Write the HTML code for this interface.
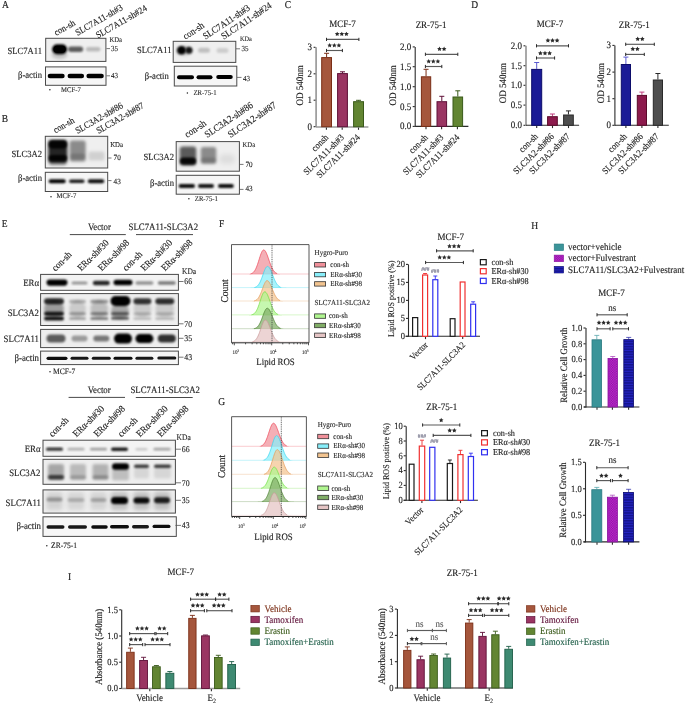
<!DOCTYPE html><html><head><meta charset="utf-8"><style>html,body{margin:0;padding:0;background:#fff;}svg{display:block;filter:blur(0.35px);} text{font-family:"Liberation Serif",serif;text-rendering:geometricPrecision;}</style></head><body><svg width="685" height="704" viewBox="0 0 685 704" font-family="Liberation Serif, serif"><defs><clipPath id="cp1"><rect x="45.7" y="38.3" width="60.2" height="23.1"/></clipPath><filter id="bl2" x="-50%" y="-50%" width="200%" height="200%"><feGaussianBlur stdDeviation="1.8"/></filter><filter id="bl3" x="-50%" y="-50%" width="200%" height="200%"><feGaussianBlur stdDeviation="1.1"/></filter><filter id="bl4" x="-50%" y="-50%" width="200%" height="200%"><feGaussianBlur stdDeviation="0.6"/></filter><filter id="bl5" x="-50%" y="-50%" width="200%" height="200%"><feGaussianBlur stdDeviation="1.3"/></filter><clipPath id="cp6"><rect x="45.5" y="66.9" width="60.5" height="18.4"/></clipPath><filter id="bl7" x="-50%" y="-50%" width="200%" height="200%"><feGaussianBlur stdDeviation="0.7"/></filter><clipPath id="cp8"><rect x="173.2" y="41.3" width="62.6" height="21.1"/></clipPath><filter id="bl9" x="-50%" y="-50%" width="200%" height="200%"><feGaussianBlur stdDeviation="1.5"/></filter><filter id="bl10" x="-50%" y="-50%" width="200%" height="200%"><feGaussianBlur stdDeviation="1"/></filter><filter id="bl11" x="-50%" y="-50%" width="200%" height="200%"><feGaussianBlur stdDeviation="1.2"/></filter><clipPath id="cp12"><rect x="174.3" y="66.2" width="62.5" height="19.8"/></clipPath><clipPath id="cp13"><rect x="45.3" y="136.3" width="62.4" height="31.7"/></clipPath><filter id="bl14" x="-50%" y="-50%" width="200%" height="200%"><feGaussianBlur stdDeviation="1.6"/></filter><clipPath id="cp15"><rect x="45.3" y="172.3" width="62.4" height="19.2"/></clipPath><filter id="bl16" x="-50%" y="-50%" width="200%" height="200%"><feGaussianBlur stdDeviation="0.8"/></filter><clipPath id="cp17"><rect x="176.2" y="141.6" width="63.2" height="29.6"/></clipPath><filter id="bl18" x="-50%" y="-50%" width="200%" height="200%"><feGaussianBlur stdDeviation="2"/></filter><clipPath id="cp19"><rect x="176.2" y="175.3" width="63.2" height="18.9"/></clipPath><clipPath id="cp20"><rect x="40.6" y="274.4" width="137.8" height="15.9"/></clipPath><clipPath id="cp21"><rect x="40.6" y="293.6" width="137.8" height="31.9"/></clipPath><filter id="bl22" x="-50%" y="-50%" width="200%" height="200%"><feGaussianBlur stdDeviation="0.9"/></filter><clipPath id="cp23"><rect x="40.6" y="329.4" width="137.8" height="18.2"/></clipPath><clipPath id="cp24"><rect x="40.6" y="351.1" width="137.8" height="13.5"/></clipPath><clipPath id="cp25"><rect x="43" y="440.2" width="132.4" height="16.1"/></clipPath><clipPath id="cp26"><rect x="43" y="459.3" width="132.4" height="25"/></clipPath><clipPath id="cp27"><rect x="43" y="489.9" width="132.4" height="23.2"/></clipPath><clipPath id="cp28"><rect x="43" y="516.8" width="133.3" height="19.6"/></clipPath><clipPath id="cp29"><rect x="231.5" y="244.6" width="77.5" height="98.2"/></clipPath><clipPath id="cp30"><rect x="231.6" y="416.7" width="74.8" height="99.8"/></clipPath><pattern id="pt31" width="2.4" height="2.4" patternUnits="userSpaceOnUse"><rect width="2.4" height="2.4" fill="#c22ad0"/><rect width="1.2" height="1.2" fill="#8a14a0"/><rect x="1.2" y="1.2" width="1.2" height="1.2" fill="#8a14a0"/></pattern><pattern id="pt32" width="3" height="2.6" patternUnits="userSpaceOnUse"><rect width="3" height="2.6" fill="#14148e"/><rect y="1.6" width="3" height="0.8" fill="#2a2ad6"/></pattern></defs><text transform="translate(2 8.2) scale(0.91 1)" font-size="10.45" text-anchor="start" fill="#1e1e1e" stroke="#1e1e1e" stroke-width="0.16" stroke-linejoin="round">A</text>
<text transform="translate(284.7 7.7) scale(0.91 1)" font-size="10.45" text-anchor="start" fill="#1e1e1e" stroke="#1e1e1e" stroke-width="0.16" stroke-linejoin="round">C</text>
<text transform="translate(471.2 8) scale(0.91 1)" font-size="10.45" text-anchor="start" fill="#1e1e1e" stroke="#1e1e1e" stroke-width="0.16" stroke-linejoin="round">D</text>
<text transform="translate(1.8 122) scale(0.91 1)" font-size="10.45" text-anchor="start" fill="#1e1e1e" stroke="#1e1e1e" stroke-width="0.16" stroke-linejoin="round">B</text>
<text transform="translate(1.7 227) scale(0.91 1)" font-size="10.45" text-anchor="start" fill="#1e1e1e" stroke="#1e1e1e" stroke-width="0.16" stroke-linejoin="round">E</text>
<text transform="translate(218.9 227) scale(0.91 1)" font-size="10.45" text-anchor="start" fill="#1e1e1e" stroke="#1e1e1e" stroke-width="0.16" stroke-linejoin="round">F</text>
<text transform="translate(531.3 228.5) scale(0.91 1)" font-size="10.45" text-anchor="start" fill="#1e1e1e" stroke="#1e1e1e" stroke-width="0.16" stroke-linejoin="round">H</text>
<text transform="translate(218.2 404.5) scale(0.91 1)" font-size="10.45" text-anchor="start" fill="#1e1e1e" stroke="#1e1e1e" stroke-width="0.16" stroke-linejoin="round">G</text>
<text transform="translate(68 579.5) scale(0.91 1)" font-size="10.45" text-anchor="start" fill="#1e1e1e" stroke="#1e1e1e" stroke-width="0.16" stroke-linejoin="round">I</text>
<text transform="translate(56.3 36) rotate(-30) scale(0.91 1)" font-size="9.35" text-anchor="start" fill="#1e1e1e" stroke="#1e1e1e" stroke-width="0.14" stroke-linejoin="round">con-sh</text>
<text transform="translate(77.4 35.9) rotate(-30) scale(0.91 1)" font-size="9.35" text-anchor="start" fill="#1e1e1e" stroke="#1e1e1e" stroke-width="0.14" stroke-linejoin="round">SLC7A11-sh#3</text>
<text transform="translate(98 38.6) rotate(-30) scale(0.91 1)" font-size="9.35" text-anchor="start" fill="#1e1e1e" stroke="#1e1e1e" stroke-width="0.14" stroke-linejoin="round">SLC7A11-sh#24</text>
<rect x="45.7" y="38.3" width="60.2" height="23.1" fill="#efefef"/>
<g clip-path="url(#cp1)">
<ellipse cx="59.5" cy="55" rx="8" ry="4" fill="#000" fill-opacity="0.18" filter="url(#bl2)"/>
<rect x="52.1" y="44.3" width="15" height="10" rx="5" fill="#000" fill-opacity="1" filter="url(#bl3)"/>
<rect x="53.6" y="45.8" width="12" height="7" rx="3.5" fill="#000" fill-opacity="1" filter="url(#bl4)"/>
<rect x="68.1" y="46.55" width="15" height="5.5" rx="2.75" fill="#000" fill-opacity="0.62" filter="url(#bl3)"/>
<rect x="85.95" y="47.05" width="14.5" height="4.5" rx="2.25" fill="#000" fill-opacity="0.22" filter="url(#bl5)"/>
</g>
<rect x="45.7" y="38.3" width="60.2" height="23.1" fill="none" stroke="#4a4a4a" stroke-width="1"/>
<rect x="45.5" y="66.9" width="60.5" height="18.4" fill="#f6f6f6"/>
<g clip-path="url(#cp6)">
<rect x="47.7" y="73.75" width="17" height="4.5" rx="2.25" fill="#000" fill-opacity="1" filter="url(#bl7)"/>
<rect x="67.55" y="73.75" width="16.5" height="4.5" rx="2.25" fill="#000" fill-opacity="1" filter="url(#bl7)"/>
<rect x="86.4" y="73.75" width="17.4" height="4.5" rx="2.25" fill="#000" fill-opacity="1" filter="url(#bl7)"/>
</g>
<rect x="45.5" y="66.9" width="60.5" height="18.4" fill="none" stroke="#4a4a4a" stroke-width="1"/>
<text transform="translate(42 54) scale(0.91 1)" font-size="9.46" text-anchor="end" fill="#1e1e1e" stroke="#1e1e1e" stroke-width="0.14" stroke-linejoin="round">SLC7A11</text>
<text transform="translate(42 78) scale(0.91 1)" font-size="9.46" text-anchor="end" fill="#1e1e1e" stroke="#1e1e1e" stroke-width="0.14" stroke-linejoin="round">β-actin</text>
<text transform="translate(109.4 41.6) scale(0.91 1)" font-size="7.26" text-anchor="start" fill="#1e1e1e" stroke="#1e1e1e" stroke-width="0.11" stroke-linejoin="round">KDa</text>
<line x1="106.4" y1="48.6" x2="110" y2="48.6" stroke="#555" stroke-width="0.8"/>
<text transform="translate(111 51.2) scale(0.91 1)" font-size="7.7" text-anchor="start" fill="#1e1e1e" stroke="#1e1e1e" stroke-width="0.12" stroke-linejoin="round">35</text>
<line x1="106.4" y1="75.8" x2="110" y2="75.8" stroke="#555" stroke-width="0.8"/>
<text transform="translate(111 78.1) scale(0.91 1)" font-size="7.7" text-anchor="start" fill="#1e1e1e" stroke="#1e1e1e" stroke-width="0.12" stroke-linejoin="round">43</text>
<circle cx="49.9" cy="89.8" r="0.75" fill="#222"/>
<text transform="translate(61 92) scale(0.91 1)" font-size="7.37" text-anchor="start" fill="#1e1e1e" stroke="#1e1e1e" stroke-width="0.11" stroke-linejoin="round">MCF-7</text>
<text transform="translate(185.6 39.8) rotate(-34) scale(0.91 1)" font-size="9.57" text-anchor="start" fill="#1e1e1e" stroke="#1e1e1e" stroke-width="0.14" stroke-linejoin="round">con-sh</text>
<text transform="translate(205.6 39.8) rotate(-34) scale(0.91 1)" font-size="9.57" text-anchor="start" fill="#1e1e1e" stroke="#1e1e1e" stroke-width="0.14" stroke-linejoin="round">SLC7A11-sh#3</text>
<text transform="translate(223.8 39.8) rotate(-34) scale(0.91 1)" font-size="9.57" text-anchor="start" fill="#1e1e1e" stroke="#1e1e1e" stroke-width="0.14" stroke-linejoin="round">SLC7A11-sh#24</text>
<rect x="173.2" y="41.3" width="62.6" height="21.1" fill="#efefef"/>
<g clip-path="url(#cp8)">
<ellipse cx="184" cy="51" rx="8" ry="5" fill="#000" fill-opacity="0.15" filter="url(#bl9)"/>
<rect x="177" y="45.95" width="9" height="8.5" rx="4.25" fill="#000" fill-opacity="1" filter="url(#bl10)"/>
<rect x="185.5" y="46.7" width="7" height="7" rx="3.5" fill="#000" fill-opacity="0.9" filter="url(#bl10)"/>
<rect x="198" y="47.8" width="12" height="5" rx="2.5" fill="#000" fill-opacity="0.2" filter="url(#bl11)"/>
<rect x="216.5" y="48" width="12" height="5" rx="2.5" fill="#000" fill-opacity="0.14" filter="url(#bl11)"/>
</g>
<rect x="173.2" y="41.3" width="62.6" height="21.1" fill="none" stroke="#4a4a4a" stroke-width="1"/>
<rect x="174.3" y="66.2" width="62.5" height="19.8" fill="#f6f6f6"/>
<g clip-path="url(#cp12)">
<rect x="177" y="75.3" width="17" height="4" rx="2" fill="#000" fill-opacity="1" filter="url(#bl7)"/>
<rect x="196.5" y="75.3" width="16" height="4" rx="2" fill="#000" fill-opacity="1" filter="url(#bl7)"/>
<rect x="216.25" y="75" width="16.5" height="4" rx="2" fill="#000" fill-opacity="1" filter="url(#bl7)"/>
</g>
<rect x="174.3" y="66.2" width="62.5" height="19.8" fill="none" stroke="#4a4a4a" stroke-width="1"/>
<text transform="translate(171.5 53) scale(0.91 1)" font-size="9.46" text-anchor="end" fill="#1e1e1e" stroke="#1e1e1e" stroke-width="0.14" stroke-linejoin="round">SLC7A11</text>
<text transform="translate(168.8 78.7) scale(0.91 1)" font-size="9.46" text-anchor="end" fill="#1e1e1e" stroke="#1e1e1e" stroke-width="0.14" stroke-linejoin="round">β-actin</text>
<text transform="translate(240 41) scale(0.91 1)" font-size="6.82" text-anchor="start" fill="#1e1e1e" stroke="#1e1e1e" stroke-width="0.1" stroke-linejoin="round">KDa</text>
<line x1="236" y1="48.8" x2="240" y2="48.8" stroke="#555" stroke-width="0.8"/>
<text transform="translate(241.5 50.8) scale(0.91 1)" font-size="7.7" text-anchor="start" fill="#1e1e1e" stroke="#1e1e1e" stroke-width="0.12" stroke-linejoin="round">35</text>
<line x1="237" y1="77.4" x2="241.5" y2="77.4" stroke="#555" stroke-width="0.8"/>
<text transform="translate(243 80.6) scale(0.91 1)" font-size="7.7" text-anchor="start" fill="#1e1e1e" stroke="#1e1e1e" stroke-width="0.12" stroke-linejoin="round">43</text>
<circle cx="187.4" cy="92.9" r="0.75" fill="#222"/>
<text transform="translate(193.5 94.5) scale(0.91 1)" font-size="7.37" text-anchor="start" fill="#1e1e1e" stroke="#1e1e1e" stroke-width="0.11" stroke-linejoin="round">ZR-75-1</text>
<text transform="translate(55.5 133.4) rotate(-30) scale(0.91 1)" font-size="9.35" text-anchor="start" fill="#1e1e1e" stroke="#1e1e1e" stroke-width="0.14" stroke-linejoin="round">con-sh</text>
<text transform="translate(77.4 134) rotate(-30) scale(0.91 1)" font-size="9.35" text-anchor="start" fill="#1e1e1e" stroke="#1e1e1e" stroke-width="0.14" stroke-linejoin="round">SLC3A2-sh#86</text>
<text transform="translate(98.4 134) rotate(-30) scale(0.91 1)" font-size="9.35" text-anchor="start" fill="#1e1e1e" stroke="#1e1e1e" stroke-width="0.14" stroke-linejoin="round">SLC3A2-sh#87</text>
<rect x="45.3" y="136.3" width="62.4" height="31.7" fill="#efefef"/>
<g clip-path="url(#cp13)">
<rect x="48.3" y="140" width="19" height="23" rx="3" fill="#000" fill-opacity="0.85" filter="url(#bl14)"/>
<rect x="49.3" y="160.5" width="17" height="5" rx="2.5" fill="#000" fill-opacity="0.3" filter="url(#bl14)"/>
<rect x="48.8" y="140.5" width="18" height="8" rx="4" fill="#000" fill-opacity="0.9" filter="url(#bl3)"/>
<rect x="48.8" y="155" width="18" height="6" rx="3" fill="#000" fill-opacity="0.9" filter="url(#bl3)"/>
<rect x="69.7" y="140.5" width="16" height="21" rx="2.5" fill="#000" fill-opacity="0.42" filter="url(#bl14)"/>
<rect x="70.2" y="153.5" width="15" height="6" rx="3" fill="#000" fill-opacity="0.15" filter="url(#bl11)"/>
<rect x="88.5" y="151.5" width="16" height="9" rx="2.5" fill="#000" fill-opacity="0.13" filter="url(#bl14)"/>
</g>
<rect x="45.3" y="136.3" width="62.4" height="31.7" fill="none" stroke="#4a4a4a" stroke-width="1"/>
<rect x="45.3" y="172.3" width="62.4" height="19.2" fill="#f6f6f6"/>
<g clip-path="url(#cp15)">
<rect x="48.7" y="179.2" width="17" height="4" rx="2" fill="#000" fill-opacity="1" filter="url(#bl16)"/>
<rect x="69.05" y="179.4" width="15.5" height="3.6" rx="1.8" fill="#000" fill-opacity="0.9" filter="url(#bl16)"/>
<rect x="87.8" y="179.2" width="16.4" height="4" rx="2" fill="#000" fill-opacity="0.95" filter="url(#bl16)"/>
</g>
<rect x="45.3" y="172.3" width="62.4" height="19.2" fill="none" stroke="#4a4a4a" stroke-width="1"/>
<text transform="translate(42 157) scale(0.91 1)" font-size="9.46" text-anchor="end" fill="#1e1e1e" stroke="#1e1e1e" stroke-width="0.14" stroke-linejoin="round">SLC3A2</text>
<text transform="translate(42 180.6) scale(0.91 1)" font-size="9.46" text-anchor="end" fill="#1e1e1e" stroke="#1e1e1e" stroke-width="0.14" stroke-linejoin="round">β-actin</text>
<text transform="translate(110.2 147) scale(0.91 1)" font-size="7.48" text-anchor="start" fill="#1e1e1e" stroke="#1e1e1e" stroke-width="0.11" stroke-linejoin="round">KDa</text>
<line x1="108.2" y1="158" x2="111.5" y2="158" stroke="#555" stroke-width="0.8"/>
<text transform="translate(113.6 159.9) scale(0.91 1)" font-size="7.92" text-anchor="start" fill="#1e1e1e" stroke="#1e1e1e" stroke-width="0.12" stroke-linejoin="round">70</text>
<line x1="108.2" y1="180.6" x2="111.5" y2="180.6" stroke="#555" stroke-width="0.8"/>
<text transform="translate(113.6 183.5) scale(0.91 1)" font-size="7.92" text-anchor="start" fill="#1e1e1e" stroke="#1e1e1e" stroke-width="0.12" stroke-linejoin="round">43</text>
<circle cx="51" cy="196.7" r="0.75" fill="#222"/>
<text transform="translate(56.5 198.3) scale(0.91 1)" font-size="7.37" text-anchor="start" fill="#1e1e1e" stroke="#1e1e1e" stroke-width="0.11" stroke-linejoin="round">MCF-7</text>
<text transform="translate(187.3 138) rotate(-34) scale(0.91 1)" font-size="9.79" text-anchor="start" fill="#1e1e1e" stroke="#1e1e1e" stroke-width="0.15" stroke-linejoin="round">con-sh</text>
<text transform="translate(207.3 138) rotate(-34) scale(0.91 1)" font-size="9.79" text-anchor="start" fill="#1e1e1e" stroke="#1e1e1e" stroke-width="0.15" stroke-linejoin="round">SLC3A2-sh#86</text>
<text transform="translate(230.5 138) rotate(-34) scale(0.91 1)" font-size="9.79" text-anchor="start" fill="#1e1e1e" stroke="#1e1e1e" stroke-width="0.15" stroke-linejoin="round">SLC3A2-sh#87</text>
<rect x="176.2" y="141.6" width="63.2" height="29.6" fill="#efefef"/>
<g clip-path="url(#cp17)">
<rect x="179.75" y="146.5" width="16.5" height="19" rx="3" fill="#000" fill-opacity="0.62" filter="url(#bl9)"/>
<rect x="180" y="157.5" width="16" height="7" rx="3.5" fill="#000" fill-opacity="0.92" filter="url(#bl3)"/>
<rect x="200.75" y="147" width="15.5" height="17" rx="2.5" fill="#000" fill-opacity="0.42" filter="url(#bl9)"/>
<rect x="201" y="157.5" width="15" height="5" rx="2.5" fill="#000" fill-opacity="0.15" filter="url(#bl11)"/>
<rect x="219" y="154" width="16" height="10" rx="5" fill="#000" fill-opacity="0.07" filter="url(#bl18)"/>
</g>
<rect x="176.2" y="141.6" width="63.2" height="29.6" fill="none" stroke="#4a4a4a" stroke-width="1"/>
<rect x="176.2" y="175.3" width="63.2" height="18.9" fill="#f6f6f6"/>
<g clip-path="url(#cp19)">
<rect x="178.6" y="184.1" width="16.4" height="3.8" rx="1.9" fill="#000" fill-opacity="0.95" filter="url(#bl16)"/>
<rect x="198" y="184.1" width="16" height="3.8" rx="1.9" fill="#000" fill-opacity="0.92" filter="url(#bl16)"/>
<rect x="218" y="184.1" width="15.8" height="3.8" rx="1.9" fill="#000" fill-opacity="0.95" filter="url(#bl16)"/>
</g>
<rect x="176.2" y="175.3" width="63.2" height="18.9" fill="none" stroke="#4a4a4a" stroke-width="1"/>
<text transform="translate(174 160.4) scale(0.91 1)" font-size="9.46" text-anchor="end" fill="#1e1e1e" stroke="#1e1e1e" stroke-width="0.14" stroke-linejoin="round">SLC3A2</text>
<text transform="translate(174 186.3) scale(0.91 1)" font-size="9.46" text-anchor="end" fill="#1e1e1e" stroke="#1e1e1e" stroke-width="0.14" stroke-linejoin="round">β-actin</text>
<text transform="translate(242.6 147.2) scale(0.91 1)" font-size="7.26" text-anchor="start" fill="#1e1e1e" stroke="#1e1e1e" stroke-width="0.11" stroke-linejoin="round">KDa</text>
<line x1="239.4" y1="164.4" x2="243.5" y2="164.4" stroke="#555" stroke-width="0.8"/>
<text transform="translate(245.4 167.1) scale(0.91 1)" font-size="7.92" text-anchor="start" fill="#1e1e1e" stroke="#1e1e1e" stroke-width="0.12" stroke-linejoin="round">70</text>
<line x1="239.4" y1="189.4" x2="243.5" y2="189.4" stroke="#555" stroke-width="0.8"/>
<text transform="translate(245.4 191.2) scale(0.91 1)" font-size="7.92" text-anchor="start" fill="#1e1e1e" stroke="#1e1e1e" stroke-width="0.12" stroke-linejoin="round">43</text>
<circle cx="188.9" cy="198.8" r="0.75" fill="#222"/>
<text transform="translate(194.8 200.6) scale(0.91 1)" font-size="7.37" text-anchor="start" fill="#1e1e1e" stroke="#1e1e1e" stroke-width="0.11" stroke-linejoin="round">ZR-75-1</text>
<text transform="translate(342.5 26.5) scale(0.91 1)" font-size="9.9" text-anchor="middle" fill="#1e1e1e" stroke="#1e1e1e" stroke-width="0.15" stroke-linejoin="round">MCF-7</text>
<line x1="316.1" y1="47.3" x2="316.1" y2="127.2" stroke="#9a9a9a" stroke-width="1.7"/>
<line x1="313.6" y1="47.3" x2="315.45" y2="47.3" stroke="#2b2b2b" stroke-width="1.1"/>
<text transform="translate(312.1 50.27) scale(0.91 1)" font-size="9.9" text-anchor="end" fill="#1e1e1e" stroke="#1e1e1e" stroke-width="0.15" stroke-linejoin="round">3</text>
<line x1="313.6" y1="73.8" x2="315.45" y2="73.8" stroke="#2b2b2b" stroke-width="1.1"/>
<text transform="translate(312.1 76.77) scale(0.91 1)" font-size="9.9" text-anchor="end" fill="#1e1e1e" stroke="#1e1e1e" stroke-width="0.15" stroke-linejoin="round">2</text>
<line x1="313.6" y1="100.2" x2="315.45" y2="100.2" stroke="#2b2b2b" stroke-width="1.1"/>
<text transform="translate(312.1 103.17) scale(0.91 1)" font-size="9.9" text-anchor="end" fill="#1e1e1e" stroke="#1e1e1e" stroke-width="0.15" stroke-linejoin="round">1</text>
<line x1="313.6" y1="126.7" x2="315.45" y2="126.7" stroke="#2b2b2b" stroke-width="1.1"/>
<text transform="translate(312.1 129.67) scale(0.91 1)" font-size="9.9" text-anchor="end" fill="#1e1e1e" stroke="#1e1e1e" stroke-width="0.15" stroke-linejoin="round">0</text>
<line x1="316.1" y1="127" x2="368.4" y2="127" stroke="#9a9a9a" stroke-width="1.6"/>
<line x1="326.4" y1="127.6" x2="326.4" y2="129.8" stroke="#2b2b2b" stroke-width="1.1"/>
<line x1="342.2" y1="127.6" x2="342.2" y2="129.8" stroke="#2b2b2b" stroke-width="1.1"/>
<line x1="358.5" y1="127.6" x2="358.5" y2="129.8" stroke="#2b2b2b" stroke-width="1.1"/>
<line x1="326.6" y1="53.3" x2="326.6" y2="57.1" stroke="#7a2e16" stroke-width="1"/>
<line x1="324.1" y1="53.3" x2="329.1" y2="53.3" stroke="#7a2e16" stroke-width="1"/>
<rect x="321.7" y="57.6" width="9.8" height="69.1" fill="#a5563c" stroke="#7a2e16" stroke-width="1"/>
<line x1="342.5" y1="71.8" x2="342.5" y2="73.1" stroke="#5e1038" stroke-width="1"/>
<line x1="340" y1="71.8" x2="345" y2="71.8" stroke="#5e1038" stroke-width="1"/>
<rect x="337.6" y="73.6" width="9.8" height="53.1" fill="#9a3562" stroke="#5e1038" stroke-width="1"/>
<line x1="358.55" y1="100.3" x2="358.55" y2="101.2" stroke="#3a5a1a" stroke-width="1"/>
<line x1="356.05" y1="100.3" x2="361.05" y2="100.3" stroke="#3a5a1a" stroke-width="1"/>
<rect x="353.6" y="101.7" width="9.9" height="25" fill="#628532" stroke="#3a5a1a" stroke-width="1"/>
<line x1="326.5" y1="39.4" x2="358.9" y2="39.4" stroke="#5a5a5a" stroke-width="1.15"/>
<line x1="326.5" y1="37.8" x2="326.5" y2="41" stroke="#2b2b2b" stroke-width="1"/>
<line x1="358.9" y1="37.8" x2="358.9" y2="41" stroke="#2b2b2b" stroke-width="1"/>
<polygon points="337.2,31.65 337.92,33.11 339.53,33.34 338.37,34.48 338.64,36.08 337.2,35.33 335.76,36.08 336.03,34.48 334.87,33.34 336.48,33.11" fill="#2b2b2b"/>
<polygon points="341.8,31.65 342.52,33.11 344.13,33.34 342.97,34.48 343.24,36.08 341.8,35.33 340.36,36.08 340.63,34.48 339.47,33.34 341.08,33.11" fill="#2b2b2b"/>
<polygon points="346.4,31.65 347.12,33.11 348.73,33.34 347.57,34.48 347.84,36.08 346.4,35.33 344.96,36.08 345.23,34.48 344.07,33.34 345.68,33.11" fill="#2b2b2b"/>
<line x1="326.5" y1="50.5" x2="342.4" y2="50.5" stroke="#5a5a5a" stroke-width="1.15"/>
<line x1="326.5" y1="48.9" x2="326.5" y2="52.1" stroke="#2b2b2b" stroke-width="1"/>
<line x1="342.4" y1="48.9" x2="342.4" y2="52.1" stroke="#2b2b2b" stroke-width="1"/>
<polygon points="329.7,42.95 330.42,44.41 332.03,44.64 330.87,45.78 331.14,47.38 329.7,46.62 328.26,47.38 328.53,45.78 327.37,44.64 328.98,44.41" fill="#2b2b2b"/>
<polygon points="334.3,42.95 335.02,44.41 336.63,44.64 335.47,45.78 335.74,47.38 334.3,46.62 332.86,47.38 333.13,45.78 331.97,44.64 333.58,44.41" fill="#2b2b2b"/>
<polygon points="338.9,42.95 339.62,44.41 341.23,44.64 340.07,45.78 340.34,47.38 338.9,46.62 337.46,47.38 337.73,45.78 336.57,44.64 338.18,44.41" fill="#2b2b2b"/>
<text transform="translate(303.2 85.3) rotate(-90) scale(0.91 1)" font-size="9.9" text-anchor="middle" fill="#1e1e1e" stroke="#1e1e1e" stroke-width="0.15" stroke-linejoin="round">OD 540nm</text>
<text transform="translate(329 138) rotate(-45) scale(0.91 1)" font-size="9.35" text-anchor="end" fill="#1e1e1e" stroke="#1e1e1e" stroke-width="0.14" stroke-linejoin="round">consh</text>
<text transform="translate(344.5 138) rotate(-45) scale(0.91 1)" font-size="9.35" text-anchor="end" fill="#1e1e1e" stroke="#1e1e1e" stroke-width="0.14" stroke-linejoin="round">SLC7A11-sh#3</text>
<text transform="translate(360.5 138) rotate(-45) scale(0.91 1)" font-size="9.35" text-anchor="end" fill="#1e1e1e" stroke="#1e1e1e" stroke-width="0.14" stroke-linejoin="round">SLC7A11-sh#24</text>
<text transform="translate(431.1 28.2) scale(0.91 1)" font-size="9.9" text-anchor="middle" fill="#1e1e1e" stroke="#1e1e1e" stroke-width="0.15" stroke-linejoin="round">ZR-75-1</text>
<line x1="415.2" y1="46.9" x2="415.2" y2="126.9" stroke="#2b2b2b" stroke-width="1.1"/>
<line x1="412.7" y1="46.9" x2="414.85" y2="46.9" stroke="#2b2b2b" stroke-width="1.1"/>
<text transform="translate(411.2 49.87) scale(0.91 1)" font-size="9.9" text-anchor="end" fill="#1e1e1e" stroke="#1e1e1e" stroke-width="0.15" stroke-linejoin="round">2.0</text>
<line x1="412.7" y1="66.7" x2="414.85" y2="66.7" stroke="#2b2b2b" stroke-width="1.1"/>
<text transform="translate(411.2 69.67) scale(0.91 1)" font-size="9.9" text-anchor="end" fill="#1e1e1e" stroke="#1e1e1e" stroke-width="0.15" stroke-linejoin="round">1.5</text>
<line x1="412.7" y1="86.7" x2="414.85" y2="86.7" stroke="#2b2b2b" stroke-width="1.1"/>
<text transform="translate(411.2 89.67) scale(0.91 1)" font-size="9.9" text-anchor="end" fill="#1e1e1e" stroke="#1e1e1e" stroke-width="0.15" stroke-linejoin="round">1.0</text>
<line x1="412.7" y1="106.6" x2="414.85" y2="106.6" stroke="#2b2b2b" stroke-width="1.1"/>
<text transform="translate(411.2 109.57) scale(0.91 1)" font-size="9.9" text-anchor="end" fill="#1e1e1e" stroke="#1e1e1e" stroke-width="0.15" stroke-linejoin="round">0.5</text>
<line x1="412.7" y1="126.4" x2="414.85" y2="126.4" stroke="#2b2b2b" stroke-width="1.1"/>
<text transform="translate(411.2 129.37) scale(0.91 1)" font-size="9.9" text-anchor="end" fill="#1e1e1e" stroke="#1e1e1e" stroke-width="0.15" stroke-linejoin="round">0.0</text>
<line x1="415.2" y1="126.4" x2="468.4" y2="126.4" stroke="#2b2b2b" stroke-width="1.1"/>
<line x1="426" y1="126.75" x2="426" y2="129.2" stroke="#2b2b2b" stroke-width="1.1"/>
<line x1="441.6" y1="126.75" x2="441.6" y2="129.2" stroke="#2b2b2b" stroke-width="1.1"/>
<line x1="457.4" y1="126.75" x2="457.4" y2="129.2" stroke="#2b2b2b" stroke-width="1.1"/>
<line x1="426.05" y1="69.3" x2="426.05" y2="76.3" stroke="#7a2e16" stroke-width="1"/>
<line x1="423.55" y1="69.3" x2="428.55" y2="69.3" stroke="#7a2e16" stroke-width="1"/>
<rect x="421.4" y="76.8" width="9.3" height="49.6" fill="#a5563c" stroke="#7a2e16" stroke-width="1"/>
<line x1="441.8" y1="96.3" x2="441.8" y2="101.2" stroke="#5e1038" stroke-width="1"/>
<line x1="439.3" y1="96.3" x2="444.3" y2="96.3" stroke="#5e1038" stroke-width="1"/>
<rect x="437" y="101.7" width="9.6" height="24.7" fill="#9a3562" stroke="#5e1038" stroke-width="1"/>
<line x1="457.8" y1="90.8" x2="457.8" y2="96.5" stroke="#3a5a1a" stroke-width="1"/>
<line x1="455.3" y1="90.8" x2="460.3" y2="90.8" stroke="#3a5a1a" stroke-width="1"/>
<rect x="453" y="97" width="9.6" height="29.4" fill="#628532" stroke="#3a5a1a" stroke-width="1"/>
<line x1="425.4" y1="54.3" x2="457.8" y2="54.3" stroke="#5a5a5a" stroke-width="1.15"/>
<line x1="425.4" y1="52.7" x2="425.4" y2="55.9" stroke="#2b2b2b" stroke-width="1"/>
<line x1="457.8" y1="52.7" x2="457.8" y2="55.9" stroke="#2b2b2b" stroke-width="1"/>
<polygon points="439.5,46.55 440.22,48.01 441.83,48.24 440.67,49.38 440.94,50.98 439.5,50.23 438.06,50.98 438.33,49.38 437.17,48.24 438.78,48.01" fill="#2b2b2b"/>
<polygon points="444.1,46.55 444.82,48.01 446.43,48.24 445.27,49.38 445.54,50.98 444.1,50.23 442.66,50.98 442.93,49.38 441.77,48.24 443.38,48.01" fill="#2b2b2b"/>
<line x1="425.4" y1="66.5" x2="441.8" y2="66.5" stroke="#5a5a5a" stroke-width="1.15"/>
<line x1="425.4" y1="64.9" x2="425.4" y2="68.1" stroke="#2b2b2b" stroke-width="1"/>
<line x1="441.8" y1="64.9" x2="441.8" y2="68.1" stroke="#2b2b2b" stroke-width="1"/>
<polygon points="428.7,58.95 429.42,60.41 431.03,60.64 429.87,61.78 430.14,63.38 428.7,62.62 427.26,63.38 427.53,61.78 426.37,60.64 427.98,60.41" fill="#2b2b2b"/>
<polygon points="433.3,58.95 434.02,60.41 435.63,60.64 434.47,61.78 434.74,63.38 433.3,62.62 431.86,63.38 432.13,61.78 430.97,60.64 432.58,60.41" fill="#2b2b2b"/>
<polygon points="437.9,58.95 438.62,60.41 440.23,60.64 439.07,61.78 439.34,63.38 437.9,62.62 436.46,63.38 436.73,61.78 435.57,60.64 437.18,60.41" fill="#2b2b2b"/>
<text transform="translate(396.2 85.3) rotate(-90) scale(0.91 1)" font-size="9.9" text-anchor="middle" fill="#1e1e1e" stroke="#1e1e1e" stroke-width="0.15" stroke-linejoin="round">OD 540nm</text>
<text transform="translate(428.5 138) rotate(-45) scale(0.91 1)" font-size="9.35" text-anchor="end" fill="#1e1e1e" stroke="#1e1e1e" stroke-width="0.14" stroke-linejoin="round">con-sh</text>
<text transform="translate(444 138) rotate(-45) scale(0.91 1)" font-size="9.35" text-anchor="end" fill="#1e1e1e" stroke="#1e1e1e" stroke-width="0.14" stroke-linejoin="round">SLC7A11-sh#3</text>
<text transform="translate(460 138) rotate(-45) scale(0.91 1)" font-size="9.35" text-anchor="end" fill="#1e1e1e" stroke="#1e1e1e" stroke-width="0.14" stroke-linejoin="round">SLC7A11-sh#24</text>
<text transform="translate(550.1 26.8) scale(0.91 1)" font-size="9.9" text-anchor="middle" fill="#1e1e1e" stroke="#1e1e1e" stroke-width="0.15" stroke-linejoin="round">MCF-7</text>
<line x1="526" y1="45.8" x2="526" y2="125.8" stroke="#9a9a9a" stroke-width="1.7"/>
<line x1="523.5" y1="45.8" x2="525.35" y2="45.8" stroke="#2b2b2b" stroke-width="1.1"/>
<text transform="translate(522 48.77) scale(0.91 1)" font-size="9.9" text-anchor="end" fill="#1e1e1e" stroke="#1e1e1e" stroke-width="0.15" stroke-linejoin="round">2.0</text>
<line x1="523.5" y1="65.7" x2="525.35" y2="65.7" stroke="#2b2b2b" stroke-width="1.1"/>
<text transform="translate(522 68.67) scale(0.91 1)" font-size="9.9" text-anchor="end" fill="#1e1e1e" stroke="#1e1e1e" stroke-width="0.15" stroke-linejoin="round">1.5</text>
<line x1="523.5" y1="85.3" x2="525.35" y2="85.3" stroke="#2b2b2b" stroke-width="1.1"/>
<text transform="translate(522 88.27) scale(0.91 1)" font-size="9.9" text-anchor="end" fill="#1e1e1e" stroke="#1e1e1e" stroke-width="0.15" stroke-linejoin="round">1.0</text>
<line x1="523.5" y1="105.1" x2="525.35" y2="105.1" stroke="#2b2b2b" stroke-width="1.1"/>
<text transform="translate(522 108.07) scale(0.91 1)" font-size="9.9" text-anchor="end" fill="#1e1e1e" stroke="#1e1e1e" stroke-width="0.15" stroke-linejoin="round">0.5</text>
<line x1="523.5" y1="125.3" x2="525.35" y2="125.3" stroke="#2b2b2b" stroke-width="1.1"/>
<text transform="translate(522 128.27) scale(0.91 1)" font-size="9.9" text-anchor="end" fill="#1e1e1e" stroke="#1e1e1e" stroke-width="0.15" stroke-linejoin="round">0.0</text>
<line x1="526" y1="125.3" x2="579.1" y2="125.3" stroke="#2b2b2b" stroke-width="1.1"/>
<line x1="536.7" y1="125.65" x2="536.7" y2="128.1" stroke="#2b2b2b" stroke-width="1.1"/>
<line x1="552.5" y1="125.65" x2="552.5" y2="128.1" stroke="#2b2b2b" stroke-width="1.1"/>
<line x1="568.5" y1="125.65" x2="568.5" y2="128.1" stroke="#2b2b2b" stroke-width="1.1"/>
<line x1="536.7" y1="62.5" x2="536.7" y2="68.9" stroke="#5a5ad0" stroke-width="1"/>
<line x1="534.2" y1="62.5" x2="539.2" y2="62.5" stroke="#5a5ad0" stroke-width="1"/>
<rect x="531.7" y="69.4" width="10" height="55.9" fill="#1a1a96" stroke="#0c0c6a" stroke-width="1"/>
<line x1="552.45" y1="114" x2="552.45" y2="116.2" stroke="#c04080" stroke-width="1"/>
<line x1="549.95" y1="114" x2="554.95" y2="114" stroke="#c04080" stroke-width="1"/>
<rect x="547.6" y="116.7" width="9.7" height="8.6" fill="#8c1a4c" stroke="#5a0a2a" stroke-width="1"/>
<line x1="568.45" y1="110.9" x2="568.45" y2="114.5" stroke="#2a2a2a" stroke-width="1"/>
<line x1="565.95" y1="110.9" x2="570.95" y2="110.9" stroke="#2a2a2a" stroke-width="1"/>
<rect x="563.6" y="115" width="9.7" height="10.3" fill="#4e4e4e" stroke="#2a2a2a" stroke-width="1"/>
<line x1="536.5" y1="45.8" x2="568.5" y2="45.8" stroke="#5a5a5a" stroke-width="1.15"/>
<line x1="536.5" y1="44.2" x2="536.5" y2="47.4" stroke="#2b2b2b" stroke-width="1"/>
<line x1="568.5" y1="44.2" x2="568.5" y2="47.4" stroke="#2b2b2b" stroke-width="1"/>
<polygon points="547.9,38.05 548.62,39.51 550.23,39.74 549.07,40.88 549.34,42.48 547.9,41.73 546.46,42.48 546.73,40.88 545.57,39.74 547.18,39.51" fill="#2b2b2b"/>
<polygon points="552.5,38.05 553.22,39.51 554.83,39.74 553.67,40.88 553.94,42.48 552.5,41.73 551.06,42.48 551.33,40.88 550.17,39.74 551.78,39.51" fill="#2b2b2b"/>
<polygon points="557.1,38.05 557.82,39.51 559.43,39.74 558.27,40.88 558.54,42.48 557.1,41.73 555.66,42.48 555.93,40.88 554.77,39.74 556.38,39.51" fill="#2b2b2b"/>
<line x1="536.5" y1="58" x2="554.6" y2="58" stroke="#5a5a5a" stroke-width="1.15"/>
<line x1="536.5" y1="56.4" x2="536.5" y2="59.6" stroke="#2b2b2b" stroke-width="1"/>
<line x1="554.6" y1="56.4" x2="554.6" y2="59.6" stroke="#2b2b2b" stroke-width="1"/>
<polygon points="540.4,50.85 541.12,52.31 542.73,52.54 541.57,53.68 541.84,55.28 540.4,54.52 538.96,55.28 539.23,53.68 538.07,52.54 539.68,52.31" fill="#2b2b2b"/>
<polygon points="545,50.85 545.72,52.31 547.33,52.54 546.17,53.68 546.44,55.28 545,54.52 543.56,55.28 543.83,53.68 542.67,52.54 544.28,52.31" fill="#2b2b2b"/>
<polygon points="549.6,50.85 550.32,52.31 551.93,52.54 550.77,53.68 551.04,55.28 549.6,54.52 548.16,55.28 548.43,53.68 547.27,52.54 548.88,52.31" fill="#2b2b2b"/>
<text transform="translate(506.4 83.1) rotate(-90) scale(0.91 1)" font-size="9.9" text-anchor="middle" fill="#1e1e1e" stroke="#1e1e1e" stroke-width="0.15" stroke-linejoin="round">OD 540nm</text>
<text transform="translate(538.5 137) rotate(-45) scale(0.91 1)" font-size="9.35" text-anchor="end" fill="#1e1e1e" stroke="#1e1e1e" stroke-width="0.14" stroke-linejoin="round">con-sh</text>
<text transform="translate(554.5 137) rotate(-45) scale(0.91 1)" font-size="9.35" text-anchor="end" fill="#1e1e1e" stroke="#1e1e1e" stroke-width="0.14" stroke-linejoin="round">SLC3A2-sh#86</text>
<text transform="translate(570.5 137) rotate(-45) scale(0.91 1)" font-size="9.35" text-anchor="end" fill="#1e1e1e" stroke="#1e1e1e" stroke-width="0.14" stroke-linejoin="round">SLC3A2-sh#87</text>
<text transform="translate(634.2 28.3) scale(0.91 1)" font-size="9.9" text-anchor="middle" fill="#1e1e1e" stroke="#1e1e1e" stroke-width="0.15" stroke-linejoin="round">ZR-75-1</text>
<line x1="614.9" y1="45.4" x2="614.9" y2="125.8" stroke="#2b2b2b" stroke-width="1.1"/>
<line x1="612.4" y1="45.4" x2="614.55" y2="45.4" stroke="#2b2b2b" stroke-width="1.1"/>
<text transform="translate(610.9 48.37) scale(0.91 1)" font-size="9.9" text-anchor="end" fill="#1e1e1e" stroke="#1e1e1e" stroke-width="0.15" stroke-linejoin="round">3</text>
<line x1="612.4" y1="72.1" x2="614.55" y2="72.1" stroke="#2b2b2b" stroke-width="1.1"/>
<text transform="translate(610.9 75.07) scale(0.91 1)" font-size="9.9" text-anchor="end" fill="#1e1e1e" stroke="#1e1e1e" stroke-width="0.15" stroke-linejoin="round">2</text>
<line x1="612.4" y1="98.7" x2="614.55" y2="98.7" stroke="#2b2b2b" stroke-width="1.1"/>
<text transform="translate(610.9 101.67) scale(0.91 1)" font-size="9.9" text-anchor="end" fill="#1e1e1e" stroke="#1e1e1e" stroke-width="0.15" stroke-linejoin="round">1</text>
<line x1="612.4" y1="125.3" x2="614.55" y2="125.3" stroke="#2b2b2b" stroke-width="1.1"/>
<text transform="translate(610.9 128.27) scale(0.91 1)" font-size="9.9" text-anchor="end" fill="#1e1e1e" stroke="#1e1e1e" stroke-width="0.15" stroke-linejoin="round">0</text>
<line x1="614.9" y1="125.3" x2="668.8" y2="125.3" stroke="#2b2b2b" stroke-width="1.1"/>
<line x1="625.9" y1="125.65" x2="625.9" y2="128.1" stroke="#2b2b2b" stroke-width="1.1"/>
<line x1="641.9" y1="125.65" x2="641.9" y2="128.1" stroke="#2b2b2b" stroke-width="1.1"/>
<line x1="657.9" y1="125.65" x2="657.9" y2="128.1" stroke="#2b2b2b" stroke-width="1.1"/>
<line x1="625.9" y1="57.1" x2="625.9" y2="64" stroke="#5a5ad0" stroke-width="1"/>
<line x1="623.4" y1="57.1" x2="628.4" y2="57.1" stroke="#5a5ad0" stroke-width="1"/>
<rect x="621.3" y="64.5" width="9.2" height="60.8" fill="#1a1a96" stroke="#0c0c6a" stroke-width="1"/>
<line x1="641.9" y1="92.1" x2="641.9" y2="94.9" stroke="#c04080" stroke-width="1"/>
<line x1="639.4" y1="92.1" x2="644.4" y2="92.1" stroke="#c04080" stroke-width="1"/>
<rect x="637.3" y="95.4" width="9.2" height="29.9" fill="#8c1a4c" stroke="#5a0a2a" stroke-width="1"/>
<line x1="657.9" y1="73.5" x2="657.9" y2="79.5" stroke="#2a2a2a" stroke-width="1"/>
<line x1="655.4" y1="73.5" x2="660.4" y2="73.5" stroke="#2a2a2a" stroke-width="1"/>
<rect x="653.3" y="80" width="9.2" height="45.3" fill="#4e4e4e" stroke="#2a2a2a" stroke-width="1"/>
<line x1="625.7" y1="44.3" x2="654.3" y2="44.3" stroke="#5a5a5a" stroke-width="1.15"/>
<line x1="625.7" y1="42.7" x2="625.7" y2="45.9" stroke="#2b2b2b" stroke-width="1"/>
<line x1="654.3" y1="42.7" x2="654.3" y2="45.9" stroke="#2b2b2b" stroke-width="1"/>
<polygon points="637.7,36.55 638.42,38.01 640.03,38.24 638.87,39.38 639.14,40.98 637.7,40.23 636.26,40.98 636.53,39.38 635.37,38.24 636.98,38.01" fill="#2b2b2b"/>
<polygon points="642.3,36.55 643.02,38.01 644.63,38.24 643.47,39.38 643.74,40.98 642.3,40.23 640.86,40.98 641.13,39.38 639.97,38.24 641.58,38.01" fill="#2b2b2b"/>
<line x1="625.7" y1="54.4" x2="644.3" y2="54.4" stroke="#5a5a5a" stroke-width="1.15"/>
<line x1="625.7" y1="52.8" x2="625.7" y2="56" stroke="#2b2b2b" stroke-width="1"/>
<line x1="644.3" y1="52.8" x2="644.3" y2="56" stroke="#2b2b2b" stroke-width="1"/>
<polygon points="632.8,46.55 633.52,48.01 635.13,48.24 633.97,49.38 634.24,50.98 632.8,50.23 631.36,50.98 631.63,49.38 630.47,48.24 632.08,48.01" fill="#2b2b2b"/>
<polygon points="637.4,46.55 638.12,48.01 639.73,48.24 638.57,49.38 638.84,50.98 637.4,50.23 635.96,50.98 636.23,49.38 635.07,48.24 636.68,48.01" fill="#2b2b2b"/>
<text transform="translate(603.6 83.1) rotate(-90) scale(0.91 1)" font-size="9.9" text-anchor="middle" fill="#1e1e1e" stroke="#1e1e1e" stroke-width="0.15" stroke-linejoin="round">OD 540nm</text>
<text transform="translate(627.5 137) rotate(-45) scale(0.91 1)" font-size="9.35" text-anchor="end" fill="#1e1e1e" stroke="#1e1e1e" stroke-width="0.14" stroke-linejoin="round">con-sh</text>
<text transform="translate(643.5 137) rotate(-45) scale(0.91 1)" font-size="9.35" text-anchor="end" fill="#1e1e1e" stroke="#1e1e1e" stroke-width="0.14" stroke-linejoin="round">SLC3A2-sh#86</text>
<text transform="translate(659.5 137) rotate(-45) scale(0.91 1)" font-size="9.35" text-anchor="end" fill="#1e1e1e" stroke="#1e1e1e" stroke-width="0.14" stroke-linejoin="round">SLC3A2-sh#87</text>
<text transform="translate(99.4 229.6) scale(0.91 1)" font-size="9.68" text-anchor="middle" fill="#1e1e1e" stroke="#1e1e1e" stroke-width="0.15" stroke-linejoin="round">Vector</text>
<text transform="translate(163.3 229.6) scale(0.91 1)" font-size="9.68" text-anchor="middle" fill="#1e1e1e" stroke="#1e1e1e" stroke-width="0.15" stroke-linejoin="round">SLC7A11-SLC3A2</text>
<line x1="69.8" y1="234.6" x2="125.8" y2="234.6" stroke="#333" stroke-width="0.9"/>
<line x1="136" y1="234.6" x2="193" y2="234.6" stroke="#333" stroke-width="0.9"/>
<text transform="translate(55.6 271.8) rotate(-45) scale(0.91 1)" font-size="9.68" text-anchor="start" fill="#1e1e1e" stroke="#1e1e1e" stroke-width="0.15" stroke-linejoin="round">con-sh</text>
<text transform="translate(81.2 271.6) rotate(-45) scale(0.91 1)" font-size="9.68" text-anchor="start" fill="#1e1e1e" stroke="#1e1e1e" stroke-width="0.15" stroke-linejoin="round">ERα-sh#30</text>
<text transform="translate(101.7 271.6) rotate(-45) scale(0.91 1)" font-size="9.68" text-anchor="start" fill="#1e1e1e" stroke="#1e1e1e" stroke-width="0.15" stroke-linejoin="round">ERα-sh#98</text>
<text transform="translate(126.2 271.6) rotate(-45) scale(0.91 1)" font-size="9.68" text-anchor="start" fill="#1e1e1e" stroke="#1e1e1e" stroke-width="0.15" stroke-linejoin="round">con-sh</text>
<text transform="translate(144.6 271.6) rotate(-45) scale(0.91 1)" font-size="9.68" text-anchor="start" fill="#1e1e1e" stroke="#1e1e1e" stroke-width="0.15" stroke-linejoin="round">ERα-sh#30</text>
<text transform="translate(165 271.6) rotate(-45) scale(0.91 1)" font-size="9.68" text-anchor="start" fill="#1e1e1e" stroke="#1e1e1e" stroke-width="0.15" stroke-linejoin="round">ERα-sh#98</text>
<text transform="translate(182 274) scale(0.91 1)" font-size="8.25" text-anchor="start" fill="#1e1e1e" stroke="#1e1e1e" stroke-width="0.12" stroke-linejoin="round">KDa</text>
<rect x="40.6" y="274.4" width="137.8" height="15.9" fill="#f3f3f3"/>
<g clip-path="url(#cp20)">
<rect x="46.5" y="279.5" width="21" height="6.2" rx="3.1" fill="#000" fill-opacity="1" filter="url(#bl16)"/>
<rect x="71.5" y="281.5" width="16" height="3" rx="1.5" fill="#000" fill-opacity="0.38" filter="url(#bl16)"/>
<rect x="92.8" y="280.7" width="17" height="4.6" rx="2.3" fill="#000" fill-opacity="0.85" filter="url(#bl16)"/>
<rect x="113.5" y="279.85" width="19" height="5.5" rx="2.75" fill="#000" fill-opacity="1" filter="url(#bl16)"/>
<rect x="135.4" y="281.25" width="18" height="3.5" rx="1.75" fill="#000" fill-opacity="0.4" filter="url(#bl16)"/>
<rect x="157.8" y="281.25" width="18" height="3.5" rx="1.75" fill="#000" fill-opacity="0.5" filter="url(#bl16)"/>
</g>
<rect x="40.6" y="274.4" width="137.8" height="15.9" fill="none" stroke="#4a4a4a" stroke-width="1"/>
<rect x="40.6" y="293.6" width="137.8" height="31.9" fill="#eeeeee"/>
<g clip-path="url(#cp21)">
<rect x="44" y="300" width="20" height="18" rx="9" fill="#000" fill-opacity="0.35" filter="url(#bl9)"/>
<rect x="44" y="298.2" width="20" height="6" rx="3" fill="#000" fill-opacity="0.82" filter="url(#bl10)"/>
<rect x="44" y="311.7" width="20" height="4" rx="2" fill="#000" fill-opacity="0.88" filter="url(#bl16)"/>
<rect x="44" y="316.6" width="20" height="4" rx="2" fill="#000" fill-opacity="0.92" filter="url(#bl16)"/>
<rect x="69" y="300" width="17" height="18" rx="9" fill="#000" fill-opacity="0.15" filter="url(#bl9)"/>
<rect x="69" y="299.65" width="17" height="3.5" rx="1.75" fill="#000" fill-opacity="0.25" filter="url(#bl22)"/>
<rect x="69" y="312.2" width="17" height="3" rx="1.5" fill="#000" fill-opacity="0.3" filter="url(#bl16)"/>
<rect x="69" y="317" width="17" height="3" rx="1.5" fill="#000" fill-opacity="0.3" filter="url(#bl16)"/>
<rect x="90.3" y="300" width="18" height="18" rx="9" fill="#000" fill-opacity="0.2" filter="url(#bl9)"/>
<rect x="90.3" y="299.65" width="18" height="3.5" rx="1.75" fill="#000" fill-opacity="0.35" filter="url(#bl22)"/>
<rect x="90.3" y="312.2" width="18" height="3" rx="1.5" fill="#000" fill-opacity="0.4" filter="url(#bl16)"/>
<rect x="90.3" y="317" width="18" height="3" rx="1.5" fill="#000" fill-opacity="0.45" filter="url(#bl16)"/>
<rect x="111" y="303" width="18" height="16" rx="8" fill="#000" fill-opacity="0.3" filter="url(#bl9)"/>
<rect x="110.5" y="296" width="20" height="10" rx="5" fill="#000" fill-opacity="1" filter="url(#bl10)"/>
<rect x="111" y="312.2" width="18" height="3" rx="1.5" fill="#000" fill-opacity="0.55" filter="url(#bl16)"/>
<rect x="111" y="316.8" width="18" height="3" rx="1.5" fill="#000" fill-opacity="0.6" filter="url(#bl16)"/>
<rect x="133.4" y="301" width="18" height="16" rx="8" fill="#000" fill-opacity="0.15" filter="url(#bl9)"/>
<rect x="133.4" y="298.3" width="18" height="6" rx="3" fill="#000" fill-opacity="0.78" filter="url(#bl10)"/>
<rect x="133.4" y="312.5" width="18" height="3" rx="1.5" fill="#000" fill-opacity="0.2" filter="url(#bl16)"/>
<rect x="133.4" y="317" width="18" height="3" rx="1.5" fill="#000" fill-opacity="0.2" filter="url(#bl16)"/>
<rect x="155.3" y="301" width="19" height="16" rx="8" fill="#000" fill-opacity="0.15" filter="url(#bl9)"/>
<rect x="155.3" y="298.3" width="19" height="6" rx="3" fill="#000" fill-opacity="0.8" filter="url(#bl10)"/>
<rect x="155.3" y="312.5" width="19" height="3" rx="1.5" fill="#000" fill-opacity="0.2" filter="url(#bl16)"/>
<rect x="155.3" y="317" width="19" height="3" rx="1.5" fill="#000" fill-opacity="0.22" filter="url(#bl16)"/>
</g>
<rect x="40.6" y="293.6" width="137.8" height="31.9" fill="none" stroke="#4a4a4a" stroke-width="1"/>
<rect x="40.6" y="329.4" width="137.8" height="18.2" fill="#eeeeee"/>
<g clip-path="url(#cp23)">
<rect x="46.5" y="334.5" width="19" height="8" rx="4" fill="#000" fill-opacity="0.62" filter="url(#bl5)"/>
<rect x="71.5" y="335.5" width="16" height="6" rx="3" fill="#000" fill-opacity="0.35" filter="url(#bl11)"/>
<rect x="93.3" y="335.5" width="16" height="6" rx="3" fill="#000" fill-opacity="0.5" filter="url(#bl11)"/>
<rect x="114" y="333.6" width="18" height="10" rx="5" fill="#000" fill-opacity="1" filter="url(#bl3)"/>
<rect x="135.4" y="334.1" width="18" height="9" rx="4.5" fill="#000" fill-opacity="1" filter="url(#bl3)"/>
<rect x="157.8" y="334.6" width="18" height="8" rx="4" fill="#000" fill-opacity="0.8" filter="url(#bl3)"/>
</g>
<rect x="40.6" y="329.4" width="137.8" height="18.2" fill="none" stroke="#4a4a4a" stroke-width="1"/>
<rect x="40.6" y="351.1" width="137.8" height="13.5" fill="#f6f6f6"/>
<g clip-path="url(#cp24)">
<rect x="46.5" y="356.7" width="21" height="3.2" rx="1.6" fill="#000" fill-opacity="0.95" filter="url(#bl7)"/>
<rect x="70.5" y="356.8" width="18" height="3" rx="1.5" fill="#000" fill-opacity="0.9" filter="url(#bl7)"/>
<rect x="91.8" y="356.8" width="19" height="3" rx="1.5" fill="#000" fill-opacity="0.9" filter="url(#bl7)"/>
<rect x="113.5" y="356.7" width="19" height="3" rx="1.5" fill="#000" fill-opacity="0.95" filter="url(#bl7)"/>
<rect x="135.4" y="356.7" width="18" height="3" rx="1.5" fill="#000" fill-opacity="0.9" filter="url(#bl7)"/>
<rect x="157.3" y="356.5" width="19" height="3" rx="1.5" fill="#000" fill-opacity="0.9" filter="url(#bl7)"/>
</g>
<rect x="40.6" y="351.1" width="137.8" height="13.5" fill="none" stroke="#4a4a4a" stroke-width="1"/>
<text transform="translate(39 286) scale(0.91 1)" font-size="9.68" text-anchor="end" fill="#1e1e1e" stroke="#1e1e1e" stroke-width="0.15" stroke-linejoin="round">ERα</text>
<text transform="translate(39 315.5) scale(0.91 1)" font-size="9.68" text-anchor="end" fill="#1e1e1e" stroke="#1e1e1e" stroke-width="0.15" stroke-linejoin="round">SLC3A2</text>
<text transform="translate(39 341.8) scale(0.91 1)" font-size="9.68" text-anchor="end" fill="#1e1e1e" stroke="#1e1e1e" stroke-width="0.15" stroke-linejoin="round">SLC7A11</text>
<text transform="translate(39 361.4) scale(0.91 1)" font-size="9.68" text-anchor="end" fill="#1e1e1e" stroke="#1e1e1e" stroke-width="0.15" stroke-linejoin="round">β-actin</text>
<line x1="178.4" y1="281.5" x2="183.5" y2="281.5" stroke="#555" stroke-width="0.8"/>
<text transform="translate(184.3 284.2) scale(0.91 1)" font-size="8.58" text-anchor="start" fill="#1e1e1e" stroke="#1e1e1e" stroke-width="0.13" stroke-linejoin="round">66</text>
<line x1="178.4" y1="323.8" x2="183.5" y2="323.8" stroke="#555" stroke-width="0.8"/>
<text transform="translate(184.3 326.5) scale(0.91 1)" font-size="8.58" text-anchor="start" fill="#1e1e1e" stroke="#1e1e1e" stroke-width="0.13" stroke-linejoin="round">70</text>
<line x1="178.4" y1="338.3" x2="183.5" y2="338.3" stroke="#555" stroke-width="0.8"/>
<text transform="translate(184.3 341) scale(0.91 1)" font-size="8.58" text-anchor="start" fill="#1e1e1e" stroke="#1e1e1e" stroke-width="0.13" stroke-linejoin="round">35</text>
<line x1="178.4" y1="357.2" x2="183.5" y2="357.2" stroke="#555" stroke-width="0.8"/>
<text transform="translate(184.3 359.9) scale(0.91 1)" font-size="8.58" text-anchor="start" fill="#1e1e1e" stroke="#1e1e1e" stroke-width="0.13" stroke-linejoin="round">43</text>
<circle cx="50" cy="371.8" r="0.75" fill="#222"/>
<text transform="translate(53 374.2) scale(0.91 1)" font-size="8.36" text-anchor="start" fill="#1e1e1e" stroke="#1e1e1e" stroke-width="0.13" stroke-linejoin="round">MCF-7</text>
<text transform="translate(99.2 393) scale(0.91 1)" font-size="9.68" text-anchor="middle" fill="#1e1e1e" stroke="#1e1e1e" stroke-width="0.15" stroke-linejoin="round">Vector</text>
<text transform="translate(165.2 393) scale(0.91 1)" font-size="9.68" text-anchor="middle" fill="#1e1e1e" stroke="#1e1e1e" stroke-width="0.15" stroke-linejoin="round">SLC7A11-SLC3A2</text>
<line x1="68.6" y1="397.4" x2="125" y2="397.4" stroke="#333" stroke-width="0.9"/>
<line x1="135.8" y1="397.5" x2="192.7" y2="397.5" stroke="#333" stroke-width="0.9"/>
<text transform="translate(52.5 437.5) rotate(-45) scale(0.91 1)" font-size="9.68" text-anchor="start" fill="#1e1e1e" stroke="#1e1e1e" stroke-width="0.15" stroke-linejoin="round">con-sh</text>
<text transform="translate(76.6 437.5) rotate(-45) scale(0.91 1)" font-size="9.68" text-anchor="start" fill="#1e1e1e" stroke="#1e1e1e" stroke-width="0.15" stroke-linejoin="round">ERα-sh#30</text>
<text transform="translate(97.4 437.5) rotate(-45) scale(0.91 1)" font-size="9.68" text-anchor="start" fill="#1e1e1e" stroke="#1e1e1e" stroke-width="0.15" stroke-linejoin="round">ERα-sh#98</text>
<text transform="translate(121.4 437.5) rotate(-45) scale(0.91 1)" font-size="9.68" text-anchor="start" fill="#1e1e1e" stroke="#1e1e1e" stroke-width="0.15" stroke-linejoin="round">con-sh</text>
<text transform="translate(140.1 437.5) rotate(-45) scale(0.91 1)" font-size="9.68" text-anchor="start" fill="#1e1e1e" stroke="#1e1e1e" stroke-width="0.15" stroke-linejoin="round">ERα-sh#30</text>
<text transform="translate(160.9 437.5) rotate(-45) scale(0.91 1)" font-size="9.68" text-anchor="start" fill="#1e1e1e" stroke="#1e1e1e" stroke-width="0.15" stroke-linejoin="round">ERα-sh#98</text>
<text transform="translate(176.6 440.3) scale(0.91 1)" font-size="8.25" text-anchor="start" fill="#1e1e1e" stroke="#1e1e1e" stroke-width="0.12" stroke-linejoin="round">KDa</text>
<rect x="43" y="440.2" width="132.4" height="16.1" fill="#f3f3f3"/>
<g clip-path="url(#cp25)">
<rect x="46" y="447.6" width="17" height="3.2" rx="1.6" fill="#000" fill-opacity="0.8" filter="url(#bl16)"/>
<rect x="67.5" y="447.8" width="17" height="2.8" rx="1.4" fill="#000" fill-opacity="0.28" filter="url(#bl16)"/>
<rect x="90" y="447.8" width="17" height="2.8" rx="1.4" fill="#000" fill-opacity="0.35" filter="url(#bl16)"/>
<rect x="111" y="447.45" width="17" height="3.5" rx="1.75" fill="#000" fill-opacity="0.9" filter="url(#bl16)"/>
<rect x="135.5" y="447.95" width="12" height="2.5" rx="1.25" fill="#000" fill-opacity="0.18" filter="url(#bl16)"/>
<rect x="153.5" y="447.8" width="17" height="2.8" rx="1.4" fill="#000" fill-opacity="0.33" filter="url(#bl16)"/>
</g>
<rect x="43" y="440.2" width="132.4" height="16.1" fill="none" stroke="#4a4a4a" stroke-width="1"/>
<rect x="43" y="459.3" width="132.4" height="25" fill="#eeeeee"/>
<g clip-path="url(#cp26)">
<rect x="48" y="464" width="16" height="16" rx="2" fill="#000" fill-opacity="0.3" filter="url(#bl2)"/>
<rect x="48" y="474.95" width="16" height="4.5" rx="2.25" fill="#000" fill-opacity="0.65" filter="url(#bl10)"/>
<rect x="70" y="464" width="16" height="16" rx="2" fill="#000" fill-opacity="0.22" filter="url(#bl2)"/>
<rect x="70" y="475.2" width="16" height="4" rx="2" fill="#000" fill-opacity="0.18" filter="url(#bl10)"/>
<rect x="92.5" y="464" width="16" height="16" rx="2" fill="#000" fill-opacity="0.25" filter="url(#bl2)"/>
<rect x="92.5" y="475.2" width="16" height="4" rx="2" fill="#000" fill-opacity="0.22" filter="url(#bl10)"/>
<rect x="112" y="467.5" width="17" height="13" rx="2" fill="#000" fill-opacity="0.2" filter="url(#bl2)"/>
<rect x="112" y="463.15" width="17" height="6.5" rx="3.25" fill="#000" fill-opacity="1" filter="url(#bl10)"/>
<rect x="134" y="467.5" width="15" height="11" rx="2" fill="#000" fill-opacity="0.1" filter="url(#bl2)"/>
<rect x="134" y="464.55" width="15" height="3.5" rx="1.75" fill="#000" fill-opacity="0.75" filter="url(#bl22)"/>
<rect x="154" y="467.5" width="17" height="11" rx="2" fill="#000" fill-opacity="0.1" filter="url(#bl2)"/>
<rect x="154" y="464.55" width="17" height="3.5" rx="1.75" fill="#000" fill-opacity="0.75" filter="url(#bl22)"/>
</g>
<rect x="43" y="459.3" width="132.4" height="25" fill="none" stroke="#4a4a4a" stroke-width="1"/>
<rect x="43" y="489.9" width="132.4" height="23.2" fill="#eeeeee"/>
<g clip-path="url(#cp27)">
<rect x="46.5" y="492" width="16" height="18" rx="2" fill="#000" fill-opacity="0.12" filter="url(#bl18)"/>
<rect x="46.5" y="497.5" width="16" height="4" rx="2" fill="#000" fill-opacity="0.3" filter="url(#bl11)"/>
<rect x="67.5" y="492" width="17" height="18" rx="2" fill="#000" fill-opacity="0.1" filter="url(#bl18)"/>
<rect x="67.5" y="498" width="17" height="4" rx="2" fill="#000" fill-opacity="0.2" filter="url(#bl11)"/>
<rect x="90.5" y="492" width="16" height="18" rx="2" fill="#000" fill-opacity="0.11" filter="url(#bl18)"/>
<rect x="90.5" y="498" width="16" height="4" rx="2" fill="#000" fill-opacity="0.24" filter="url(#bl11)"/>
<rect x="111" y="492" width="17" height="18" rx="2" fill="#000" fill-opacity="0.2" filter="url(#bl18)"/>
<rect x="111" y="497.1" width="17" height="7" rx="3.5" fill="#000" fill-opacity="1" filter="url(#bl10)"/>
<rect x="133.5" y="492" width="16" height="18" rx="2" fill="#000" fill-opacity="0.2" filter="url(#bl18)"/>
<rect x="133.5" y="497.6" width="16" height="6" rx="3" fill="#000" fill-opacity="0.95" filter="url(#bl10)"/>
<rect x="154" y="492" width="16" height="18" rx="2" fill="#000" fill-opacity="0.2" filter="url(#bl18)"/>
<rect x="154" y="497.3" width="16" height="6" rx="3" fill="#000" fill-opacity="0.85" filter="url(#bl10)"/>
</g>
<rect x="43" y="489.9" width="132.4" height="23.2" fill="none" stroke="#4a4a4a" stroke-width="1"/>
<rect x="43" y="516.8" width="133.3" height="19.6" fill="#f6f6f6"/>
<g clip-path="url(#cp28)">
<rect x="46.5" y="525.3" width="18" height="3.4" rx="1.7" fill="#000" fill-opacity="0.9" filter="url(#bl7)"/>
<rect x="68" y="525.3" width="19" height="3.4" rx="1.7" fill="#000" fill-opacity="0.9" filter="url(#bl7)"/>
<rect x="91.25" y="525.3" width="16.5" height="3.4" rx="1.7" fill="#000" fill-opacity="0.95" filter="url(#bl7)"/>
<rect x="110" y="525" width="19" height="3.4" rx="1.7" fill="#000" fill-opacity="0.95" filter="url(#bl7)"/>
<rect x="132" y="525" width="17" height="3.4" rx="1.7" fill="#000" fill-opacity="0.9" filter="url(#bl7)"/>
<rect x="152.5" y="524.7" width="18" height="3.4" rx="1.7" fill="#000" fill-opacity="0.95" filter="url(#bl7)"/>
</g>
<rect x="43" y="516.8" width="133.3" height="19.6" fill="none" stroke="#4a4a4a" stroke-width="1"/>
<text transform="translate(40.5 452.4) scale(0.91 1)" font-size="9.68" text-anchor="end" fill="#1e1e1e" stroke="#1e1e1e" stroke-width="0.15" stroke-linejoin="round">ERα</text>
<text transform="translate(40.5 476) scale(0.91 1)" font-size="9.68" text-anchor="end" fill="#1e1e1e" stroke="#1e1e1e" stroke-width="0.15" stroke-linejoin="round">SLC3A2</text>
<text transform="translate(41 506.4) scale(0.91 1)" font-size="9.68" text-anchor="end" fill="#1e1e1e" stroke="#1e1e1e" stroke-width="0.15" stroke-linejoin="round">SLC7A11</text>
<text transform="translate(41 529.4) scale(0.91 1)" font-size="9.68" text-anchor="end" fill="#1e1e1e" stroke="#1e1e1e" stroke-width="0.15" stroke-linejoin="round">β-actin</text>
<line x1="175.4" y1="449.2" x2="181" y2="449.2" stroke="#555" stroke-width="0.8"/>
<text transform="translate(181.8 451.9) scale(0.91 1)" font-size="8.58" text-anchor="start" fill="#1e1e1e" stroke="#1e1e1e" stroke-width="0.13" stroke-linejoin="round">66</text>
<line x1="175.4" y1="482.8" x2="181" y2="482.8" stroke="#555" stroke-width="0.8"/>
<text transform="translate(181.8 485.5) scale(0.91 1)" font-size="8.58" text-anchor="start" fill="#1e1e1e" stroke="#1e1e1e" stroke-width="0.13" stroke-linejoin="round">70</text>
<line x1="175.4" y1="500.3" x2="181" y2="500.3" stroke="#555" stroke-width="0.8"/>
<text transform="translate(181.8 503) scale(0.91 1)" font-size="8.58" text-anchor="start" fill="#1e1e1e" stroke="#1e1e1e" stroke-width="0.13" stroke-linejoin="round">35</text>
<line x1="175.4" y1="525.4" x2="181" y2="525.4" stroke="#555" stroke-width="0.8"/>
<text transform="translate(181.8 528.1) scale(0.91 1)" font-size="8.58" text-anchor="start" fill="#1e1e1e" stroke="#1e1e1e" stroke-width="0.13" stroke-linejoin="round">43</text>
<circle cx="46.8" cy="545.7" r="0.75" fill="#222"/>
<text transform="translate(51 548.2) scale(0.91 1)" font-size="8.36" text-anchor="start" fill="#1e1e1e" stroke="#1e1e1e" stroke-width="0.13" stroke-linejoin="round">ZR-75-1</text>
<g clip-path="url(#cp29)">
<path d="M231.5,274.3 L231.5,274.3 L232,274.3 L232.5,274.3 L233,274.3 L233.5,274.3 L234,274.3 L234.5,274.3 L235,274.3 L235.5,274.3 L236,274.3 L236.5,274.3 L237,274.3 L237.5,274.3 L238,274.3 L238.5,274.3 L239,274.3 L239.5,274.3 L240,274.3 L240.5,274.3 L241,274.3 L241.5,274.3 L242,274.3 L242.5,274.3 L243,274.3 L243.5,274.3 L244,274.3 L244.5,274.3 L245,274.29 L245.5,274.29 L246,274.29 L246.5,274.28 L247,274.27 L247.5,274.25 L248,274.23 L248.5,274.2 L249,274.15 L249.5,274.09 L250,274.01 L250.5,273.9 L251,273.76 L251.5,273.58 L252,273.34 L252.5,273.04 L253,272.67 L253.5,272.21 L254,271.66 L254.5,271 L255,270.22 L255.5,269.32 L256,268.29 L256.5,267.13 L257,265.85 L257.5,264.46 L258,262.98 L258.5,261.42 L259,259.82 L259.5,258.22 L260,256.64 L260.5,255.14 L261,253.76 L261.5,252.54 L262,251.51 L262.5,250.72 L263,250.18 L263.5,249.92 L264,249.94 L264.5,250.2 L265,250.69 L265.5,251.4 L266,252.29 L266.5,253.36 L267,254.57 L267.5,255.9 L268,257.3 L268.5,258.74 L269,260.2 L269.5,261.65 L270,263.06 L270.5,264.41 L271,265.68 L271.5,266.86 L272,267.94 L272.5,268.92 L273,269.79 L273.5,270.56 L274,271.23 L274.5,271.8 L275,272.28 L275.5,272.69 L276,273.03 L276.5,273.3 L277,273.53 L277.5,273.71 L278,273.85 L278.5,273.96 L279,274.05 L279.5,274.11 L280,274.16 L280.5,274.2 L281,274.23 L281.5,274.25 L282,274.26 L282.5,274.28 L283,274.28 L283.5,274.29 L284,274.29 L284.5,274.29 L285,274.3 L285.5,274.3 L286,274.3 L286.5,274.3 L287,274.3 L287.5,274.3 L288,274.3 L288.5,274.3 L289,274.3 L289.5,274.3 L290,274.3 L290.5,274.3 L291,274.3 L291.5,274.3 L292,274.3 L292.5,274.3 L293,274.3 L293.5,274.3 L294,274.3 L294.5,274.3 L295,274.3 L295.5,274.3 L296,274.3 L296.5,274.3 L297,274.3 L297.5,274.3 L298,274.3 L298.5,274.3 L299,274.3 L299.5,274.3 L300,274.3 L300.5,274.3 L301,274.3 L301.5,274.3 L302,274.3 L302.5,274.3 L303,274.3 L303.5,274.3 L304,274.3 L304.5,274.3 L305,274.3 L305.5,274.3 L306,274.3 L306.5,274.3 L307,274.3 L307.5,274.3 L308,274.3 L308.5,274.3 L309,274.3 L309,274.3 Z" fill="#f0909a" fill-opacity="0.72"/>
<path d="M250.5,273.9 L251,273.76 L251.5,273.58 L252,273.34 L252.5,273.04 L253,272.67 L253.5,272.21 L254,271.66 L254.5,271 L255,270.22 L255.5,269.32 L256,268.29 L256.5,267.13 L257,265.85 L257.5,264.46 L258,262.98 L258.5,261.42 L259,259.82 L259.5,258.22 L260,256.64 L260.5,255.14 L261,253.76 L261.5,252.54 L262,251.51 L262.5,250.72 L263,250.18 L263.5,249.92 L264,249.94 L264.5,250.2 L265,250.69 L265.5,251.4 L266,252.29 L266.5,253.36 L267,254.57 L267.5,255.9 L268,257.3 L268.5,258.74 L269,260.2 L269.5,261.65 L270,263.06 L270.5,264.41 L271,265.68 L271.5,266.86 L272,267.94 L272.5,268.92 L273,269.79 L273.5,270.56 L274,271.23 L274.5,271.8 L275,272.28 L275.5,272.69 L276,273.03 L276.5,273.3 L277,273.53" fill="none" stroke="#ee4455" stroke-width="0.7"/>
<line x1="231.5" y1="274" x2="309" y2="274" stroke="#ee4455" stroke-width="0.5" stroke-opacity="0.55"/>
<path d="M231.5,287.9 L231.5,287.9 L232,287.9 L232.5,287.9 L233,287.9 L233.5,287.9 L234,287.9 L234.5,287.9 L235,287.9 L235.5,287.9 L236,287.9 L236.5,287.9 L237,287.9 L237.5,287.9 L238,287.9 L238.5,287.9 L239,287.9 L239.5,287.9 L240,287.9 L240.5,287.9 L241,287.9 L241.5,287.9 L242,287.9 L242.5,287.9 L243,287.9 L243.5,287.9 L244,287.9 L244.5,287.9 L245,287.9 L245.5,287.9 L246,287.9 L246.5,287.9 L247,287.9 L247.5,287.9 L248,287.9 L248.5,287.9 L249,287.89 L249.5,287.89 L250,287.88 L250.5,287.88 L251,287.87 L251.5,287.85 L252,287.83 L252.5,287.79 L253,287.75 L253.5,287.69 L254,287.61 L254.5,287.5 L255,287.36 L255.5,287.18 L256,286.96 L256.5,286.67 L257,286.31 L257.5,285.88 L258,285.35 L258.5,284.73 L259,284 L259.5,283.16 L260,282.21 L260.5,281.15 L261,279.98 L261.5,278.72 L262,277.38 L262.5,275.99 L263,274.58 L263.5,273.17 L264,271.8 L264.5,270.52 L265,269.35 L265.5,268.34 L266,267.51 L266.5,266.9 L267,266.53 L267.5,266.4 L268,266.5 L268.5,266.82 L269,267.32 L269.5,268.02 L270,268.87 L270.5,269.87 L271,270.97 L271.5,272.17 L272,273.42 L272.5,274.7 L273,275.99 L273.5,277.26 L274,278.48 L274.5,279.64 L275,280.73 L275.5,281.74 L276,282.66 L276.5,283.48 L277,284.21 L277.5,284.85 L278,285.4 L278.5,285.88 L279,286.28 L279.5,286.61 L280,286.88 L280.5,287.11 L281,287.29 L281.5,287.43 L282,287.55 L282.5,287.63 L283,287.7 L283.5,287.76 L284,287.79 L284.5,287.82 L285,287.85 L285.5,287.86 L286,287.87 L286.5,287.88 L287,287.89 L287.5,287.89 L288,287.89 L288.5,287.9 L289,287.9 L289.5,287.9 L290,287.9 L290.5,287.9 L291,287.9 L291.5,287.9 L292,287.9 L292.5,287.9 L293,287.9 L293.5,287.9 L294,287.9 L294.5,287.9 L295,287.9 L295.5,287.9 L296,287.9 L296.5,287.9 L297,287.9 L297.5,287.9 L298,287.9 L298.5,287.9 L299,287.9 L299.5,287.9 L300,287.9 L300.5,287.9 L301,287.9 L301.5,287.9 L302,287.9 L302.5,287.9 L303,287.9 L303.5,287.9 L304,287.9 L304.5,287.9 L305,287.9 L305.5,287.9 L306,287.9 L306.5,287.9 L307,287.9 L307.5,287.9 L308,287.9 L308.5,287.9 L309,287.9 L309,287.9 Z" fill="#88eefa" fill-opacity="0.72"/>
<path d="M254.5,287.5 L255,287.36 L255.5,287.18 L256,286.96 L256.5,286.67 L257,286.31 L257.5,285.88 L258,285.35 L258.5,284.73 L259,284 L259.5,283.16 L260,282.21 L260.5,281.15 L261,279.98 L261.5,278.72 L262,277.38 L262.5,275.99 L263,274.58 L263.5,273.17 L264,271.8 L264.5,270.52 L265,269.35 L265.5,268.34 L266,267.51 L266.5,266.9 L267,266.53 L267.5,266.4 L268,266.5 L268.5,266.82 L269,267.32 L269.5,268.02 L270,268.87 L270.5,269.87 L271,270.97 L271.5,272.17 L272,273.42 L272.5,274.7 L273,275.99 L273.5,277.26 L274,278.48 L274.5,279.64 L275,280.73 L275.5,281.74 L276,282.66 L276.5,283.48 L277,284.21 L277.5,284.85 L278,285.4 L278.5,285.88 L279,286.28 L279.5,286.61 L280,286.88 L280.5,287.11" fill="none" stroke="#33d6f0" stroke-width="0.7"/>
<line x1="231.5" y1="287.6" x2="309" y2="287.6" stroke="#33d6f0" stroke-width="0.5" stroke-opacity="0.55"/>
<path d="M231.5,301.3 L231.5,301.3 L232,301.3 L232.5,301.3 L233,301.3 L233.5,301.3 L234,301.3 L234.5,301.3 L235,301.3 L235.5,301.3 L236,301.3 L236.5,301.3 L237,301.3 L237.5,301.3 L238,301.3 L238.5,301.3 L239,301.3 L239.5,301.3 L240,301.3 L240.5,301.3 L241,301.3 L241.5,301.3 L242,301.3 L242.5,301.3 L243,301.3 L243.5,301.3 L244,301.3 L244.5,301.3 L245,301.3 L245.5,301.3 L246,301.3 L246.5,301.3 L247,301.3 L247.5,301.3 L248,301.3 L248.5,301.29 L249,301.29 L249.5,301.29 L250,301.28 L250.5,301.27 L251,301.25 L251.5,301.23 L252,301.21 L252.5,301.17 L253,301.11 L253.5,301.04 L254,300.94 L254.5,300.81 L255,300.65 L255.5,300.44 L256,300.17 L256.5,299.84 L257,299.44 L257.5,298.95 L258,298.37 L258.5,297.69 L259,296.91 L259.5,296.01 L260,295.01 L260.5,293.9 L261,292.71 L261.5,291.43 L262,290.1 L262.5,288.74 L263,287.39 L263.5,286.06 L264,284.81 L264.5,283.66 L265,282.65 L265.5,281.82 L266,281.18 L266.5,280.78 L267,280.6 L267.5,280.66 L268,280.92 L268.5,281.38 L269,282.01 L269.5,282.8 L270,283.74 L270.5,284.78 L271,285.92 L271.5,287.12 L272,288.35 L272.5,289.59 L273,290.81 L273.5,292 L274,293.13 L274.5,294.2 L275,295.18 L275.5,296.08 L276,296.89 L276.5,297.61 L277,298.25 L277.5,298.8 L278,299.27 L278.5,299.66 L279,300 L279.5,300.27 L280,300.5 L280.5,300.68 L281,300.82 L281.5,300.94 L282,301.03 L282.5,301.1 L283,301.15 L283.5,301.19 L284,301.22 L284.5,301.24 L285,301.26 L285.5,301.27 L286,301.28 L286.5,301.29 L287,301.29 L287.5,301.29 L288,301.3 L288.5,301.3 L289,301.3 L289.5,301.3 L290,301.3 L290.5,301.3 L291,301.3 L291.5,301.3 L292,301.3 L292.5,301.3 L293,301.3 L293.5,301.3 L294,301.3 L294.5,301.3 L295,301.3 L295.5,301.3 L296,301.3 L296.5,301.3 L297,301.3 L297.5,301.3 L298,301.3 L298.5,301.3 L299,301.3 L299.5,301.3 L300,301.3 L300.5,301.3 L301,301.3 L301.5,301.3 L302,301.3 L302.5,301.3 L303,301.3 L303.5,301.3 L304,301.3 L304.5,301.3 L305,301.3 L305.5,301.3 L306,301.3 L306.5,301.3 L307,301.3 L307.5,301.3 L308,301.3 L308.5,301.3 L309,301.3 L309,301.3 Z" fill="#f2c490" fill-opacity="0.72"/>
<path d="M254,300.94 L254.5,300.81 L255,300.65 L255.5,300.44 L256,300.17 L256.5,299.84 L257,299.44 L257.5,298.95 L258,298.37 L258.5,297.69 L259,296.91 L259.5,296.01 L260,295.01 L260.5,293.9 L261,292.71 L261.5,291.43 L262,290.1 L262.5,288.74 L263,287.39 L263.5,286.06 L264,284.81 L264.5,283.66 L265,282.65 L265.5,281.82 L266,281.18 L266.5,280.78 L267,280.6 L267.5,280.66 L268,280.92 L268.5,281.38 L269,282.01 L269.5,282.8 L270,283.74 L270.5,284.78 L271,285.92 L271.5,287.12 L272,288.35 L272.5,289.59 L273,290.81 L273.5,292 L274,293.13 L274.5,294.2 L275,295.18 L275.5,296.08 L276,296.89 L276.5,297.61 L277,298.25 L277.5,298.8 L278,299.27 L278.5,299.66 L279,300 L279.5,300.27 L280,300.5" fill="none" stroke="#e49a55" stroke-width="0.7"/>
<line x1="231.5" y1="301" x2="309" y2="301" stroke="#e49a55" stroke-width="0.5" stroke-opacity="0.55"/>
<path d="M231.5,315.2 L231.5,315.2 L232,315.2 L232.5,315.2 L233,315.2 L233.5,315.2 L234,315.2 L234.5,315.2 L235,315.2 L235.5,315.2 L236,315.2 L236.5,315.2 L237,315.2 L237.5,315.2 L238,315.2 L238.5,315.2 L239,315.2 L239.5,315.2 L240,315.2 L240.5,315.2 L241,315.2 L241.5,315.2 L242,315.2 L242.5,315.2 L243,315.2 L243.5,315.2 L244,315.2 L244.5,315.2 L245,315.2 L245.5,315.2 L246,315.19 L246.5,315.19 L247,315.19 L247.5,315.18 L248,315.17 L248.5,315.16 L249,315.14 L249.5,315.11 L250,315.07 L250.5,315.01 L251,314.94 L251.5,314.84 L252,314.71 L252.5,314.54 L253,314.33 L253.5,314.05 L254,313.71 L254.5,313.29 L255,312.78 L255.5,312.17 L256,311.45 L256.5,310.61 L257,309.64 L257.5,308.56 L258,307.35 L258.5,306.04 L259,304.63 L259.5,303.15 L260,301.62 L260.5,300.08 L261,298.56 L261.5,297.11 L262,295.76 L262.5,294.55 L263,293.52 L263.5,292.72 L264,292.15 L264.5,291.85 L265,291.82 L265.5,292.02 L266,292.45 L266.5,293.08 L267,293.91 L267.5,294.91 L268,296.04 L268.5,297.29 L269,298.62 L269.5,300 L270,301.4 L270.5,302.79 L271,304.15 L271.5,305.46 L272,306.7 L272.5,307.85 L273,308.91 L273.5,309.86 L274,310.72 L274.5,311.47 L275,312.13 L275.5,312.7 L276,313.18 L276.5,313.58 L277,313.92 L277.5,314.2 L278,314.42 L278.5,314.6 L279,314.74 L279.5,314.86 L280,314.94 L280.5,315.01 L281,315.06 L281.5,315.1 L282,315.13 L282.5,315.15 L283,315.16 L283.5,315.17 L284,315.18 L284.5,315.19 L285,315.19 L285.5,315.19 L286,315.2 L286.5,315.2 L287,315.2 L287.5,315.2 L288,315.2 L288.5,315.2 L289,315.2 L289.5,315.2 L290,315.2 L290.5,315.2 L291,315.2 L291.5,315.2 L292,315.2 L292.5,315.2 L293,315.2 L293.5,315.2 L294,315.2 L294.5,315.2 L295,315.2 L295.5,315.2 L296,315.2 L296.5,315.2 L297,315.2 L297.5,315.2 L298,315.2 L298.5,315.2 L299,315.2 L299.5,315.2 L300,315.2 L300.5,315.2 L301,315.2 L301.5,315.2 L302,315.2 L302.5,315.2 L303,315.2 L303.5,315.2 L304,315.2 L304.5,315.2 L305,315.2 L305.5,315.2 L306,315.2 L306.5,315.2 L307,315.2 L307.5,315.2 L308,315.2 L308.5,315.2 L309,315.2 L309,315.2 Z" fill="#b0f590" fill-opacity="0.72"/>
<path d="M251.5,314.84 L252,314.71 L252.5,314.54 L253,314.33 L253.5,314.05 L254,313.71 L254.5,313.29 L255,312.78 L255.5,312.17 L256,311.45 L256.5,310.61 L257,309.64 L257.5,308.56 L258,307.35 L258.5,306.04 L259,304.63 L259.5,303.15 L260,301.62 L260.5,300.08 L261,298.56 L261.5,297.11 L262,295.76 L262.5,294.55 L263,293.52 L263.5,292.72 L264,292.15 L264.5,291.85 L265,291.82 L265.5,292.02 L266,292.45 L266.5,293.08 L267,293.91 L267.5,294.91 L268,296.04 L268.5,297.29 L269,298.62 L269.5,300 L270,301.4 L270.5,302.79 L271,304.15 L271.5,305.46 L272,306.7 L272.5,307.85 L273,308.91 L273.5,309.86 L274,310.72 L274.5,311.47 L275,312.13 L275.5,312.7 L276,313.18 L276.5,313.58 L277,313.92 L277.5,314.2 L278,314.42" fill="none" stroke="#70e040" stroke-width="0.7"/>
<line x1="231.5" y1="314.9" x2="309" y2="314.9" stroke="#70e040" stroke-width="0.5" stroke-opacity="0.55"/>
<path d="M231.5,329 L231.5,329 L232,329 L232.5,329 L233,329 L233.5,329 L234,329 L234.5,329 L235,329 L235.5,329 L236,329 L236.5,329 L237,329 L237.5,329 L238,329 L238.5,329 L239,329 L239.5,329 L240,329 L240.5,329 L241,329 L241.5,329 L242,329 L242.5,329 L243,329 L243.5,329 L244,329 L244.5,329 L245,329 L245.5,329 L246,329 L246.5,329 L247,329 L247.5,329 L248,329 L248.5,329 L249,328.99 L249.5,328.99 L250,328.98 L250.5,328.97 L251,328.96 L251.5,328.94 L252,328.92 L252.5,328.88 L253,328.83 L253.5,328.77 L254,328.68 L254.5,328.57 L255,328.42 L255.5,328.23 L256,327.98 L256.5,327.68 L257,327.3 L257.5,326.85 L258,326.31 L258.5,325.66 L259,324.92 L259.5,324.06 L260,323.1 L260.5,322.03 L261,320.86 L261.5,319.61 L262,318.29 L262.5,316.93 L263,315.56 L263.5,314.21 L264,312.92 L264.5,311.72 L265,310.64 L265.5,309.73 L266,309.01 L266.5,308.51 L267,308.24 L267.5,308.22 L268,308.4 L268.5,308.78 L269,309.34 L269.5,310.08 L270,310.96 L270.5,311.97 L271,313.08 L271.5,314.26 L272,315.49 L272.5,316.73 L273,317.97 L273.5,319.18 L274,320.34 L274.5,321.44 L275,322.47 L275.5,323.41 L276,324.26 L276.5,325.02 L277,325.69 L277.5,326.27 L278,326.78 L278.5,327.2 L279,327.56 L279.5,327.86 L280,328.11 L280.5,328.31 L281,328.47 L281.5,328.59 L282,328.69 L282.5,328.77 L283,328.83 L283.5,328.88 L284,328.91 L284.5,328.94 L285,328.95 L285.5,328.97 L286,328.98 L286.5,328.98 L287,328.99 L287.5,328.99 L288,329 L288.5,329 L289,329 L289.5,329 L290,329 L290.5,329 L291,329 L291.5,329 L292,329 L292.5,329 L293,329 L293.5,329 L294,329 L294.5,329 L295,329 L295.5,329 L296,329 L296.5,329 L297,329 L297.5,329 L298,329 L298.5,329 L299,329 L299.5,329 L300,329 L300.5,329 L301,329 L301.5,329 L302,329 L302.5,329 L303,329 L303.5,329 L304,329 L304.5,329 L305,329 L305.5,329 L306,329 L306.5,329 L307,329 L307.5,329 L308,329 L308.5,329 L309,329 L309,329 Z" fill="#80ad66" fill-opacity="0.72"/>
<path d="M254,328.68 L254.5,328.57 L255,328.42 L255.5,328.23 L256,327.98 L256.5,327.68 L257,327.3 L257.5,326.85 L258,326.31 L258.5,325.66 L259,324.92 L259.5,324.06 L260,323.1 L260.5,322.03 L261,320.86 L261.5,319.61 L262,318.29 L262.5,316.93 L263,315.56 L263.5,314.21 L264,312.92 L264.5,311.72 L265,310.64 L265.5,309.73 L266,309.01 L266.5,308.51 L267,308.24 L267.5,308.22 L268,308.4 L268.5,308.78 L269,309.34 L269.5,310.08 L270,310.96 L270.5,311.97 L271,313.08 L271.5,314.26 L272,315.49 L272.5,316.73 L273,317.97 L273.5,319.18 L274,320.34 L274.5,321.44 L275,322.47 L275.5,323.41 L276,324.26 L276.5,325.02 L277,325.69 L277.5,326.27 L278,326.78 L278.5,327.2 L279,327.56 L279.5,327.86 L280,328.11 L280.5,328.31" fill="none" stroke="#4a8030" stroke-width="0.7"/>
<line x1="231.5" y1="328.7" x2="309" y2="328.7" stroke="#4a8030" stroke-width="0.5" stroke-opacity="0.55"/>
<path d="M231.5,342.2 L231.5,342.2 L232,342.2 L232.5,342.2 L233,342.2 L233.5,342.2 L234,342.2 L234.5,342.2 L235,342.2 L235.5,342.2 L236,342.2 L236.5,342.2 L237,342.2 L237.5,342.2 L238,342.2 L238.5,342.2 L239,342.2 L239.5,342.2 L240,342.2 L240.5,342.2 L241,342.2 L241.5,342.2 L242,342.2 L242.5,342.2 L243,342.2 L243.5,342.2 L244,342.2 L244.5,342.2 L245,342.2 L245.5,342.2 L246,342.2 L246.5,342.2 L247,342.19 L247.5,342.19 L248,342.18 L248.5,342.17 L249,342.16 L249.5,342.14 L250,342.12 L250.5,342.08 L251,342.03 L251.5,341.97 L252,341.88 L252.5,341.76 L253,341.61 L253.5,341.42 L254,341.17 L254.5,340.86 L255,340.48 L255.5,340.01 L256,339.45 L256.5,338.78 L257,338.01 L257.5,337.12 L258,336.11 L258.5,334.99 L259,333.77 L259.5,332.45 L260,331.05 L260.5,329.61 L261,328.15 L261.5,326.7 L262,325.31 L262.5,324 L263,322.82 L263.5,321.82 L264,321 L264.5,320.42 L265,320.08 L265.5,320 L266,320.16 L266.5,320.52 L267,321.08 L267.5,321.83 L268,322.75 L268.5,323.8 L269,324.96 L269.5,326.21 L270,327.51 L270.5,328.84 L271,330.17 L271.5,331.47 L272,332.72 L272.5,333.9 L273,335.01 L273.5,336.04 L274,336.96 L274.5,337.79 L275,338.53 L275.5,339.17 L276,339.73 L276.5,340.2 L277,340.6 L277.5,340.93 L278,341.2 L278.5,341.42 L279,341.6 L279.5,341.74 L280,341.85 L280.5,341.94 L281,342.01 L281.5,342.06 L282,342.1 L282.5,342.13 L283,342.15 L283.5,342.16 L284,342.17 L284.5,342.18 L285,342.19 L285.5,342.19 L286,342.19 L286.5,342.2 L287,342.2 L287.5,342.2 L288,342.2 L288.5,342.2 L289,342.2 L289.5,342.2 L290,342.2 L290.5,342.2 L291,342.2 L291.5,342.2 L292,342.2 L292.5,342.2 L293,342.2 L293.5,342.2 L294,342.2 L294.5,342.2 L295,342.2 L295.5,342.2 L296,342.2 L296.5,342.2 L297,342.2 L297.5,342.2 L298,342.2 L298.5,342.2 L299,342.2 L299.5,342.2 L300,342.2 L300.5,342.2 L301,342.2 L301.5,342.2 L302,342.2 L302.5,342.2 L303,342.2 L303.5,342.2 L304,342.2 L304.5,342.2 L305,342.2 L305.5,342.2 L306,342.2 L306.5,342.2 L307,342.2 L307.5,342.2 L308,342.2 L308.5,342.2 L309,342.2 L309,342.2 Z" fill="#e4c4c4" fill-opacity="0.72"/>
<path d="M252.5,341.76 L253,341.61 L253.5,341.42 L254,341.17 L254.5,340.86 L255,340.48 L255.5,340.01 L256,339.45 L256.5,338.78 L257,338.01 L257.5,337.12 L258,336.11 L258.5,334.99 L259,333.77 L259.5,332.45 L260,331.05 L260.5,329.61 L261,328.15 L261.5,326.7 L262,325.31 L262.5,324 L263,322.82 L263.5,321.82 L264,321 L264.5,320.42 L265,320.08 L265.5,320 L266,320.16 L266.5,320.52 L267,321.08 L267.5,321.83 L268,322.75 L268.5,323.8 L269,324.96 L269.5,326.21 L270,327.51 L270.5,328.84 L271,330.17 L271.5,331.47 L272,332.72 L272.5,333.9 L273,335.01 L273.5,336.04 L274,336.96 L274.5,337.79 L275,338.53 L275.5,339.17 L276,339.73 L276.5,340.2 L277,340.6 L277.5,340.93 L278,341.2 L278.5,341.42" fill="none" stroke="#c89898" stroke-width="0.7"/>
<line x1="231.5" y1="341.9" x2="309" y2="341.9" stroke="#c89898" stroke-width="0.5" stroke-opacity="0.55"/>
</g>
<line x1="272" y1="244.6" x2="272" y2="342.8" stroke="#333" stroke-width="0.75" stroke-dasharray="1,0.8"/>
<path d="M231.5,342.8 L231.5,244.6 L309,244.6 L309,342.8" fill="none" stroke="#444" stroke-width="0.9"/>
<line x1="231.5" y1="342.8" x2="309" y2="342.8" stroke="#2b2b2b" stroke-width="1"/>
<line x1="234.3" y1="342.8" x2="234.3" y2="345.3" stroke="#2b2b2b" stroke-width="0.8"/>
<line x1="245.56" y1="342.8" x2="245.56" y2="344.3" stroke="#2b2b2b" stroke-width="0.8"/>
<line x1="252.14" y1="342.8" x2="252.14" y2="344.3" stroke="#2b2b2b" stroke-width="0.8"/>
<line x1="256.82" y1="342.8" x2="256.82" y2="344.3" stroke="#2b2b2b" stroke-width="0.8"/>
<line x1="260.44" y1="342.8" x2="260.44" y2="344.3" stroke="#2b2b2b" stroke-width="0.8"/>
<line x1="263.4" y1="342.8" x2="263.4" y2="344.3" stroke="#2b2b2b" stroke-width="0.8"/>
<line x1="265.91" y1="342.8" x2="265.91" y2="344.3" stroke="#2b2b2b" stroke-width="0.8"/>
<line x1="268.08" y1="342.8" x2="268.08" y2="344.3" stroke="#2b2b2b" stroke-width="0.8"/>
<line x1="269.99" y1="342.8" x2="269.99" y2="344.3" stroke="#2b2b2b" stroke-width="0.8"/>
<line x1="271.7" y1="342.8" x2="271.7" y2="345.3" stroke="#2b2b2b" stroke-width="0.8"/>
<line x1="282.78" y1="342.8" x2="282.78" y2="344.3" stroke="#2b2b2b" stroke-width="0.8"/>
<line x1="289.26" y1="342.8" x2="289.26" y2="344.3" stroke="#2b2b2b" stroke-width="0.8"/>
<line x1="293.86" y1="342.8" x2="293.86" y2="344.3" stroke="#2b2b2b" stroke-width="0.8"/>
<line x1="297.42" y1="342.8" x2="297.42" y2="344.3" stroke="#2b2b2b" stroke-width="0.8"/>
<line x1="300.34" y1="342.8" x2="300.34" y2="344.3" stroke="#2b2b2b" stroke-width="0.8"/>
<line x1="302.8" y1="342.8" x2="302.8" y2="344.3" stroke="#2b2b2b" stroke-width="0.8"/>
<line x1="304.93" y1="342.8" x2="304.93" y2="344.3" stroke="#2b2b2b" stroke-width="0.8"/>
<line x1="306.82" y1="342.8" x2="306.82" y2="344.3" stroke="#2b2b2b" stroke-width="0.8"/>
<line x1="308.5" y1="342.8" x2="308.5" y2="345.3" stroke="#2b2b2b" stroke-width="0.8"/>
<line x1="232.59" y1="342.8" x2="232.59" y2="344.3" stroke="#2b2b2b" stroke-width="0.8"/>
<text transform="translate(235 354) scale(0.91 1)" font-size="5.5" text-anchor="middle" fill="#1e1e1e" stroke="#1e1e1e" stroke-width="0.08" stroke-linejoin="round">10</text>
<text transform="translate(238.1 351.6) scale(0.91 1)" font-size="4.18" text-anchor="middle" fill="#1e1e1e" stroke="#1e1e1e" stroke-width="0.06" stroke-linejoin="round">3</text>
<text transform="translate(272.3 354) scale(0.91 1)" font-size="5.5" text-anchor="middle" fill="#1e1e1e" stroke="#1e1e1e" stroke-width="0.08" stroke-linejoin="round">10</text>
<text transform="translate(275.4 351.6) scale(0.91 1)" font-size="4.18" text-anchor="middle" fill="#1e1e1e" stroke="#1e1e1e" stroke-width="0.06" stroke-linejoin="round">4</text>
<text transform="translate(304.5 354) scale(0.91 1)" font-size="5.5" text-anchor="middle" fill="#1e1e1e" stroke="#1e1e1e" stroke-width="0.08" stroke-linejoin="round">10</text>
<text transform="translate(307.6 351.6) scale(0.91 1)" font-size="4.18" text-anchor="middle" fill="#1e1e1e" stroke="#1e1e1e" stroke-width="0.06" stroke-linejoin="round">5</text>
<text transform="translate(275.5 365.2) scale(0.91 1)" font-size="9.68" text-anchor="middle" fill="#1e1e1e" stroke="#1e1e1e" stroke-width="0.15" stroke-linejoin="round">Lipid ROS</text>
<text transform="translate(227.5 291) rotate(-90) scale(0.91 1)" font-size="10.45" text-anchor="middle" fill="#1e1e1e" stroke="#1e1e1e" stroke-width="0.16" stroke-linejoin="round">Count</text>
<text transform="translate(314.6 255) scale(0.91 1)" font-size="7.7" text-anchor="start" fill="#1e1e1e" stroke="#1e1e1e" stroke-width="0.12" stroke-linejoin="round">Hygro-Puro</text>
<rect x="314.6" y="262.6" width="11" height="4.4" fill="#f0909a" stroke="#333" stroke-width="0.8"/>
<text transform="translate(330.3 267.1) scale(0.91 1)" font-size="7.7" text-anchor="start" fill="#1e1e1e" stroke="#1e1e1e" stroke-width="0.12" stroke-linejoin="round">con-sh</text>
<rect x="314.6" y="272.4" width="11" height="4.4" fill="#88eefa" stroke="#333" stroke-width="0.8"/>
<text transform="translate(330.3 276.9) scale(0.91 1)" font-size="7.7" text-anchor="start" fill="#1e1e1e" stroke="#1e1e1e" stroke-width="0.12" stroke-linejoin="round">ERα-sh#30</text>
<rect x="314.6" y="281.7" width="11" height="4.4" fill="#f2c490" stroke="#333" stroke-width="0.8"/>
<text transform="translate(330.3 286.2) scale(0.91 1)" font-size="7.7" text-anchor="start" fill="#1e1e1e" stroke="#1e1e1e" stroke-width="0.12" stroke-linejoin="round">ERα-sh#98</text>
<text transform="translate(314.6 305) scale(0.91 1)" font-size="7.7" text-anchor="start" fill="#1e1e1e" stroke="#1e1e1e" stroke-width="0.12" stroke-linejoin="round">SLC7A11-SLC3A2</text>
<rect x="314.6" y="313.9" width="11" height="4.4" fill="#b0f590" stroke="#333" stroke-width="0.8"/>
<text transform="translate(329 318.4) scale(0.91 1)" font-size="7.7" text-anchor="start" fill="#1e1e1e" stroke="#1e1e1e" stroke-width="0.12" stroke-linejoin="round">con-sh</text>
<rect x="314.6" y="323.3" width="11" height="4.4" fill="#80ad66" stroke="#333" stroke-width="0.8"/>
<text transform="translate(329 327.8) scale(0.91 1)" font-size="7.7" text-anchor="start" fill="#1e1e1e" stroke="#1e1e1e" stroke-width="0.12" stroke-linejoin="round">ERα-sh#30</text>
<rect x="314.6" y="333.1" width="11" height="4.4" fill="#e4c4c4" stroke="#333" stroke-width="0.8"/>
<text transform="translate(329 337.6) scale(0.91 1)" font-size="7.7" text-anchor="start" fill="#1e1e1e" stroke="#1e1e1e" stroke-width="0.12" stroke-linejoin="round">ERα-sh#98</text>
<g clip-path="url(#cp30)">
<path d="M231.6,446.6 L231.6,446.6 L232.1,446.6 L232.6,446.6 L233.1,446.6 L233.6,446.6 L234.1,446.6 L234.6,446.6 L235.1,446.6 L235.6,446.6 L236.1,446.6 L236.6,446.6 L237.1,446.6 L237.6,446.6 L238.1,446.6 L238.6,446.6 L239.1,446.6 L239.6,446.6 L240.1,446.6 L240.6,446.6 L241.1,446.6 L241.6,446.6 L242.1,446.6 L242.6,446.6 L243.1,446.6 L243.6,446.6 L244.1,446.6 L244.6,446.6 L245.1,446.6 L245.6,446.6 L246.1,446.6 L246.6,446.6 L247.1,446.6 L247.6,446.6 L248.1,446.6 L248.6,446.6 L249.1,446.6 L249.6,446.6 L250.1,446.6 L250.6,446.6 L251.1,446.6 L251.6,446.6 L252.1,446.6 L252.6,446.6 L253.1,446.6 L253.6,446.6 L254.1,446.6 L254.6,446.59 L255.1,446.59 L255.6,446.59 L256.1,446.58 L256.6,446.57 L257.1,446.56 L257.6,446.54 L258.1,446.51 L258.6,446.48 L259.1,446.43 L259.6,446.36 L260.1,446.26 L260.6,446.14 L261.1,445.98 L261.6,445.78 L262.1,445.51 L262.6,445.19 L263.1,444.78 L263.6,444.29 L264.1,443.7 L264.6,443 L265.1,442.18 L265.6,441.25 L266.1,440.18 L266.6,439 L267.1,437.71 L267.6,436.32 L268.1,434.85 L268.6,433.33 L269.1,431.79 L269.6,430.26 L270.1,428.79 L270.6,427.42 L271.1,426.18 L271.6,425.11 L272.1,424.26 L272.6,423.64 L273.1,423.29 L273.6,423.2 L274.1,423.36 L274.6,423.75 L275.1,424.34 L275.6,425.13 L276.1,426.09 L276.6,427.2 L277.1,428.43 L277.6,429.75 L278.1,431.12 L278.6,432.52 L279.1,433.92 L279.6,435.29 L280.1,436.61 L280.6,437.86 L281.1,439.03 L281.6,440.1 L282.1,441.08 L282.6,441.96 L283.1,442.73 L283.6,443.41 L284.1,443.99 L284.6,444.49 L285.1,444.91 L285.6,445.26 L286.1,445.55 L286.6,445.78 L287.1,445.97 L287.6,446.12 L288.1,446.24 L288.6,446.33 L289.1,446.4 L289.6,446.45 L290.1,446.49 L290.6,446.52 L291.1,446.54 L291.6,446.56 L292.1,446.57 L292.6,446.58 L293.1,446.59 L293.6,446.59 L294.1,446.59 L294.6,446.6 L295.1,446.6 L295.6,446.6 L296.1,446.6 L296.6,446.6 L297.1,446.6 L297.6,446.6 L298.1,446.6 L298.6,446.6 L299.1,446.6 L299.6,446.6 L300.1,446.6 L300.6,446.6 L301.1,446.6 L301.6,446.6 L302.1,446.6 L302.6,446.6 L303.1,446.6 L303.6,446.6 L304.1,446.6 L304.6,446.6 L305.1,446.6 L305.6,446.6 L306.1,446.6 L306.4,446.6 Z" fill="#f0909a" fill-opacity="0.72"/>
<path d="M260.6,446.14 L261.1,445.98 L261.6,445.78 L262.1,445.51 L262.6,445.19 L263.1,444.78 L263.6,444.29 L264.1,443.7 L264.6,443 L265.1,442.18 L265.6,441.25 L266.1,440.18 L266.6,439 L267.1,437.71 L267.6,436.32 L268.1,434.85 L268.6,433.33 L269.1,431.79 L269.6,430.26 L270.1,428.79 L270.6,427.42 L271.1,426.18 L271.6,425.11 L272.1,424.26 L272.6,423.64 L273.1,423.29 L273.6,423.2 L274.1,423.36 L274.6,423.75 L275.1,424.34 L275.6,425.13 L276.1,426.09 L276.6,427.2 L277.1,428.43 L277.6,429.75 L278.1,431.12 L278.6,432.52 L279.1,433.92 L279.6,435.29 L280.1,436.61 L280.6,437.86 L281.1,439.03 L281.6,440.1 L282.1,441.08 L282.6,441.96 L283.1,442.73 L283.6,443.41 L284.1,443.99 L284.6,444.49 L285.1,444.91 L285.6,445.26 L286.1,445.55 L286.6,445.78" fill="none" stroke="#ee4455" stroke-width="0.7"/>
<line x1="231.6" y1="446.3" x2="306.4" y2="446.3" stroke="#ee4455" stroke-width="0.5" stroke-opacity="0.55"/>
<path d="M231.6,460.6 L231.6,460.6 L232.1,460.6 L232.6,460.6 L233.1,460.6 L233.6,460.6 L234.1,460.6 L234.6,460.6 L235.1,460.6 L235.6,460.6 L236.1,460.6 L236.6,460.6 L237.1,460.6 L237.6,460.6 L238.1,460.6 L238.6,460.6 L239.1,460.6 L239.6,460.6 L240.1,460.6 L240.6,460.6 L241.1,460.6 L241.6,460.6 L242.1,460.6 L242.6,460.6 L243.1,460.6 L243.6,460.6 L244.1,460.6 L244.6,460.6 L245.1,460.6 L245.6,460.6 L246.1,460.6 L246.6,460.6 L247.1,460.6 L247.6,460.6 L248.1,460.6 L248.6,460.6 L249.1,460.6 L249.6,460.6 L250.1,460.6 L250.6,460.6 L251.1,460.6 L251.6,460.6 L252.1,460.6 L252.6,460.6 L253.1,460.6 L253.6,460.6 L254.1,460.6 L254.6,460.6 L255.1,460.6 L255.6,460.6 L256.1,460.6 L256.6,460.6 L257.1,460.6 L257.6,460.6 L258.1,460.59 L258.6,460.59 L259.1,460.58 L259.6,460.57 L260.1,460.56 L260.6,460.54 L261.1,460.51 L261.6,460.48 L262.1,460.43 L262.6,460.36 L263.1,460.26 L263.6,460.14 L264.1,459.98 L264.6,459.77 L265.1,459.5 L265.6,459.17 L266.1,458.75 L266.6,458.25 L267.1,457.64 L267.6,456.91 L268.1,456.07 L268.6,455.09 L269.1,453.98 L269.6,452.75 L270.1,451.39 L270.6,449.92 L271.1,448.37 L271.6,446.75 L272.1,445.11 L272.6,443.47 L273.1,441.88 L273.6,440.39 L274.1,439.03 L274.6,437.85 L275.1,436.89 L275.6,436.18 L276.1,435.75 L276.6,435.6 L277.1,435.72 L277.6,436.08 L278.1,436.67 L278.6,437.48 L279.1,438.47 L279.6,439.63 L280.1,440.92 L280.6,442.31 L281.1,443.77 L281.6,445.26 L282.1,446.75 L282.6,448.22 L283.1,449.64 L283.6,451 L284.1,452.27 L284.6,453.44 L285.1,454.5 L285.6,455.46 L286.1,456.31 L286.6,457.05 L287.1,457.7 L287.6,458.25 L288.1,458.71 L288.6,459.1 L289.1,459.42 L289.6,459.68 L290.1,459.89 L290.6,460.06 L291.1,460.19 L291.6,460.29 L292.1,460.37 L292.6,460.43 L293.1,460.48 L293.6,460.51 L294.1,460.54 L294.6,460.56 L295.1,460.57 L295.6,460.58 L296.1,460.59 L296.6,460.59 L297.1,460.59 L297.6,460.6 L298.1,460.6 L298.6,460.6 L299.1,460.6 L299.6,460.6 L300.1,460.6 L300.6,460.6 L301.1,460.6 L301.6,460.6 L302.1,460.6 L302.6,460.6 L303.1,460.6 L303.6,460.6 L304.1,460.6 L304.6,460.6 L305.1,460.6 L305.6,460.6 L306.1,460.6 L306.4,460.6 Z" fill="#88eefa" fill-opacity="0.72"/>
<path d="M263.6,460.14 L264.1,459.98 L264.6,459.77 L265.1,459.5 L265.6,459.17 L266.1,458.75 L266.6,458.25 L267.1,457.64 L267.6,456.91 L268.1,456.07 L268.6,455.09 L269.1,453.98 L269.6,452.75 L270.1,451.39 L270.6,449.92 L271.1,448.37 L271.6,446.75 L272.1,445.11 L272.6,443.47 L273.1,441.88 L273.6,440.39 L274.1,439.03 L274.6,437.85 L275.1,436.89 L275.6,436.18 L276.1,435.75 L276.6,435.6 L277.1,435.72 L277.6,436.08 L278.1,436.67 L278.6,437.48 L279.1,438.47 L279.6,439.63 L280.1,440.92 L280.6,442.31 L281.1,443.77 L281.6,445.26 L282.1,446.75 L282.6,448.22 L283.1,449.64 L283.6,451 L284.1,452.27 L284.6,453.44 L285.1,454.5 L285.6,455.46 L286.1,456.31 L286.6,457.05 L287.1,457.7 L287.6,458.25 L288.1,458.71 L288.6,459.1 L289.1,459.42 L289.6,459.68" fill="none" stroke="#33d6f0" stroke-width="0.7"/>
<line x1="231.6" y1="460.3" x2="306.4" y2="460.3" stroke="#33d6f0" stroke-width="0.5" stroke-opacity="0.55"/>
<path d="M231.6,474.6 L231.6,474.6 L232.1,474.6 L232.6,474.6 L233.1,474.6 L233.6,474.6 L234.1,474.6 L234.6,474.6 L235.1,474.6 L235.6,474.6 L236.1,474.6 L236.6,474.6 L237.1,474.6 L237.6,474.6 L238.1,474.6 L238.6,474.6 L239.1,474.6 L239.6,474.6 L240.1,474.6 L240.6,474.6 L241.1,474.6 L241.6,474.6 L242.1,474.6 L242.6,474.6 L243.1,474.6 L243.6,474.6 L244.1,474.6 L244.6,474.6 L245.1,474.6 L245.6,474.6 L246.1,474.6 L246.6,474.6 L247.1,474.6 L247.6,474.6 L248.1,474.6 L248.6,474.6 L249.1,474.6 L249.6,474.6 L250.1,474.6 L250.6,474.6 L251.1,474.6 L251.6,474.6 L252.1,474.6 L252.6,474.6 L253.1,474.6 L253.6,474.6 L254.1,474.6 L254.6,474.6 L255.1,474.6 L255.6,474.6 L256.1,474.6 L256.6,474.6 L257.1,474.6 L257.6,474.6 L258.1,474.6 L258.6,474.59 L259.1,474.59 L259.6,474.58 L260.1,474.58 L260.6,474.57 L261.1,474.55 L261.6,474.53 L262.1,474.49 L262.6,474.45 L263.1,474.39 L263.6,474.3 L264.1,474.19 L264.6,474.05 L265.1,473.86 L265.6,473.62 L266.1,473.31 L266.6,472.93 L267.1,472.46 L267.6,471.89 L268.1,471.22 L268.6,470.42 L269.1,469.5 L269.6,468.44 L270.1,467.26 L270.6,465.94 L271.1,464.52 L271.6,463 L272.1,461.4 L272.6,459.77 L273.1,458.12 L273.6,456.51 L274.1,454.97 L274.6,453.56 L275.1,452.3 L275.6,451.25 L276.1,450.44 L276.6,449.89 L277.1,449.62 L277.6,449.64 L278.1,449.91 L278.6,450.41 L279.1,451.13 L279.6,452.05 L280.1,453.15 L280.6,454.39 L281.1,455.74 L281.6,457.18 L282.1,458.66 L282.6,460.16 L283.1,461.64 L283.6,463.08 L284.1,464.47 L284.6,465.77 L285.1,466.98 L285.6,468.09 L286.1,469.09 L286.6,469.98 L287.1,470.77 L287.6,471.45 L288.1,472.04 L288.6,472.53 L289.1,472.95 L289.6,473.3 L290.1,473.58 L290.6,473.81 L291.1,473.99 L291.6,474.14 L292.1,474.25 L292.6,474.34 L293.1,474.41 L293.6,474.46 L294.1,474.5 L294.6,474.53 L295.1,474.55 L295.6,474.56 L296.1,474.57 L296.6,474.58 L297.1,474.59 L297.6,474.59 L298.1,474.59 L298.6,474.6 L299.1,474.6 L299.6,474.6 L300.1,474.6 L300.6,474.6 L301.1,474.6 L301.6,474.6 L302.1,474.6 L302.6,474.6 L303.1,474.6 L303.6,474.6 L304.1,474.6 L304.6,474.6 L305.1,474.6 L305.6,474.6 L306.1,474.6 L306.4,474.6 Z" fill="#f2c490" fill-opacity="0.72"/>
<path d="M264.1,474.19 L264.6,474.05 L265.1,473.86 L265.6,473.62 L266.1,473.31 L266.6,472.93 L267.1,472.46 L267.6,471.89 L268.1,471.22 L268.6,470.42 L269.1,469.5 L269.6,468.44 L270.1,467.26 L270.6,465.94 L271.1,464.52 L271.6,463 L272.1,461.4 L272.6,459.77 L273.1,458.12 L273.6,456.51 L274.1,454.97 L274.6,453.56 L275.1,452.3 L275.6,451.25 L276.1,450.44 L276.6,449.89 L277.1,449.62 L277.6,449.64 L278.1,449.91 L278.6,450.41 L279.1,451.13 L279.6,452.05 L280.1,453.15 L280.6,454.39 L281.1,455.74 L281.6,457.18 L282.1,458.66 L282.6,460.16 L283.1,461.64 L283.6,463.08 L284.1,464.47 L284.6,465.77 L285.1,466.98 L285.6,468.09 L286.1,469.09 L286.6,469.98 L287.1,470.77 L287.6,471.45 L288.1,472.04 L288.6,472.53 L289.1,472.95 L289.6,473.3 L290.1,473.58 L290.6,473.81" fill="none" stroke="#e49a55" stroke-width="0.7"/>
<line x1="231.6" y1="474.3" x2="306.4" y2="474.3" stroke="#e49a55" stroke-width="0.5" stroke-opacity="0.55"/>
<path d="M231.6,488.6 L231.6,488.6 L232.1,488.6 L232.6,488.6 L233.1,488.6 L233.6,488.6 L234.1,488.6 L234.6,488.6 L235.1,488.6 L235.6,488.6 L236.1,488.6 L236.6,488.6 L237.1,488.6 L237.6,488.6 L238.1,488.6 L238.6,488.6 L239.1,488.6 L239.6,488.6 L240.1,488.6 L240.6,488.6 L241.1,488.6 L241.6,488.6 L242.1,488.6 L242.6,488.6 L243.1,488.6 L243.6,488.6 L244.1,488.6 L244.6,488.6 L245.1,488.6 L245.6,488.6 L246.1,488.6 L246.6,488.6 L247.1,488.6 L247.6,488.6 L248.1,488.6 L248.6,488.6 L249.1,488.6 L249.6,488.6 L250.1,488.6 L250.6,488.6 L251.1,488.6 L251.6,488.6 L252.1,488.6 L252.6,488.6 L253.1,488.6 L253.6,488.6 L254.1,488.6 L254.6,488.6 L255.1,488.6 L255.6,488.59 L256.1,488.59 L256.6,488.59 L257.1,488.58 L257.6,488.57 L258.1,488.55 L258.6,488.53 L259.1,488.5 L259.6,488.46 L260.1,488.4 L260.6,488.33 L261.1,488.23 L261.6,488.1 L262.1,487.92 L262.6,487.71 L263.1,487.43 L263.6,487.09 L264.1,486.67 L264.6,486.16 L265.1,485.56 L265.6,484.86 L266.1,484.04 L266.6,483.11 L267.1,482.07 L267.6,480.92 L268.1,479.68 L268.6,478.35 L269.1,476.97 L269.6,475.56 L270.1,474.15 L270.6,472.77 L271.1,471.47 L271.6,470.27 L272.1,469.23 L272.6,468.36 L273.1,467.71 L273.6,467.28 L274.1,467.11 L274.6,467.17 L275.1,467.44 L275.6,467.91 L276.1,468.56 L276.6,469.39 L277.1,470.36 L277.6,471.44 L278.1,472.63 L278.6,473.87 L279.1,475.15 L279.6,476.43 L280.1,477.71 L280.6,478.94 L281.1,480.11 L281.6,481.22 L282.1,482.24 L282.6,483.18 L283.1,484.02 L283.6,484.77 L284.1,485.43 L284.6,486 L285.1,486.49 L285.6,486.9 L286.1,487.25 L286.6,487.53 L287.1,487.77 L287.6,487.95 L288.1,488.11 L288.6,488.23 L289.1,488.32 L289.6,488.39 L290.1,488.45 L290.6,488.49 L291.1,488.52 L291.6,488.54 L292.1,488.56 L292.6,488.57 L293.1,488.58 L293.6,488.59 L294.1,488.59 L294.6,488.59 L295.1,488.6 L295.6,488.6 L296.1,488.6 L296.6,488.6 L297.1,488.6 L297.6,488.6 L298.1,488.6 L298.6,488.6 L299.1,488.6 L299.6,488.6 L300.1,488.6 L300.6,488.6 L301.1,488.6 L301.6,488.6 L302.1,488.6 L302.6,488.6 L303.1,488.6 L303.6,488.6 L304.1,488.6 L304.6,488.6 L305.1,488.6 L305.6,488.6 L306.1,488.6 L306.4,488.6 Z" fill="#b0f590" fill-opacity="0.72"/>
<path d="M261.1,488.23 L261.6,488.1 L262.1,487.92 L262.6,487.71 L263.1,487.43 L263.6,487.09 L264.1,486.67 L264.6,486.16 L265.1,485.56 L265.6,484.86 L266.1,484.04 L266.6,483.11 L267.1,482.07 L267.6,480.92 L268.1,479.68 L268.6,478.35 L269.1,476.97 L269.6,475.56 L270.1,474.15 L270.6,472.77 L271.1,471.47 L271.6,470.27 L272.1,469.23 L272.6,468.36 L273.1,467.71 L273.6,467.28 L274.1,467.11 L274.6,467.17 L275.1,467.44 L275.6,467.91 L276.1,468.56 L276.6,469.39 L277.1,470.36 L277.6,471.44 L278.1,472.63 L278.6,473.87 L279.1,475.15 L279.6,476.43 L280.1,477.71 L280.6,478.94 L281.1,480.11 L281.6,481.22 L282.1,482.24 L282.6,483.18 L283.1,484.02 L283.6,484.77 L284.1,485.43 L284.6,486 L285.1,486.49 L285.6,486.9 L286.1,487.25 L286.6,487.53 L287.1,487.77" fill="none" stroke="#70e040" stroke-width="0.7"/>
<line x1="231.6" y1="488.3" x2="306.4" y2="488.3" stroke="#70e040" stroke-width="0.5" stroke-opacity="0.55"/>
<path d="M231.6,501.9 L231.6,501.9 L232.1,501.9 L232.6,501.9 L233.1,501.9 L233.6,501.9 L234.1,501.9 L234.6,501.9 L235.1,501.9 L235.6,501.9 L236.1,501.9 L236.6,501.9 L237.1,501.9 L237.6,501.9 L238.1,501.9 L238.6,501.9 L239.1,501.9 L239.6,501.9 L240.1,501.9 L240.6,501.9 L241.1,501.9 L241.6,501.9 L242.1,501.9 L242.6,501.9 L243.1,501.9 L243.6,501.9 L244.1,501.9 L244.6,501.9 L245.1,501.9 L245.6,501.9 L246.1,501.9 L246.6,501.9 L247.1,501.9 L247.6,501.9 L248.1,501.9 L248.6,501.9 L249.1,501.9 L249.6,501.9 L250.1,501.9 L250.6,501.9 L251.1,501.9 L251.6,501.9 L252.1,501.9 L252.6,501.9 L253.1,501.9 L253.6,501.9 L254.1,501.9 L254.6,501.9 L255.1,501.9 L255.6,501.9 L256.1,501.89 L256.6,501.89 L257.1,501.89 L257.6,501.88 L258.1,501.87 L258.6,501.86 L259.1,501.84 L259.6,501.81 L260.1,501.77 L260.6,501.72 L261.1,501.65 L261.6,501.55 L262.1,501.42 L262.6,501.26 L263.1,501.04 L263.6,500.77 L264.1,500.43 L264.6,500.01 L265.1,499.5 L265.6,498.89 L266.1,498.16 L266.6,497.31 L267.1,496.34 L267.6,495.24 L268.1,494.01 L268.6,492.67 L269.1,491.22 L269.6,489.7 L270.1,488.12 L270.6,486.52 L271.1,484.94 L271.6,483.41 L272.1,481.98 L272.6,480.69 L273.1,479.59 L273.6,478.7 L274.1,478.06 L274.6,477.69 L275.1,477.6 L275.6,477.77 L276.1,478.17 L276.6,478.78 L277.1,479.61 L277.6,480.61 L278.1,481.76 L278.6,483.03 L279.1,484.4 L279.6,485.83 L280.1,487.28 L280.6,488.73 L281.1,490.15 L281.6,491.52 L282.1,492.82 L282.6,494.03 L283.1,495.15 L283.6,496.17 L284.1,497.08 L284.6,497.88 L285.1,498.59 L285.6,499.19 L286.1,499.71 L286.6,500.14 L287.1,500.51 L287.6,500.81 L288.1,501.05 L288.6,501.24 L289.1,501.4 L289.6,501.52 L290.1,501.62 L290.6,501.69 L291.1,501.75 L291.6,501.79 L292.1,501.82 L292.6,501.84 L293.1,501.86 L293.6,501.87 L294.1,501.88 L294.6,501.89 L295.1,501.89 L295.6,501.89 L296.1,501.9 L296.6,501.9 L297.1,501.9 L297.6,501.9 L298.1,501.9 L298.6,501.9 L299.1,501.9 L299.6,501.9 L300.1,501.9 L300.6,501.9 L301.1,501.9 L301.6,501.9 L302.1,501.9 L302.6,501.9 L303.1,501.9 L303.6,501.9 L304.1,501.9 L304.6,501.9 L305.1,501.9 L305.6,501.9 L306.1,501.9 L306.4,501.9 Z" fill="#80ad66" fill-opacity="0.72"/>
<path d="M262.1,501.42 L262.6,501.26 L263.1,501.04 L263.6,500.77 L264.1,500.43 L264.6,500.01 L265.1,499.5 L265.6,498.89 L266.1,498.16 L266.6,497.31 L267.1,496.34 L267.6,495.24 L268.1,494.01 L268.6,492.67 L269.1,491.22 L269.6,489.7 L270.1,488.12 L270.6,486.52 L271.1,484.94 L271.6,483.41 L272.1,481.98 L272.6,480.69 L273.1,479.59 L273.6,478.7 L274.1,478.06 L274.6,477.69 L275.1,477.6 L275.6,477.77 L276.1,478.17 L276.6,478.78 L277.1,479.61 L277.6,480.61 L278.1,481.76 L278.6,483.03 L279.1,484.4 L279.6,485.83 L280.1,487.28 L280.6,488.73 L281.1,490.15 L281.6,491.52 L282.1,492.82 L282.6,494.03 L283.1,495.15 L283.6,496.17 L284.1,497.08 L284.6,497.88 L285.1,498.59 L285.6,499.19 L286.1,499.71 L286.6,500.14 L287.1,500.51 L287.6,500.81 L288.1,501.05" fill="none" stroke="#4a8030" stroke-width="0.7"/>
<line x1="231.6" y1="501.6" x2="306.4" y2="501.6" stroke="#4a8030" stroke-width="0.5" stroke-opacity="0.55"/>
<path d="M231.6,515.7 L231.6,515.7 L232.1,515.7 L232.6,515.7 L233.1,515.7 L233.6,515.7 L234.1,515.7 L234.6,515.7 L235.1,515.7 L235.6,515.7 L236.1,515.7 L236.6,515.7 L237.1,515.7 L237.6,515.7 L238.1,515.7 L238.6,515.7 L239.1,515.7 L239.6,515.7 L240.1,515.7 L240.6,515.7 L241.1,515.7 L241.6,515.7 L242.1,515.7 L242.6,515.7 L243.1,515.7 L243.6,515.7 L244.1,515.7 L244.6,515.7 L245.1,515.7 L245.6,515.7 L246.1,515.7 L246.6,515.7 L247.1,515.7 L247.6,515.7 L248.1,515.7 L248.6,515.7 L249.1,515.7 L249.6,515.7 L250.1,515.7 L250.6,515.7 L251.1,515.7 L251.6,515.7 L252.1,515.7 L252.6,515.7 L253.1,515.7 L253.6,515.7 L254.1,515.7 L254.6,515.7 L255.1,515.7 L255.6,515.69 L256.1,515.69 L256.6,515.68 L257.1,515.68 L257.6,515.67 L258.1,515.65 L258.6,515.63 L259.1,515.6 L259.6,515.55 L260.1,515.49 L260.6,515.41 L261.1,515.3 L261.6,515.16 L262.1,514.98 L262.6,514.75 L263.1,514.45 L263.6,514.09 L264.1,513.64 L264.6,513.11 L265.1,512.46 L265.6,511.71 L266.1,510.84 L266.6,509.85 L267.1,508.74 L267.6,507.52 L268.1,506.19 L268.6,504.79 L269.1,503.31 L269.6,501.81 L270.1,500.31 L270.6,498.84 L271.1,497.45 L271.6,496.18 L272.1,495.07 L272.6,494.14 L273.1,493.45 L273.6,492.99 L274.1,492.81 L274.6,492.87 L275.1,493.16 L275.6,493.66 L276.1,494.36 L276.6,495.24 L277.1,496.27 L277.6,497.43 L278.1,498.68 L278.6,500.01 L279.1,501.37 L279.6,502.74 L280.1,504.1 L280.6,505.41 L281.1,506.66 L281.6,507.84 L282.1,508.93 L282.6,509.93 L283.1,510.82 L283.6,511.62 L284.1,512.32 L284.6,512.93 L285.1,513.45 L285.6,513.89 L286.1,514.26 L286.6,514.56 L287.1,514.81 L287.6,515.01 L288.1,515.17 L288.6,515.3 L289.1,515.4 L289.6,515.48 L290.1,515.54 L290.6,515.58 L291.1,515.61 L291.6,515.64 L292.1,515.66 L292.6,515.67 L293.1,515.68 L293.6,515.69 L294.1,515.69 L294.6,515.69 L295.1,515.7 L295.6,515.7 L296.1,515.7 L296.6,515.7 L297.1,515.7 L297.6,515.7 L298.1,515.7 L298.6,515.7 L299.1,515.7 L299.6,515.7 L300.1,515.7 L300.6,515.7 L301.1,515.7 L301.6,515.7 L302.1,515.7 L302.6,515.7 L303.1,515.7 L303.6,515.7 L304.1,515.7 L304.6,515.7 L305.1,515.7 L305.6,515.7 L306.1,515.7 L306.4,515.7 Z" fill="#e4c4c4" fill-opacity="0.72"/>
<path d="M261.1,515.3 L261.6,515.16 L262.1,514.98 L262.6,514.75 L263.1,514.45 L263.6,514.09 L264.1,513.64 L264.6,513.11 L265.1,512.46 L265.6,511.71 L266.1,510.84 L266.6,509.85 L267.1,508.74 L267.6,507.52 L268.1,506.19 L268.6,504.79 L269.1,503.31 L269.6,501.81 L270.1,500.31 L270.6,498.84 L271.1,497.45 L271.6,496.18 L272.1,495.07 L272.6,494.14 L273.1,493.45 L273.6,492.99 L274.1,492.81 L274.6,492.87 L275.1,493.16 L275.6,493.66 L276.1,494.36 L276.6,495.24 L277.1,496.27 L277.6,497.43 L278.1,498.68 L278.6,500.01 L279.1,501.37 L279.6,502.74 L280.1,504.1 L280.6,505.41 L281.1,506.66 L281.6,507.84 L282.1,508.93 L282.6,509.93 L283.1,510.82 L283.6,511.62 L284.1,512.32 L284.6,512.93 L285.1,513.45 L285.6,513.89 L286.1,514.26 L286.6,514.56 L287.1,514.81" fill="none" stroke="#c89898" stroke-width="0.7"/>
<line x1="231.6" y1="515.4" x2="306.4" y2="515.4" stroke="#c89898" stroke-width="0.5" stroke-opacity="0.55"/>
</g>
<line x1="281.3" y1="416.7" x2="281.3" y2="516.5" stroke="#333" stroke-width="0.75" stroke-dasharray="1,0.8"/>
<path d="M231.6,516.5 L231.6,416.7 L306.4,416.7 L306.4,516.5" fill="none" stroke="#444" stroke-width="0.9"/>
<line x1="231.6" y1="516.5" x2="306.4" y2="516.5" stroke="#2b2b2b" stroke-width="1"/>
<line x1="239.7" y1="516.5" x2="239.7" y2="519" stroke="#2b2b2b" stroke-width="0.8"/>
<line x1="249.81" y1="516.5" x2="249.81" y2="518" stroke="#2b2b2b" stroke-width="0.8"/>
<line x1="255.73" y1="516.5" x2="255.73" y2="518" stroke="#2b2b2b" stroke-width="0.8"/>
<line x1="259.93" y1="516.5" x2="259.93" y2="518" stroke="#2b2b2b" stroke-width="0.8"/>
<line x1="263.19" y1="516.5" x2="263.19" y2="518" stroke="#2b2b2b" stroke-width="0.8"/>
<line x1="265.85" y1="516.5" x2="265.85" y2="518" stroke="#2b2b2b" stroke-width="0.8"/>
<line x1="268.1" y1="516.5" x2="268.1" y2="518" stroke="#2b2b2b" stroke-width="0.8"/>
<line x1="270.04" y1="516.5" x2="270.04" y2="518" stroke="#2b2b2b" stroke-width="0.8"/>
<line x1="271.76" y1="516.5" x2="271.76" y2="518" stroke="#2b2b2b" stroke-width="0.8"/>
<line x1="273.3" y1="516.5" x2="273.3" y2="519" stroke="#2b2b2b" stroke-width="0.8"/>
<line x1="283.08" y1="516.5" x2="283.08" y2="518" stroke="#2b2b2b" stroke-width="0.8"/>
<line x1="288.81" y1="516.5" x2="288.81" y2="518" stroke="#2b2b2b" stroke-width="0.8"/>
<line x1="292.87" y1="516.5" x2="292.87" y2="518" stroke="#2b2b2b" stroke-width="0.8"/>
<line x1="296.02" y1="516.5" x2="296.02" y2="518" stroke="#2b2b2b" stroke-width="0.8"/>
<line x1="298.59" y1="516.5" x2="298.59" y2="518" stroke="#2b2b2b" stroke-width="0.8"/>
<line x1="300.77" y1="516.5" x2="300.77" y2="518" stroke="#2b2b2b" stroke-width="0.8"/>
<line x1="302.65" y1="516.5" x2="302.65" y2="518" stroke="#2b2b2b" stroke-width="0.8"/>
<line x1="304.31" y1="516.5" x2="304.31" y2="518" stroke="#2b2b2b" stroke-width="0.8"/>
<line x1="305.8" y1="516.5" x2="305.8" y2="519" stroke="#2b2b2b" stroke-width="0.8"/>
<line x1="232.25" y1="516.5" x2="232.25" y2="518" stroke="#2b2b2b" stroke-width="0.8"/>
<line x1="234.5" y1="516.5" x2="234.5" y2="518" stroke="#2b2b2b" stroke-width="0.8"/>
<line x1="236.44" y1="516.5" x2="236.44" y2="518" stroke="#2b2b2b" stroke-width="0.8"/>
<line x1="238.16" y1="516.5" x2="238.16" y2="518" stroke="#2b2b2b" stroke-width="0.8"/>
<text transform="translate(240.5 528) scale(0.91 1)" font-size="5.5" text-anchor="middle" fill="#1e1e1e" stroke="#1e1e1e" stroke-width="0.08" stroke-linejoin="round">10</text>
<text transform="translate(243.6 525.6) scale(0.91 1)" font-size="4.18" text-anchor="middle" fill="#1e1e1e" stroke="#1e1e1e" stroke-width="0.06" stroke-linejoin="round">3</text>
<text transform="translate(274.1 528) scale(0.91 1)" font-size="5.5" text-anchor="middle" fill="#1e1e1e" stroke="#1e1e1e" stroke-width="0.08" stroke-linejoin="round">10</text>
<text transform="translate(277.2 525.6) scale(0.91 1)" font-size="4.18" text-anchor="middle" fill="#1e1e1e" stroke="#1e1e1e" stroke-width="0.06" stroke-linejoin="round">4</text>
<text transform="translate(301.9 528) scale(0.91 1)" font-size="5.5" text-anchor="middle" fill="#1e1e1e" stroke="#1e1e1e" stroke-width="0.08" stroke-linejoin="round">10</text>
<text transform="translate(305 525.6) scale(0.91 1)" font-size="4.18" text-anchor="middle" fill="#1e1e1e" stroke="#1e1e1e" stroke-width="0.06" stroke-linejoin="round">5</text>
<text transform="translate(273.5 540.4) scale(0.91 1)" font-size="9.68" text-anchor="middle" fill="#1e1e1e" stroke="#1e1e1e" stroke-width="0.15" stroke-linejoin="round">Lipid ROS</text>
<text transform="translate(224.5 466.4) rotate(-90) scale(0.91 1)" font-size="10.45" text-anchor="middle" fill="#1e1e1e" stroke="#1e1e1e" stroke-width="0.16" stroke-linejoin="round">Count</text>
<text transform="translate(317.7 427) scale(0.91 1)" font-size="7.7" text-anchor="start" fill="#1e1e1e" stroke="#1e1e1e" stroke-width="0.12" stroke-linejoin="round">Hygro-Puro</text>
<rect x="317.7" y="434.3" width="11" height="4.4" fill="#f0909a" stroke="#333" stroke-width="0.8"/>
<text transform="translate(333.3 438.8) scale(0.91 1)" font-size="7.7" text-anchor="start" fill="#1e1e1e" stroke="#1e1e1e" stroke-width="0.12" stroke-linejoin="round">con-sh</text>
<rect x="317.7" y="443.9" width="11" height="4.4" fill="#88eefa" stroke="#333" stroke-width="0.8"/>
<text transform="translate(333.3 448.4) scale(0.91 1)" font-size="7.7" text-anchor="start" fill="#1e1e1e" stroke="#1e1e1e" stroke-width="0.12" stroke-linejoin="round">ERα-sh#30</text>
<rect x="317.7" y="453" width="11" height="4.4" fill="#f2c490" stroke="#333" stroke-width="0.8"/>
<text transform="translate(333.3 457.5) scale(0.91 1)" font-size="7.7" text-anchor="start" fill="#1e1e1e" stroke="#1e1e1e" stroke-width="0.12" stroke-linejoin="round">ERα-sh#98</text>
<text transform="translate(317.7 477.2) scale(0.91 1)" font-size="7.7" text-anchor="start" fill="#1e1e1e" stroke="#1e1e1e" stroke-width="0.12" stroke-linejoin="round">SLC7A11-SLC3A2</text>
<rect x="317.7" y="486" width="11" height="4.4" fill="#b0f590" stroke="#333" stroke-width="0.8"/>
<text transform="translate(331.5 490.5) scale(0.91 1)" font-size="7.7" text-anchor="start" fill="#1e1e1e" stroke="#1e1e1e" stroke-width="0.12" stroke-linejoin="round">con-sh</text>
<rect x="317.7" y="495.3" width="11" height="4.4" fill="#80ad66" stroke="#333" stroke-width="0.8"/>
<text transform="translate(331.5 499.8) scale(0.91 1)" font-size="7.7" text-anchor="start" fill="#1e1e1e" stroke="#1e1e1e" stroke-width="0.12" stroke-linejoin="round">ERα-sh#30</text>
<rect x="317.7" y="505.1" width="11" height="4.4" fill="#e4c4c4" stroke="#333" stroke-width="0.8"/>
<text transform="translate(331.5 509.6) scale(0.91 1)" font-size="7.7" text-anchor="start" fill="#1e1e1e" stroke="#1e1e1e" stroke-width="0.12" stroke-linejoin="round">ERα-sh#98</text>
<text transform="translate(450.8 239.8) scale(0.91 1)" font-size="9.9" text-anchor="middle" fill="#1e1e1e" stroke="#1e1e1e" stroke-width="0.15" stroke-linejoin="round">MCF-7</text>
<line x1="408.5" y1="264.4" x2="408.5" y2="336.8" stroke="#2b2b2b" stroke-width="1.1"/>
<line x1="406" y1="264.4" x2="408.15" y2="264.4" stroke="#2b2b2b" stroke-width="1.1"/>
<text transform="translate(405 267.2) scale(0.91 1)" font-size="9.35" text-anchor="end" fill="#1e1e1e" stroke="#1e1e1e" stroke-width="0.14" stroke-linejoin="round">20</text>
<line x1="406" y1="282.4" x2="408.15" y2="282.4" stroke="#2b2b2b" stroke-width="1.1"/>
<text transform="translate(405 285.2) scale(0.91 1)" font-size="9.35" text-anchor="end" fill="#1e1e1e" stroke="#1e1e1e" stroke-width="0.14" stroke-linejoin="round">15</text>
<line x1="406" y1="300.4" x2="408.15" y2="300.4" stroke="#2b2b2b" stroke-width="1.1"/>
<text transform="translate(405 303.2) scale(0.91 1)" font-size="9.35" text-anchor="end" fill="#1e1e1e" stroke="#1e1e1e" stroke-width="0.14" stroke-linejoin="round">10</text>
<line x1="406" y1="318.4" x2="408.15" y2="318.4" stroke="#2b2b2b" stroke-width="1.1"/>
<text transform="translate(405 321.2) scale(0.91 1)" font-size="9.35" text-anchor="end" fill="#1e1e1e" stroke="#1e1e1e" stroke-width="0.14" stroke-linejoin="round">5</text>
<line x1="406" y1="336.3" x2="408.15" y2="336.3" stroke="#2b2b2b" stroke-width="1.1"/>
<text transform="translate(405 339.11) scale(0.91 1)" font-size="9.35" text-anchor="end" fill="#1e1e1e" stroke="#1e1e1e" stroke-width="0.14" stroke-linejoin="round">0</text>
<line x1="405.4" y1="336.3" x2="480" y2="336.3" stroke="#2b2b2b" stroke-width="1.1"/>
<line x1="425.5" y1="336.65" x2="425.5" y2="339.1" stroke="#2b2b2b" stroke-width="1.1"/>
<line x1="462.7" y1="336.65" x2="462.7" y2="339.1" stroke="#2b2b2b" stroke-width="1.1"/>
<rect x="412.6" y="317.6" width="5.1" height="18.7" fill="#fff" stroke="#1a1a1a" stroke-width="1.2"/>
<line x1="425.1" y1="273.5" x2="425.1" y2="274.4" stroke="#f03030" stroke-width="0.9"/>
<line x1="423.1" y1="273.5" x2="427.1" y2="273.5" stroke="#f03030" stroke-width="0.9"/>
<rect x="422.6" y="275" width="5" height="61.3" fill="#fff" stroke="#f03030" stroke-width="1.2"/>
<line x1="435.3" y1="276" x2="435.3" y2="279.1" stroke="#3030f0" stroke-width="0.9"/>
<line x1="433.3" y1="276" x2="437.3" y2="276" stroke="#3030f0" stroke-width="0.9"/>
<rect x="432.8" y="279.7" width="5" height="56.6" fill="#fff" stroke="#3030f0" stroke-width="1.2"/>
<rect x="450.2" y="318.7" width="4.8" height="17.6" fill="#fff" stroke="#1a1a1a" stroke-width="1.2"/>
<rect x="460.2" y="282" width="4.8" height="54.3" fill="#fff" stroke="#f03030" stroke-width="1.2"/>
<line x1="473.15" y1="301.8" x2="473.15" y2="303.6" stroke="#3030f0" stroke-width="0.9"/>
<line x1="471.15" y1="301.8" x2="475.15" y2="301.8" stroke="#3030f0" stroke-width="0.9"/>
<rect x="470.7" y="304.2" width="4.9" height="32.1" fill="#fff" stroke="#3030f0" stroke-width="1.2"/>
<text transform="translate(425.3 271) scale(0.91 1)" font-size="6.05" text-anchor="middle" fill="#4a4a66" stroke="#4a4a66" stroke-width="0.09" stroke-linejoin="round">###</text>
<text transform="translate(435.2 273.4) scale(0.91 1)" font-size="6.05" text-anchor="middle" fill="#4a4a66" stroke="#4a4a66" stroke-width="0.09" stroke-linejoin="round">###</text>
<line x1="436.6" y1="250.8" x2="473.2" y2="250.8" stroke="#5a5a5a" stroke-width="1.15"/>
<line x1="436.6" y1="249.2" x2="436.6" y2="252.4" stroke="#2b2b2b" stroke-width="1"/>
<line x1="473.2" y1="249.2" x2="473.2" y2="252.4" stroke="#2b2b2b" stroke-width="1"/>
<polygon points="449.5,243.75 450.22,245.21 451.83,245.44 450.67,246.58 450.94,248.18 449.5,247.42 448.06,248.18 448.33,246.58 447.17,245.44 448.78,245.21" fill="#2b2b2b"/>
<polygon points="454.1,243.75 454.82,245.21 456.43,245.44 455.27,246.58 455.54,248.18 454.1,247.42 452.66,248.18 452.93,246.58 451.77,245.44 453.38,245.21" fill="#2b2b2b"/>
<polygon points="458.7,243.75 459.42,245.21 461.03,245.44 459.87,246.58 460.14,248.18 458.7,247.42 457.26,248.18 457.53,246.58 456.37,245.44 457.98,245.21" fill="#2b2b2b"/>
<line x1="425.6" y1="262.5" x2="463.4" y2="262.5" stroke="#5a5a5a" stroke-width="1.15"/>
<line x1="425.6" y1="260.9" x2="425.6" y2="264.1" stroke="#2b2b2b" stroke-width="1"/>
<line x1="463.4" y1="260.9" x2="463.4" y2="264.1" stroke="#2b2b2b" stroke-width="1"/>
<polygon points="439.7,254.95 440.42,256.41 442.03,256.64 440.87,257.78 441.14,259.38 439.7,258.62 438.26,259.38 438.53,257.78 437.37,256.64 438.98,256.41" fill="#2b2b2b"/>
<polygon points="444.3,254.95 445.02,256.41 446.63,256.64 445.47,257.78 445.74,259.38 444.3,258.62 442.86,259.38 443.13,257.78 441.97,256.64 443.58,256.41" fill="#2b2b2b"/>
<polygon points="448.9,254.95 449.62,256.41 451.23,256.64 450.07,257.78 450.34,259.38 448.9,258.62 447.46,259.38 447.73,257.78 446.57,256.64 448.18,256.41" fill="#2b2b2b"/>
<rect x="480.4" y="259.6" width="5.8" height="5.2" fill="#fff" stroke="#1a1a1a" stroke-width="1.2"/>
<text transform="translate(491.5 265.2) scale(0.91 1)" font-size="9.02" text-anchor="start" fill="#1e1e1e" stroke="#1e1e1e" stroke-width="0.14" stroke-linejoin="round">con-sh</text>
<rect x="480.4" y="268.6" width="5.8" height="5.2" fill="#fff" stroke="#f03030" stroke-width="1.2"/>
<text transform="translate(491.5 274.2) scale(0.91 1)" font-size="9.02" text-anchor="start" fill="#1e1e1e" stroke="#1e1e1e" stroke-width="0.14" stroke-linejoin="round">ERα-sh#30</text>
<rect x="480.4" y="278.3" width="5.8" height="5.2" fill="#fff" stroke="#3030f0" stroke-width="1.2"/>
<text transform="translate(491.5 283.9) scale(0.91 1)" font-size="9.02" text-anchor="start" fill="#1e1e1e" stroke="#1e1e1e" stroke-width="0.14" stroke-linejoin="round">ERα-sh#98</text>
<text transform="translate(393.6 298.8) rotate(-90) scale(0.91 1)" font-size="8.8" text-anchor="middle" fill="#1e1e1e" stroke="#1e1e1e" stroke-width="0.13" stroke-linejoin="round">Lipid ROS positive (%)</text>
<text transform="translate(428.3 345.5) rotate(-45) scale(0.91 1)" font-size="8.91" text-anchor="end" fill="#1e1e1e" stroke="#1e1e1e" stroke-width="0.13" stroke-linejoin="round">Vector</text>
<text transform="translate(465.8 345.5) rotate(-45) scale(0.91 1)" font-size="8.91" text-anchor="end" fill="#1e1e1e" stroke="#1e1e1e" stroke-width="0.13" stroke-linejoin="round">SLC7A11-SLC3A2</text>
<text transform="translate(441.8 410.4) scale(0.91 1)" font-size="9.9" text-anchor="middle" fill="#1e1e1e" stroke="#1e1e1e" stroke-width="0.15" stroke-linejoin="round">ZR-75-1</text>
<line x1="406.2" y1="426.2" x2="406.2" y2="500.8" stroke="#2b2b2b" stroke-width="1.1"/>
<line x1="403.7" y1="426.2" x2="405.85" y2="426.2" stroke="#2b2b2b" stroke-width="1.1"/>
<text transform="translate(402.7 429) scale(0.91 1)" font-size="9.35" text-anchor="end" fill="#1e1e1e" stroke="#1e1e1e" stroke-width="0.14" stroke-linejoin="round">10</text>
<line x1="403.7" y1="441" x2="405.85" y2="441" stroke="#2b2b2b" stroke-width="1.1"/>
<text transform="translate(402.7 443.81) scale(0.91 1)" font-size="9.35" text-anchor="end" fill="#1e1e1e" stroke="#1e1e1e" stroke-width="0.14" stroke-linejoin="round">8</text>
<line x1="403.7" y1="455.8" x2="405.85" y2="455.8" stroke="#2b2b2b" stroke-width="1.1"/>
<text transform="translate(402.7 458.61) scale(0.91 1)" font-size="9.35" text-anchor="end" fill="#1e1e1e" stroke="#1e1e1e" stroke-width="0.14" stroke-linejoin="round">6</text>
<line x1="403.7" y1="470.6" x2="405.85" y2="470.6" stroke="#2b2b2b" stroke-width="1.1"/>
<text transform="translate(402.7 473.41) scale(0.91 1)" font-size="9.35" text-anchor="end" fill="#1e1e1e" stroke="#1e1e1e" stroke-width="0.14" stroke-linejoin="round">4</text>
<line x1="403.7" y1="485.4" x2="405.85" y2="485.4" stroke="#2b2b2b" stroke-width="1.1"/>
<text transform="translate(402.7 488.2) scale(0.91 1)" font-size="9.35" text-anchor="end" fill="#1e1e1e" stroke="#1e1e1e" stroke-width="0.14" stroke-linejoin="round">2</text>
<line x1="403.7" y1="500.3" x2="405.85" y2="500.3" stroke="#2b2b2b" stroke-width="1.1"/>
<text transform="translate(402.7 503.11) scale(0.91 1)" font-size="9.35" text-anchor="end" fill="#1e1e1e" stroke="#1e1e1e" stroke-width="0.14" stroke-linejoin="round">0</text>
<line x1="403.5" y1="500.3" x2="477.9" y2="500.3" stroke="#2b2b2b" stroke-width="1.1"/>
<line x1="421.9" y1="500.65" x2="421.9" y2="503.1" stroke="#2b2b2b" stroke-width="1.1"/>
<line x1="460.5" y1="500.65" x2="460.5" y2="503.1" stroke="#2b2b2b" stroke-width="1.1"/>
<rect x="409.2" y="464.2" width="4.8" height="36.1" fill="#fff" stroke="#1a1a1a" stroke-width="1.2"/>
<line x1="422" y1="440.2" x2="422" y2="445.5" stroke="#f03030" stroke-width="0.9"/>
<line x1="420" y1="440.2" x2="424" y2="440.2" stroke="#f03030" stroke-width="0.9"/>
<rect x="419.3" y="446.1" width="5.4" height="54.2" fill="#fff" stroke="#f03030" stroke-width="1.2"/>
<rect x="429.7" y="447.3" width="5.2" height="53" fill="#fff" stroke="#3030f0" stroke-width="1.2"/>
<line x1="449.9" y1="460" x2="449.9" y2="462.9" stroke="#1a1a1a" stroke-width="0.9"/>
<line x1="447.9" y1="460" x2="451.9" y2="460" stroke="#1a1a1a" stroke-width="0.9"/>
<rect x="447.3" y="463.5" width="5.2" height="36.8" fill="#fff" stroke="#1a1a1a" stroke-width="1.2"/>
<line x1="460.45" y1="450.3" x2="460.45" y2="454" stroke="#f03030" stroke-width="0.9"/>
<line x1="458.45" y1="450.3" x2="462.45" y2="450.3" stroke="#f03030" stroke-width="0.9"/>
<rect x="457.9" y="454.6" width="5.1" height="45.7" fill="#fff" stroke="#f03030" stroke-width="1.2"/>
<line x1="470.9" y1="453.2" x2="470.9" y2="455.9" stroke="#3030f0" stroke-width="0.9"/>
<line x1="468.9" y1="453.2" x2="472.9" y2="453.2" stroke="#3030f0" stroke-width="0.9"/>
<rect x="468.3" y="456.5" width="5.2" height="43.8" fill="#fff" stroke="#3030f0" stroke-width="1.2"/>
<text transform="translate(421.9 437.8) scale(0.91 1)" font-size="6.05" text-anchor="middle" fill="#4a4a66" stroke="#4a4a66" stroke-width="0.09" stroke-linejoin="round">###</text>
<text transform="translate(434.3 443.2) scale(0.91 1)" font-size="6.05" text-anchor="middle" fill="#4a4a66" stroke="#4a4a66" stroke-width="0.09" stroke-linejoin="round">###</text>
<line x1="422.6" y1="425" x2="459.8" y2="425" stroke="#5a5a5a" stroke-width="1.15"/>
<line x1="422.6" y1="423.4" x2="422.6" y2="426.6" stroke="#2b2b2b" stroke-width="1"/>
<line x1="459.8" y1="423.4" x2="459.8" y2="426.6" stroke="#2b2b2b" stroke-width="1"/>
<polygon points="441.2,417.75 441.92,419.21 443.53,419.44 442.37,420.58 442.64,422.18 441.2,421.43 439.76,422.18 440.03,420.58 438.87,419.44 440.48,419.21" fill="#2b2b2b"/>
<line x1="433.2" y1="435.4" x2="470.9" y2="435.4" stroke="#5a5a5a" stroke-width="1.15"/>
<line x1="433.2" y1="433.8" x2="433.2" y2="437" stroke="#2b2b2b" stroke-width="1"/>
<line x1="470.9" y1="433.8" x2="470.9" y2="437" stroke="#2b2b2b" stroke-width="1"/>
<polygon points="449.7,428.05 450.42,429.51 452.03,429.74 450.87,430.88 451.14,432.48 449.7,431.73 448.26,432.48 448.53,430.88 447.37,429.74 448.98,429.51" fill="#2b2b2b"/>
<polygon points="454.3,428.05 455.02,429.51 456.63,429.74 455.47,430.88 455.74,432.48 454.3,431.73 452.86,432.48 453.13,430.88 451.97,429.74 453.58,429.51" fill="#2b2b2b"/>
<rect x="481.6" y="430.6" width="5.8" height="5.2" fill="#fff" stroke="#1a1a1a" stroke-width="1.2"/>
<text transform="translate(493.1 436.2) scale(0.91 1)" font-size="9.02" text-anchor="start" fill="#1e1e1e" stroke="#1e1e1e" stroke-width="0.14" stroke-linejoin="round">con-sh</text>
<rect x="481.6" y="439.8" width="5.8" height="5.2" fill="#fff" stroke="#f03030" stroke-width="1.2"/>
<text transform="translate(493.1 445.4) scale(0.91 1)" font-size="9.02" text-anchor="start" fill="#1e1e1e" stroke="#1e1e1e" stroke-width="0.14" stroke-linejoin="round">ERα-sh#30</text>
<rect x="481.6" y="449.6" width="5.8" height="5.2" fill="#fff" stroke="#3030f0" stroke-width="1.2"/>
<text transform="translate(493.1 455.2) scale(0.91 1)" font-size="9.02" text-anchor="start" fill="#1e1e1e" stroke="#1e1e1e" stroke-width="0.14" stroke-linejoin="round">ERα-sh#98</text>
<text transform="translate(388.7 461.2) rotate(-90) scale(0.91 1)" font-size="8.8" text-anchor="middle" fill="#1e1e1e" stroke="#1e1e1e" stroke-width="0.13" stroke-linejoin="round">Lipid ROS positive (%)</text>
<text transform="translate(423.8 510.5) rotate(-45) scale(0.91 1)" font-size="8.91" text-anchor="end" fill="#1e1e1e" stroke="#1e1e1e" stroke-width="0.13" stroke-linejoin="round">Vector</text>
<text transform="translate(463.1 510.5) rotate(-45) scale(0.91 1)" font-size="8.91" text-anchor="end" fill="#1e1e1e" stroke="#1e1e1e" stroke-width="0.13" stroke-linejoin="round">SLC7A11-SLC3A2</text>
<rect x="554.2" y="244" width="9.4" height="6.6" fill="#3b9499" stroke="#2a7a80" stroke-width="0.6"/>
<text transform="translate(568.1 250.3) scale(0.91 1)" font-size="9.9" text-anchor="start" fill="#1e1e1e" stroke="#1e1e1e" stroke-width="0.15" stroke-linejoin="round">vector+vehicle</text>
<rect x="554.2" y="255.1" width="9.4" height="6.6" fill="url(#pt31)" stroke="#8a14a0" stroke-width="0.6"/>
<text transform="translate(568.1 261.4) scale(0.91 1)" font-size="9.9" text-anchor="start" fill="#1e1e1e" stroke="#1e1e1e" stroke-width="0.15" stroke-linejoin="round">vector+Fulvestrant</text>
<rect x="554.2" y="266.4" width="9.4" height="6.6" fill="url(#pt32)" stroke="#0c0c70" stroke-width="0.6"/>
<text transform="translate(568.1 272.7) scale(0.91 1)" font-size="9.9" text-anchor="start" fill="#1e1e1e" stroke="#1e1e1e" stroke-width="0.15" stroke-linejoin="round">SLC7A11/SLC3A2+Fulvestrant</text>
<text transform="translate(611.4 296.3) scale(0.91 1)" font-size="9.9" text-anchor="middle" fill="#1e1e1e" stroke="#1e1e1e" stroke-width="0.15" stroke-linejoin="round">MCF-7</text>
<line x1="586" y1="328" x2="586" y2="407.5" stroke="#2b2b2b" stroke-width="1.1"/>
<line x1="583.5" y1="328" x2="585.65" y2="328" stroke="#2b2b2b" stroke-width="1.1"/>
<text transform="translate(582.2 330.81) scale(0.91 1)" font-size="9.35" text-anchor="end" fill="#1e1e1e" stroke="#1e1e1e" stroke-width="0.14" stroke-linejoin="round">1.0</text>
<line x1="583.5" y1="343.8" x2="585.65" y2="343.8" stroke="#2b2b2b" stroke-width="1.1"/>
<text transform="translate(582.2 346.61) scale(0.91 1)" font-size="9.35" text-anchor="end" fill="#1e1e1e" stroke="#1e1e1e" stroke-width="0.14" stroke-linejoin="round">0.8</text>
<line x1="583.5" y1="359.6" x2="585.65" y2="359.6" stroke="#2b2b2b" stroke-width="1.1"/>
<text transform="translate(582.2 362.41) scale(0.91 1)" font-size="9.35" text-anchor="end" fill="#1e1e1e" stroke="#1e1e1e" stroke-width="0.14" stroke-linejoin="round">0.6</text>
<line x1="583.5" y1="375.4" x2="585.65" y2="375.4" stroke="#2b2b2b" stroke-width="1.1"/>
<text transform="translate(582.2 378.2) scale(0.91 1)" font-size="9.35" text-anchor="end" fill="#1e1e1e" stroke="#1e1e1e" stroke-width="0.14" stroke-linejoin="round">0.4</text>
<line x1="583.5" y1="391.2" x2="585.65" y2="391.2" stroke="#2b2b2b" stroke-width="1.1"/>
<text transform="translate(582.2 394) scale(0.91 1)" font-size="9.35" text-anchor="end" fill="#1e1e1e" stroke="#1e1e1e" stroke-width="0.14" stroke-linejoin="round">0.2</text>
<line x1="583.5" y1="407" x2="585.65" y2="407" stroke="#2b2b2b" stroke-width="1.1"/>
<text transform="translate(582.2 409.81) scale(0.91 1)" font-size="9.35" text-anchor="end" fill="#1e1e1e" stroke="#1e1e1e" stroke-width="0.14" stroke-linejoin="round">0.0</text>
<line x1="584" y1="407" x2="639.4" y2="407" stroke="#2b2b2b" stroke-width="1.1"/>
<line x1="597" y1="407.35" x2="597" y2="409.8" stroke="#2b2b2b" stroke-width="1.1"/>
<line x1="612.4" y1="407.35" x2="612.4" y2="409.8" stroke="#2b2b2b" stroke-width="1.1"/>
<line x1="628.6" y1="407.35" x2="628.6" y2="409.8" stroke="#2b2b2b" stroke-width="1.1"/>
<line x1="596.8" y1="335.4" x2="596.8" y2="339.4" stroke="#5aa8ad" stroke-width="0.8"/>
<line x1="594.3" y1="335.4" x2="599.3" y2="335.4" stroke="#5aa8ad" stroke-width="0.8"/>
<rect x="592" y="339.8" width="9.6" height="67.2" fill="#3b9499" stroke="#2a7a80" stroke-width="0.8"/>
<line x1="612.75" y1="356.5" x2="612.75" y2="358" stroke="#b050c0" stroke-width="0.8"/>
<line x1="610.25" y1="356.5" x2="615.25" y2="356.5" stroke="#b050c0" stroke-width="0.8"/>
<rect x="608" y="358.4" width="9.5" height="48.6" fill="url(#pt31)" stroke="#8a14a0" stroke-width="0.8"/>
<line x1="628.7" y1="337.4" x2="628.7" y2="339.2" stroke="#3a3ab0" stroke-width="0.8"/>
<line x1="626.2" y1="337.4" x2="631.2" y2="337.4" stroke="#3a3ab0" stroke-width="0.8"/>
<rect x="623.8" y="339.6" width="9.8" height="67.4" fill="url(#pt32)" stroke="#0c0c70" stroke-width="0.8"/>
<line x1="597" y1="314.8" x2="627.2" y2="314.8" stroke="#5a5a5a" stroke-width="1.15"/>
<line x1="597" y1="313.2" x2="597" y2="316.4" stroke="#2b2b2b" stroke-width="1"/>
<line x1="627.2" y1="313.2" x2="627.2" y2="316.4" stroke="#2b2b2b" stroke-width="1"/>
<text transform="translate(612.2 310.55) scale(0.91 1)" font-size="9.9" text-anchor="middle" fill="#2b2b2b" stroke="#2b2b2b" stroke-width="0.15" stroke-linejoin="round">ns</text>
<line x1="597" y1="328.8" x2="610.1" y2="328.8" stroke="#5a5a5a" stroke-width="1.15"/>
<line x1="597" y1="327.2" x2="597" y2="330.4" stroke="#2b2b2b" stroke-width="1"/>
<line x1="610.1" y1="327.2" x2="610.1" y2="330.4" stroke="#2b2b2b" stroke-width="1"/>
<polygon points="599,320.25 599.72,321.71 601.33,321.94 600.17,323.08 600.44,324.68 599,323.93 597.56,324.68 597.83,323.08 596.67,321.94 598.28,321.71" fill="#2b2b2b"/>
<polygon points="603.6,320.25 604.32,321.71 605.93,321.94 604.77,323.08 605.04,324.68 603.6,323.93 602.16,324.68 602.43,323.08 601.27,321.94 602.88,321.71" fill="#2b2b2b"/>
<polygon points="608.2,320.25 608.92,321.71 610.53,321.94 609.37,323.08 609.64,324.68 608.2,323.93 606.76,324.68 607.03,323.08 605.87,321.94 607.48,321.71" fill="#2b2b2b"/>
<line x1="612.8" y1="328.8" x2="628.5" y2="328.8" stroke="#5a5a5a" stroke-width="1.15"/>
<line x1="612.8" y1="327.2" x2="612.8" y2="330.4" stroke="#2b2b2b" stroke-width="1"/>
<line x1="628.5" y1="327.2" x2="628.5" y2="330.4" stroke="#2b2b2b" stroke-width="1"/>
<polygon points="616,320.25 616.72,321.71 618.33,321.94 617.17,323.08 617.44,324.68 616,323.93 614.56,324.68 614.83,323.08 613.67,321.94 615.28,321.71" fill="#2b2b2b"/>
<polygon points="620.6,320.25 621.32,321.71 622.93,321.94 621.77,323.08 622.04,324.68 620.6,323.93 619.16,324.68 619.43,323.08 618.27,321.94 619.88,321.71" fill="#2b2b2b"/>
<polygon points="625.2,320.25 625.92,321.71 627.53,321.94 626.37,323.08 626.64,324.68 625.2,323.93 623.76,324.68 624.03,323.08 622.87,321.94 624.48,321.71" fill="#2b2b2b"/>
<text transform="translate(567.2 365.2) rotate(-90) scale(0.91 1)" font-size="9.68" text-anchor="middle" fill="#1e1e1e" stroke="#1e1e1e" stroke-width="0.15" stroke-linejoin="round">Relative Cell Growth</text>
<text transform="translate(604.4 446.4) scale(0.91 1)" font-size="9.9" text-anchor="middle" fill="#1e1e1e" stroke="#1e1e1e" stroke-width="0.15" stroke-linejoin="round">ZR-75-1</text>
<line x1="585.5" y1="462.3" x2="585.5" y2="542.4" stroke="#2b2b2b" stroke-width="1.1"/>
<line x1="583" y1="462.3" x2="585.15" y2="462.3" stroke="#2b2b2b" stroke-width="1.1"/>
<text transform="translate(581.7 465.11) scale(0.91 1)" font-size="9.35" text-anchor="end" fill="#1e1e1e" stroke="#1e1e1e" stroke-width="0.14" stroke-linejoin="round">1.5</text>
<line x1="583" y1="488.8" x2="585.15" y2="488.8" stroke="#2b2b2b" stroke-width="1.1"/>
<text transform="translate(581.7 491.61) scale(0.91 1)" font-size="9.35" text-anchor="end" fill="#1e1e1e" stroke="#1e1e1e" stroke-width="0.14" stroke-linejoin="round">1.0</text>
<line x1="583" y1="515.3" x2="585.15" y2="515.3" stroke="#2b2b2b" stroke-width="1.1"/>
<text transform="translate(581.7 518.1) scale(0.91 1)" font-size="9.35" text-anchor="end" fill="#1e1e1e" stroke="#1e1e1e" stroke-width="0.14" stroke-linejoin="round">0.5</text>
<line x1="583" y1="541.9" x2="585.15" y2="541.9" stroke="#2b2b2b" stroke-width="1.1"/>
<text transform="translate(581.7 544.7) scale(0.91 1)" font-size="9.35" text-anchor="end" fill="#1e1e1e" stroke="#1e1e1e" stroke-width="0.14" stroke-linejoin="round">0.0</text>
<line x1="584" y1="541.9" x2="639.4" y2="541.9" stroke="#2b2b2b" stroke-width="1.1"/>
<line x1="597" y1="542.25" x2="597" y2="544.7" stroke="#2b2b2b" stroke-width="1.1"/>
<line x1="612.4" y1="542.25" x2="612.4" y2="544.7" stroke="#2b2b2b" stroke-width="1.1"/>
<line x1="628.6" y1="542.25" x2="628.6" y2="544.7" stroke="#2b2b2b" stroke-width="1.1"/>
<line x1="596.8" y1="487.4" x2="596.8" y2="489.3" stroke="#5aa8ad" stroke-width="0.8"/>
<line x1="594.3" y1="487.4" x2="599.3" y2="487.4" stroke="#5aa8ad" stroke-width="0.8"/>
<rect x="591.8" y="489.7" width="10" height="52.2" fill="#3b9499" stroke="#2a7a80" stroke-width="0.8"/>
<line x1="612.4" y1="495.2" x2="612.4" y2="496.8" stroke="#b050c0" stroke-width="0.8"/>
<line x1="609.9" y1="495.2" x2="614.9" y2="495.2" stroke="#b050c0" stroke-width="0.8"/>
<rect x="607.4" y="497.2" width="10" height="44.7" fill="url(#pt31)" stroke="#8a14a0" stroke-width="0.8"/>
<line x1="628.6" y1="489.3" x2="628.6" y2="492" stroke="#3a3ab0" stroke-width="0.8"/>
<line x1="626.1" y1="489.3" x2="631.1" y2="489.3" stroke="#3a3ab0" stroke-width="0.8"/>
<rect x="623.6" y="492.4" width="10" height="49.5" fill="url(#pt32)" stroke="#0c0c70" stroke-width="0.8"/>
<line x1="596.8" y1="467.7" x2="628.1" y2="467.7" stroke="#5a5a5a" stroke-width="1.15"/>
<line x1="596.8" y1="466.1" x2="596.8" y2="469.3" stroke="#2b2b2b" stroke-width="1"/>
<line x1="628.1" y1="466.1" x2="628.1" y2="469.3" stroke="#2b2b2b" stroke-width="1"/>
<text transform="translate(612.4 463.15) scale(0.91 1)" font-size="9.9" text-anchor="middle" fill="#2b2b2b" stroke="#2b2b2b" stroke-width="0.15" stroke-linejoin="round">ns</text>
<line x1="596.8" y1="480.6" x2="610.6" y2="480.6" stroke="#5a5a5a" stroke-width="1.15"/>
<line x1="596.8" y1="479" x2="596.8" y2="482.2" stroke="#2b2b2b" stroke-width="1"/>
<line x1="610.6" y1="479" x2="610.6" y2="482.2" stroke="#2b2b2b" stroke-width="1"/>
<polygon points="601.5,473.35 602.22,474.81 603.83,475.04 602.67,476.18 602.94,477.78 601.5,477.03 600.06,477.78 600.33,476.18 599.17,475.04 600.78,474.81" fill="#2b2b2b"/>
<polygon points="606.1,473.35 606.82,474.81 608.43,475.04 607.27,476.18 607.54,477.78 606.1,477.03 604.66,477.78 604.93,476.18 603.77,475.04 605.38,474.81" fill="#2b2b2b"/>
<line x1="612.4" y1="480.6" x2="628.1" y2="480.6" stroke="#5a5a5a" stroke-width="1.15"/>
<line x1="612.4" y1="479" x2="612.4" y2="482.2" stroke="#2b2b2b" stroke-width="1"/>
<line x1="628.1" y1="479" x2="628.1" y2="482.2" stroke="#2b2b2b" stroke-width="1"/>
<polygon points="620.5,473.35 621.22,474.81 622.83,475.04 621.67,476.18 621.94,477.78 620.5,477.03 619.06,477.78 619.33,476.18 618.17,475.04 619.78,474.81" fill="#2b2b2b"/>
<text transform="translate(566.3 500) rotate(-90) scale(0.91 1)" font-size="9.68" text-anchor="middle" fill="#1e1e1e" stroke="#1e1e1e" stroke-width="0.15" stroke-linejoin="round">Relative Cell Growth</text>
<text transform="translate(180.8 574.7) scale(0.91 1)" font-size="9.9" text-anchor="middle" fill="#1e1e1e" stroke="#1e1e1e" stroke-width="0.15" stroke-linejoin="round">MCF-7</text>
<line x1="121.7" y1="609.8" x2="121.7" y2="689" stroke="#2b2b2b" stroke-width="1.1"/>
<line x1="119.2" y1="609.8" x2="121.35" y2="609.8" stroke="#2b2b2b" stroke-width="1.1"/>
<text transform="translate(117.9 612.6) scale(0.91 1)" font-size="9.35" text-anchor="end" fill="#1e1e1e" stroke="#1e1e1e" stroke-width="0.14" stroke-linejoin="round">1.5</text>
<line x1="119.2" y1="636" x2="121.35" y2="636" stroke="#2b2b2b" stroke-width="1.1"/>
<text transform="translate(117.9 638.8) scale(0.91 1)" font-size="9.35" text-anchor="end" fill="#1e1e1e" stroke="#1e1e1e" stroke-width="0.14" stroke-linejoin="round">1.0</text>
<line x1="119.2" y1="662.2" x2="121.35" y2="662.2" stroke="#2b2b2b" stroke-width="1.1"/>
<text transform="translate(117.9 665) scale(0.91 1)" font-size="9.35" text-anchor="end" fill="#1e1e1e" stroke="#1e1e1e" stroke-width="0.14" stroke-linejoin="round">0.5</text>
<line x1="119.2" y1="688.5" x2="121.35" y2="688.5" stroke="#2b2b2b" stroke-width="1.1"/>
<text transform="translate(117.9 691.3) scale(0.91 1)" font-size="9.35" text-anchor="end" fill="#1e1e1e" stroke="#1e1e1e" stroke-width="0.14" stroke-linejoin="round">0.0</text>
<line x1="121.7" y1="688.5" x2="240.2" y2="688.5" stroke="#9a9a9a" stroke-width="1.6"/>
<line x1="149.8" y1="689.1" x2="149.8" y2="691.3" stroke="#2b2b2b" stroke-width="1.1"/>
<line x1="211.4" y1="689.1" x2="211.4" y2="691.3" stroke="#2b2b2b" stroke-width="1.1"/>
<line x1="130.4" y1="648.1" x2="130.4" y2="651.8" stroke="#7a2e16" stroke-width="0.9"/>
<line x1="127.9" y1="648.1" x2="132.9" y2="648.1" stroke="#7a2e16" stroke-width="0.9"/>
<rect x="126.65" y="652.25" width="7.5" height="36.25" fill="#a5563c" stroke="#7a2e16" stroke-width="0.9"/>
<line x1="143.55" y1="657.3" x2="143.55" y2="660" stroke="#5e1038" stroke-width="0.9"/>
<line x1="141.05" y1="657.3" x2="146.05" y2="657.3" stroke="#5e1038" stroke-width="0.9"/>
<rect x="139.65" y="660.45" width="7.8" height="28.05" fill="#9a3562" stroke="#5e1038" stroke-width="0.9"/>
<line x1="156.4" y1="665.5" x2="156.4" y2="666.3" stroke="#3a5a1a" stroke-width="0.9"/>
<line x1="153.9" y1="665.5" x2="158.9" y2="665.5" stroke="#3a5a1a" stroke-width="0.9"/>
<rect x="152.55" y="666.75" width="7.7" height="21.75" fill="#628532" stroke="#3a5a1a" stroke-width="0.9"/>
<line x1="169.85" y1="671.5" x2="169.85" y2="672.8" stroke="#1f5e48" stroke-width="0.9"/>
<line x1="167.35" y1="671.5" x2="172.35" y2="671.5" stroke="#1f5e48" stroke-width="0.9"/>
<rect x="165.85" y="673.25" width="8" height="15.25" fill="#3e8a72" stroke="#1f5e48" stroke-width="0.9"/>
<line x1="192.4" y1="615.4" x2="192.4" y2="617.9" stroke="#7a2e16" stroke-width="0.9"/>
<line x1="189.9" y1="615.4" x2="194.9" y2="615.4" stroke="#7a2e16" stroke-width="0.9"/>
<rect x="188.75" y="618.35" width="7.3" height="70.15" fill="#a5563c" stroke="#7a2e16" stroke-width="0.9"/>
<line x1="205.45" y1="635" x2="205.45" y2="635.4" stroke="#5e1038" stroke-width="0.9"/>
<line x1="202.95" y1="635" x2="207.95" y2="635" stroke="#5e1038" stroke-width="0.9"/>
<rect x="201.55" y="635.85" width="7.8" height="52.65" fill="#9a3562" stroke="#5e1038" stroke-width="0.9"/>
<line x1="218.3" y1="655.3" x2="218.3" y2="657" stroke="#3a5a1a" stroke-width="0.9"/>
<line x1="215.8" y1="655.3" x2="220.8" y2="655.3" stroke="#3a5a1a" stroke-width="0.9"/>
<rect x="214.45" y="657.45" width="7.7" height="31.05" fill="#628532" stroke="#3a5a1a" stroke-width="0.9"/>
<line x1="231.65" y1="661.6" x2="231.65" y2="664" stroke="#1f5e48" stroke-width="0.9"/>
<line x1="229.15" y1="661.6" x2="234.15" y2="661.6" stroke="#1f5e48" stroke-width="0.9"/>
<rect x="227.75" y="664.45" width="7.8" height="24.05" fill="#3e8a72" stroke="#1f5e48" stroke-width="0.9"/>
<line x1="129.7" y1="633.6" x2="154.9" y2="633.6" stroke="#5a5a5a" stroke-width="1.15"/>
<line x1="129.7" y1="632" x2="129.7" y2="635.2" stroke="#2b2b2b" stroke-width="1"/>
<line x1="154.9" y1="632" x2="154.9" y2="635.2" stroke="#2b2b2b" stroke-width="1"/>
<polygon points="137.4,625.95 138.12,627.41 139.73,627.64 138.57,628.78 138.84,630.38 137.4,629.62 135.96,630.38 136.23,628.78 135.07,627.64 136.68,627.41" fill="#2b2b2b"/>
<polygon points="142,625.95 142.72,627.41 144.33,627.64 143.17,628.78 143.44,630.38 142,629.62 140.56,630.38 140.83,628.78 139.67,627.64 141.28,627.41" fill="#2b2b2b"/>
<polygon points="146.6,625.95 147.32,627.41 148.93,627.64 147.77,628.78 148.04,630.38 146.6,629.62 145.16,630.38 145.43,628.78 144.27,627.64 145.88,627.41" fill="#2b2b2b"/>
<line x1="156" y1="633.6" x2="167.7" y2="633.6" stroke="#5a5a5a" stroke-width="1.15"/>
<line x1="156" y1="632" x2="156" y2="635.2" stroke="#2b2b2b" stroke-width="1"/>
<line x1="167.7" y1="632" x2="167.7" y2="635.2" stroke="#2b2b2b" stroke-width="1"/>
<polygon points="159.6,625.95 160.32,627.41 161.93,627.64 160.77,628.78 161.04,630.38 159.6,629.62 158.16,630.38 158.43,628.78 157.27,627.64 158.88,627.41" fill="#2b2b2b"/>
<polygon points="164.2,625.95 164.92,627.41 166.53,627.64 165.37,628.78 165.64,630.38 164.2,629.62 162.76,630.38 163.03,628.78 161.87,627.64 163.48,627.41" fill="#2b2b2b"/>
<line x1="129.7" y1="644.6" x2="142.7" y2="644.6" stroke="#5a5a5a" stroke-width="1.15"/>
<line x1="129.7" y1="643" x2="129.7" y2="646.2" stroke="#2b2b2b" stroke-width="1"/>
<line x1="142.7" y1="643" x2="142.7" y2="646.2" stroke="#2b2b2b" stroke-width="1"/>
<polygon points="131.1,636.95 131.82,638.41 133.43,638.64 132.27,639.78 132.54,641.38 131.1,640.62 129.66,641.38 129.93,639.78 128.77,638.64 130.38,638.41" fill="#2b2b2b"/>
<polygon points="135.7,636.95 136.42,638.41 138.03,638.64 136.87,639.78 137.14,641.38 135.7,640.62 134.26,641.38 134.53,639.78 133.37,638.64 134.98,638.41" fill="#2b2b2b"/>
<polygon points="140.3,636.95 141.02,638.41 142.63,638.64 141.47,639.78 141.74,641.38 140.3,640.62 138.86,641.38 139.13,639.78 137.97,638.64 139.58,638.41" fill="#2b2b2b"/>
<line x1="145" y1="644.6" x2="170" y2="644.6" stroke="#5a5a5a" stroke-width="1.15"/>
<line x1="145" y1="643" x2="145" y2="646.2" stroke="#2b2b2b" stroke-width="1"/>
<line x1="170" y1="643" x2="170" y2="646.2" stroke="#2b2b2b" stroke-width="1"/>
<polygon points="152.6,636.95 153.32,638.41 154.93,638.64 153.77,639.78 154.04,641.38 152.6,640.62 151.16,641.38 151.43,639.78 150.27,638.64 151.88,638.41" fill="#2b2b2b"/>
<polygon points="157.2,636.95 157.92,638.41 159.53,638.64 158.37,639.78 158.64,641.38 157.2,640.62 155.76,641.38 156.03,639.78 154.87,638.64 156.48,638.41" fill="#2b2b2b"/>
<polygon points="161.8,636.95 162.52,638.41 164.13,638.64 162.97,639.78 163.24,641.38 161.8,640.62 160.36,641.38 160.63,639.78 159.47,638.64 161.08,638.41" fill="#2b2b2b"/>
<line x1="190.6" y1="599.2" x2="215.6" y2="599.2" stroke="#5a5a5a" stroke-width="1.15"/>
<line x1="190.6" y1="597.6" x2="190.6" y2="600.8" stroke="#2b2b2b" stroke-width="1"/>
<line x1="215.6" y1="597.6" x2="215.6" y2="600.8" stroke="#2b2b2b" stroke-width="1"/>
<polygon points="197.5,592.15 198.22,593.61 199.83,593.84 198.67,594.98 198.94,596.58 197.5,595.83 196.06,596.58 196.33,594.98 195.17,593.84 196.78,593.61" fill="#2b2b2b"/>
<polygon points="202.1,592.15 202.82,593.61 204.43,593.84 203.27,594.98 203.54,596.58 202.1,595.83 200.66,596.58 200.93,594.98 199.77,593.84 201.38,593.61" fill="#2b2b2b"/>
<polygon points="206.7,592.15 207.42,593.61 209.03,593.84 207.87,594.98 208.14,596.58 206.7,595.83 205.26,596.58 205.53,594.98 204.37,593.84 205.98,593.61" fill="#2b2b2b"/>
<line x1="215.6" y1="599.2" x2="228.9" y2="599.2" stroke="#5a5a5a" stroke-width="1.15"/>
<line x1="215.6" y1="597.6" x2="215.6" y2="600.8" stroke="#2b2b2b" stroke-width="1"/>
<line x1="228.9" y1="597.6" x2="228.9" y2="600.8" stroke="#2b2b2b" stroke-width="1"/>
<polygon points="219.6,592.15 220.32,593.61 221.93,593.84 220.77,594.98 221.04,596.58 219.6,595.83 218.16,596.58 218.43,594.98 217.27,593.84 218.88,593.61" fill="#2b2b2b"/>
<polygon points="224.2,592.15 224.92,593.61 226.53,593.84 225.37,594.98 225.64,596.58 224.2,595.83 222.76,596.58 223.03,594.98 221.87,593.84 223.48,593.61" fill="#2b2b2b"/>
<line x1="190.6" y1="610.7" x2="204.4" y2="610.7" stroke="#5a5a5a" stroke-width="1.15"/>
<line x1="190.6" y1="609.1" x2="190.6" y2="612.3" stroke="#2b2b2b" stroke-width="1"/>
<line x1="204.4" y1="609.1" x2="204.4" y2="612.3" stroke="#2b2b2b" stroke-width="1"/>
<polygon points="193,603.05 193.72,604.51 195.33,604.74 194.17,605.88 194.44,607.48 193,606.73 191.56,607.48 191.83,605.88 190.67,604.74 192.28,604.51" fill="#2b2b2b"/>
<polygon points="197.6,603.05 198.32,604.51 199.93,604.74 198.77,605.88 199.04,607.48 197.6,606.73 196.16,607.48 196.43,605.88 195.27,604.74 196.88,604.51" fill="#2b2b2b"/>
<polygon points="202.2,603.05 202.92,604.51 204.53,604.74 203.37,605.88 203.64,607.48 202.2,606.73 200.76,607.48 201.03,605.88 199.87,604.74 201.48,604.51" fill="#2b2b2b"/>
<line x1="206.8" y1="610.7" x2="232" y2="610.7" stroke="#5a5a5a" stroke-width="1.15"/>
<line x1="206.8" y1="609.1" x2="206.8" y2="612.3" stroke="#2b2b2b" stroke-width="1"/>
<line x1="232" y1="609.1" x2="232" y2="612.3" stroke="#2b2b2b" stroke-width="1"/>
<polygon points="214.1,603.05 214.82,604.51 216.43,604.74 215.27,605.88 215.54,607.48 214.1,606.73 212.66,607.48 212.93,605.88 211.77,604.74 213.38,604.51" fill="#2b2b2b"/>
<polygon points="218.7,603.05 219.42,604.51 221.03,604.74 219.87,605.88 220.14,607.48 218.7,606.73 217.26,607.48 217.53,605.88 216.37,604.74 217.98,604.51" fill="#2b2b2b"/>
<polygon points="223.3,603.05 224.02,604.51 225.63,604.74 224.47,605.88 224.74,607.48 223.3,606.73 221.86,607.48 222.13,605.88 220.97,604.74 222.58,604.51" fill="#2b2b2b"/>
<text transform="translate(149.6 700.8) scale(0.91 1)" font-size="9.9" text-anchor="middle" fill="#1e1e1e" stroke="#1e1e1e" stroke-width="0.15" stroke-linejoin="round">Vehicle</text>
<text transform="translate(210.3 700.8) scale(0.91 1)" font-size="9.9" text-anchor="middle" fill="#1e1e1e" stroke="#1e1e1e" stroke-width="0.15" stroke-linejoin="round">E</text>
<text transform="translate(214.5 703) scale(0.91 1)" font-size="6.6" text-anchor="middle" fill="#1e1e1e" stroke="#1e1e1e" stroke-width="0.1" stroke-linejoin="round">2</text>
<text transform="translate(101.8 646.9) rotate(-90) scale(0.91 1)" font-size="9.9" text-anchor="middle" fill="#1e1e1e" stroke="#1e1e1e" stroke-width="0.15" stroke-linejoin="round">Absorbance (540nm)</text>
<rect x="250.9" y="605.5" width="8.4" height="6.4" fill="#a5563c" stroke="#7a2e16" stroke-width="0.7"/>
<text transform="translate(264.5 611.7) scale(0.91 1)" font-size="9.9" text-anchor="start" fill="#7a2e16" stroke="#7a2e16" stroke-width="0.15" stroke-linejoin="round">Vehicle</text>
<rect x="250.9" y="616.3" width="8.4" height="6.4" fill="#9a3562" stroke="#5e1038" stroke-width="0.7"/>
<text transform="translate(264.5 622.5) scale(0.91 1)" font-size="9.9" text-anchor="start" fill="#5e1038" stroke="#5e1038" stroke-width="0.15" stroke-linejoin="round">Tamoxifen</text>
<rect x="250.9" y="627.8" width="8.4" height="6.4" fill="#628532" stroke="#3a5a1a" stroke-width="0.7"/>
<text transform="translate(264.5 634) scale(0.91 1)" font-size="9.9" text-anchor="start" fill="#3a5a1a" stroke="#3a5a1a" stroke-width="0.15" stroke-linejoin="round">Erastin</text>
<rect x="250.9" y="639.1" width="8.4" height="6.4" fill="#3e8a72" stroke="#1f5e48" stroke-width="0.7"/>
<text transform="translate(264.5 645.3) scale(0.91 1)" font-size="9.9" text-anchor="start" fill="#1f5e48" stroke="#1f5e48" stroke-width="0.15" stroke-linejoin="round">Tamoxifen+Erastin</text>
<text transform="translate(462.2 575.8) scale(0.91 1)" font-size="9.9" text-anchor="middle" fill="#1e1e1e" stroke="#1e1e1e" stroke-width="0.15" stroke-linejoin="round">ZR-75-1</text>
<line x1="397.4" y1="609.1" x2="397.4" y2="688.5" stroke="#2b2b2b" stroke-width="1.1"/>
<line x1="394.9" y1="609.1" x2="397.05" y2="609.1" stroke="#2b2b2b" stroke-width="1.1"/>
<text transform="translate(393.6 611.9) scale(0.91 1)" font-size="9.35" text-anchor="end" fill="#1e1e1e" stroke="#1e1e1e" stroke-width="0.14" stroke-linejoin="round">3</text>
<line x1="394.9" y1="635.4" x2="397.05" y2="635.4" stroke="#2b2b2b" stroke-width="1.1"/>
<text transform="translate(393.6 638.2) scale(0.91 1)" font-size="9.35" text-anchor="end" fill="#1e1e1e" stroke="#1e1e1e" stroke-width="0.14" stroke-linejoin="round">2</text>
<line x1="394.9" y1="661.7" x2="397.05" y2="661.7" stroke="#2b2b2b" stroke-width="1.1"/>
<text transform="translate(393.6 664.5) scale(0.91 1)" font-size="9.35" text-anchor="end" fill="#1e1e1e" stroke="#1e1e1e" stroke-width="0.14" stroke-linejoin="round">1</text>
<line x1="394.9" y1="688" x2="397.05" y2="688" stroke="#2b2b2b" stroke-width="1.1"/>
<text transform="translate(393.6 690.8) scale(0.91 1)" font-size="9.35" text-anchor="end" fill="#1e1e1e" stroke="#1e1e1e" stroke-width="0.14" stroke-linejoin="round">0</text>
<line x1="397.4" y1="688" x2="513" y2="688" stroke="#2b2b2b" stroke-width="1.1"/>
<line x1="427.3" y1="688.35" x2="427.3" y2="690.8" stroke="#2b2b2b" stroke-width="1.1"/>
<line x1="489.2" y1="688.35" x2="489.2" y2="690.8" stroke="#2b2b2b" stroke-width="1.1"/>
<line x1="407.3" y1="646.9" x2="407.3" y2="649.9" stroke="#7a2e16" stroke-width="0.9"/>
<line x1="404.8" y1="646.9" x2="409.8" y2="646.9" stroke="#7a2e16" stroke-width="0.9"/>
<rect x="403.65" y="650.35" width="7.3" height="37.65" fill="#a5563c" stroke="#7a2e16" stroke-width="0.9"/>
<line x1="420.6" y1="656.2" x2="420.6" y2="659.3" stroke="#5e1038" stroke-width="0.9"/>
<line x1="418.1" y1="656.2" x2="423.1" y2="656.2" stroke="#5e1038" stroke-width="0.9"/>
<rect x="416.95" y="659.75" width="7.3" height="28.25" fill="#9a3562" stroke="#5e1038" stroke-width="0.9"/>
<line x1="433.6" y1="654" x2="433.6" y2="655.1" stroke="#3a5a1a" stroke-width="0.9"/>
<line x1="431.1" y1="654" x2="436.1" y2="654" stroke="#3a5a1a" stroke-width="0.9"/>
<rect x="429.85" y="655.55" width="7.5" height="32.45" fill="#628532" stroke="#3a5a1a" stroke-width="0.9"/>
<line x1="447" y1="654.1" x2="447" y2="657.6" stroke="#1f5e48" stroke-width="0.9"/>
<line x1="444.5" y1="654.1" x2="449.5" y2="654.1" stroke="#1f5e48" stroke-width="0.9"/>
<rect x="443.35" y="658.05" width="7.3" height="29.95" fill="#3e8a72" stroke="#1f5e48" stroke-width="0.9"/>
<line x1="469.2" y1="619.6" x2="469.2" y2="622.6" stroke="#7a2e16" stroke-width="0.9"/>
<line x1="466.7" y1="619.6" x2="471.7" y2="619.6" stroke="#7a2e16" stroke-width="0.9"/>
<rect x="465.55" y="623.05" width="7.3" height="64.95" fill="#a5563c" stroke="#7a2e16" stroke-width="0.9"/>
<line x1="482.5" y1="632.4" x2="482.5" y2="635.9" stroke="#5e1038" stroke-width="0.9"/>
<line x1="480" y1="632.4" x2="485" y2="632.4" stroke="#5e1038" stroke-width="0.9"/>
<rect x="478.85" y="636.35" width="7.3" height="51.65" fill="#9a3562" stroke="#5e1038" stroke-width="0.9"/>
<line x1="495.4" y1="631.2" x2="495.4" y2="634.3" stroke="#3a5a1a" stroke-width="0.9"/>
<line x1="492.9" y1="631.2" x2="497.9" y2="631.2" stroke="#3a5a1a" stroke-width="0.9"/>
<rect x="491.75" y="634.75" width="7.3" height="53.25" fill="#628532" stroke="#3a5a1a" stroke-width="0.9"/>
<line x1="508.7" y1="646.4" x2="508.7" y2="648.8" stroke="#1f5e48" stroke-width="0.9"/>
<line x1="506.2" y1="646.4" x2="511.2" y2="646.4" stroke="#1f5e48" stroke-width="0.9"/>
<rect x="504.85" y="649.25" width="7.7" height="38.75" fill="#3e8a72" stroke="#1f5e48" stroke-width="0.9"/>
<line x1="407.4" y1="630.5" x2="432.4" y2="630.5" stroke="#5c5c5c" stroke-width="1.15"/>
<line x1="407.4" y1="628.9" x2="407.4" y2="632.1" stroke="#5c5c5c" stroke-width="1"/>
<line x1="432.4" y1="628.9" x2="432.4" y2="632.1" stroke="#5c5c5c" stroke-width="1"/>
<text transform="translate(419.6 627.25) scale(0.91 1)" font-size="9.9" text-anchor="middle" fill="#5c5c5c" stroke="#5c5c5c" stroke-width="0.15" stroke-linejoin="round">ns</text>
<line x1="432.4" y1="630.5" x2="446.4" y2="630.5" stroke="#5c5c5c" stroke-width="1.15"/>
<line x1="432.4" y1="628.9" x2="432.4" y2="632.1" stroke="#5c5c5c" stroke-width="1"/>
<line x1="446.4" y1="628.9" x2="446.4" y2="632.1" stroke="#5c5c5c" stroke-width="1"/>
<text transform="translate(439.4 627.25) scale(0.91 1)" font-size="9.9" text-anchor="middle" fill="#5c5c5c" stroke="#5c5c5c" stroke-width="0.15" stroke-linejoin="round">ns</text>
<line x1="407.4" y1="643.6" x2="421.2" y2="643.6" stroke="#5a5a5a" stroke-width="1.15"/>
<line x1="407.4" y1="642" x2="407.4" y2="645.2" stroke="#2b2b2b" stroke-width="1"/>
<line x1="421.2" y1="642" x2="421.2" y2="645.2" stroke="#2b2b2b" stroke-width="1"/>
<polygon points="411.9,636.55 412.62,638.01 414.23,638.24 413.07,639.38 413.34,640.98 411.9,640.23 410.46,640.98 410.73,639.38 409.57,638.24 411.18,638.01" fill="#2b2b2b"/>
<polygon points="416.5,636.55 417.22,638.01 418.83,638.24 417.67,639.38 417.94,640.98 416.5,640.23 415.06,640.98 415.33,639.38 414.17,638.24 415.78,638.01" fill="#2b2b2b"/>
<line x1="421.9" y1="643.6" x2="446.4" y2="643.6" stroke="#5c5c5c" stroke-width="1.15"/>
<line x1="421.9" y1="642" x2="421.9" y2="645.2" stroke="#5c5c5c" stroke-width="1"/>
<line x1="446.4" y1="642" x2="446.4" y2="645.2" stroke="#5c5c5c" stroke-width="1"/>
<text transform="translate(434.3 640.05) scale(0.91 1)" font-size="9.9" text-anchor="middle" fill="#5c5c5c" stroke="#5c5c5c" stroke-width="0.15" stroke-linejoin="round">ns</text>
<line x1="468.6" y1="603.7" x2="497.8" y2="603.7" stroke="#5a5a5a" stroke-width="1.15"/>
<line x1="468.6" y1="602.1" x2="468.6" y2="605.3" stroke="#2b2b2b" stroke-width="1"/>
<line x1="497.8" y1="602.1" x2="497.8" y2="605.3" stroke="#2b2b2b" stroke-width="1"/>
<polygon points="478.7,596.05 479.42,597.51 481.03,597.74 479.87,598.88 480.14,600.48 478.7,599.73 477.26,600.48 477.53,598.88 476.37,597.74 477.98,597.51" fill="#2b2b2b"/>
<polygon points="483.3,596.05 484.02,597.51 485.63,597.74 484.47,598.88 484.74,600.48 483.3,599.73 481.86,600.48 482.13,598.88 480.97,597.74 482.58,597.51" fill="#2b2b2b"/>
<polygon points="487.9,596.05 488.62,597.51 490.23,597.74 489.07,598.88 489.34,600.48 487.9,599.73 486.46,600.48 486.73,598.88 485.57,597.74 487.18,597.51" fill="#2b2b2b"/>
<line x1="498.3" y1="603.7" x2="508.8" y2="603.7" stroke="#5a5a5a" stroke-width="1.15"/>
<line x1="498.3" y1="602.1" x2="498.3" y2="605.3" stroke="#2b2b2b" stroke-width="1"/>
<line x1="508.8" y1="602.1" x2="508.8" y2="605.3" stroke="#2b2b2b" stroke-width="1"/>
<polygon points="499.1,596.05 499.82,597.51 501.43,597.74 500.27,598.88 500.54,600.48 499.1,599.73 497.66,600.48 497.93,598.88 496.77,597.74 498.38,597.51" fill="#2b2b2b"/>
<polygon points="503.7,596.05 504.42,597.51 506.03,597.74 504.87,598.88 505.14,600.48 503.7,599.73 502.26,600.48 502.53,598.88 501.37,597.74 502.98,597.51" fill="#2b2b2b"/>
<polygon points="508.3,596.05 509.02,597.51 510.63,597.74 509.47,598.88 509.74,600.48 508.3,599.73 506.86,600.48 507.13,598.88 505.97,597.74 507.58,597.51" fill="#2b2b2b"/>
<line x1="468.6" y1="615.4" x2="482.6" y2="615.4" stroke="#5a5a5a" stroke-width="1.15"/>
<line x1="468.6" y1="613.8" x2="468.6" y2="617" stroke="#2b2b2b" stroke-width="1"/>
<line x1="482.6" y1="613.8" x2="482.6" y2="617" stroke="#2b2b2b" stroke-width="1"/>
<polygon points="471,607.75 471.72,609.21 473.33,609.44 472.17,610.58 472.44,612.18 471,611.43 469.56,612.18 469.83,610.58 468.67,609.44 470.28,609.21" fill="#2b2b2b"/>
<polygon points="475.6,607.75 476.32,609.21 477.93,609.44 476.77,610.58 477.04,612.18 475.6,611.43 474.16,612.18 474.43,610.58 473.27,609.44 474.88,609.21" fill="#2b2b2b"/>
<polygon points="480.2,607.75 480.92,609.21 482.53,609.44 481.37,610.58 481.64,612.18 480.2,611.43 478.76,612.18 479.03,610.58 477.87,609.44 479.48,609.21" fill="#2b2b2b"/>
<line x1="484.3" y1="615.4" x2="508.8" y2="615.4" stroke="#5a5a5a" stroke-width="1.15"/>
<line x1="484.3" y1="613.8" x2="484.3" y2="617" stroke="#2b2b2b" stroke-width="1"/>
<line x1="508.8" y1="613.8" x2="508.8" y2="617" stroke="#2b2b2b" stroke-width="1"/>
<polygon points="492.1,607.75 492.82,609.21 494.43,609.44 493.27,610.58 493.54,612.18 492.1,611.43 490.66,612.18 490.93,610.58 489.77,609.44 491.38,609.21" fill="#2b2b2b"/>
<polygon points="496.7,607.75 497.42,609.21 499.03,609.44 497.87,610.58 498.14,612.18 496.7,611.43 495.26,612.18 495.53,610.58 494.37,609.44 495.98,609.21" fill="#2b2b2b"/>
<polygon points="501.3,607.75 502.02,609.21 503.63,609.44 502.47,610.58 502.74,612.18 501.3,611.43 499.86,612.18 500.13,610.58 498.97,609.44 500.58,609.21" fill="#2b2b2b"/>
<text transform="translate(427 700.8) scale(0.91 1)" font-size="9.9" text-anchor="middle" fill="#1e1e1e" stroke="#1e1e1e" stroke-width="0.15" stroke-linejoin="round">Vehicle</text>
<text transform="translate(487.3 700.8) scale(0.91 1)" font-size="9.9" text-anchor="middle" fill="#1e1e1e" stroke="#1e1e1e" stroke-width="0.15" stroke-linejoin="round">E</text>
<text transform="translate(491.5 703) scale(0.91 1)" font-size="6.6" text-anchor="middle" fill="#1e1e1e" stroke="#1e1e1e" stroke-width="0.1" stroke-linejoin="round">2</text>
<text transform="translate(385.2 646.4) rotate(-90) scale(0.91 1)" font-size="9.9" text-anchor="middle" fill="#1e1e1e" stroke="#1e1e1e" stroke-width="0.15" stroke-linejoin="round">Absorbance (540nm)</text>
<rect x="526.5" y="605.7" width="8.4" height="6.4" fill="#a5563c" stroke="#7a2e16" stroke-width="0.7"/>
<text transform="translate(540 611.9) scale(0.91 1)" font-size="9.9" text-anchor="start" fill="#7a2e16" stroke="#7a2e16" stroke-width="0.15" stroke-linejoin="round">Vehicle</text>
<rect x="526.5" y="616.6" width="8.4" height="6.4" fill="#9a3562" stroke="#5e1038" stroke-width="0.7"/>
<text transform="translate(540 622.8) scale(0.91 1)" font-size="9.9" text-anchor="start" fill="#5e1038" stroke="#5e1038" stroke-width="0.15" stroke-linejoin="round">Tamoxifen</text>
<rect x="526.5" y="628" width="8.4" height="6.4" fill="#628532" stroke="#3a5a1a" stroke-width="0.7"/>
<text transform="translate(540 634.2) scale(0.91 1)" font-size="9.9" text-anchor="start" fill="#3a5a1a" stroke="#3a5a1a" stroke-width="0.15" stroke-linejoin="round">Erastin</text>
<rect x="526.5" y="639" width="8.4" height="6.4" fill="#3e8a72" stroke="#1f5e48" stroke-width="0.7"/>
<text transform="translate(540 645.2) scale(0.91 1)" font-size="9.9" text-anchor="start" fill="#1f5e48" stroke="#1f5e48" stroke-width="0.15" stroke-linejoin="round">Tamoxifen+Erastin</text></svg></body></html>
